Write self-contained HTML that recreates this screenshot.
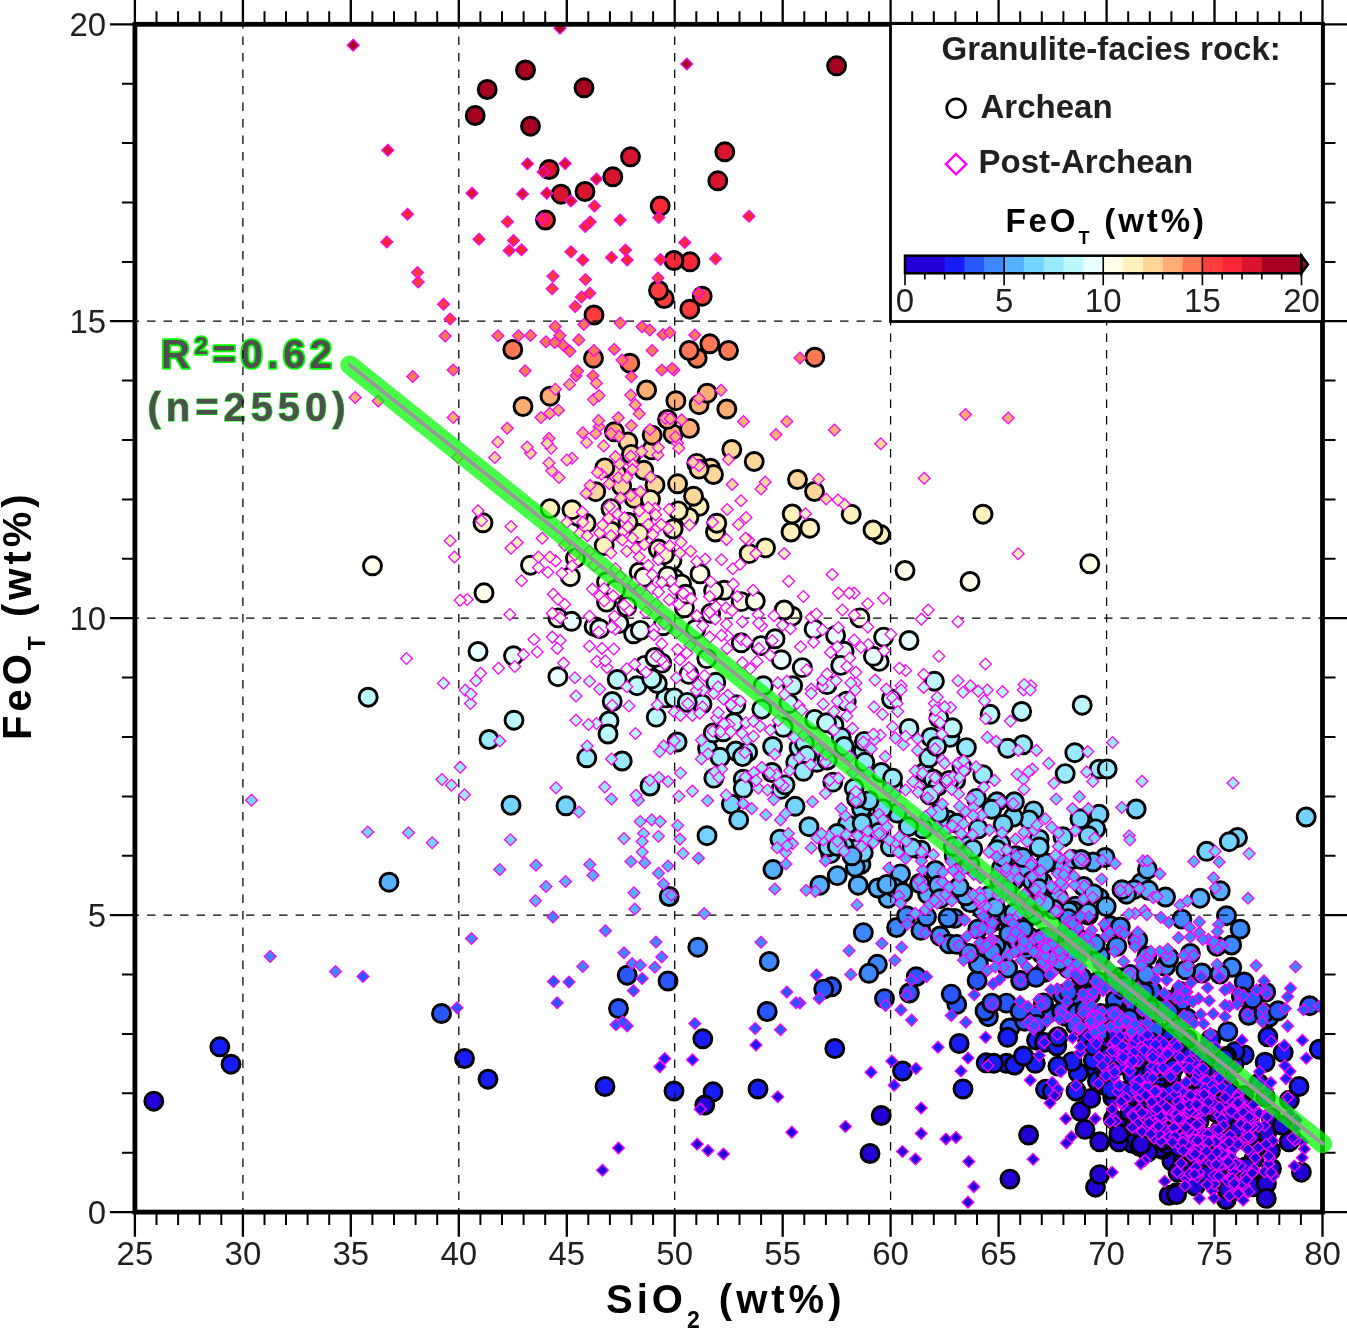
<!DOCTYPE html>
<html lang="en"><head><meta charset="utf-8"><title>FeOT vs SiO2</title>
<style>html,body{margin:0;padding:0;background:#fff}svg{display:block}text{font-family:"Liberation Sans",sans-serif}.tl{font-size:33px;fill:#231f20}.b{font-weight:bold}.c{stroke:#000;stroke-width:2.9}.d{stroke:#f0f;stroke-width:1.3}.k0{fill:#2400d8}.k1{fill:#181cf7}.k2{fill:#2857ff}.k3{fill:#3d87ff}.k4{fill:#56b0ff}.k5{fill:#75d3ff}.k6{fill:#99eaff}.k7{fill:#bcf9ff}.k8{fill:#eaffff}.k9{fill:#ffffea}.k10{fill:#fff1bc}.k11{fill:#ffd699}.k12{fill:#ffac75}.k13{fill:#ff7856}.k14{fill:#ff3d3d}.k15{fill:#f72735}.k16{fill:#d8152f}.k17{fill:#a50021}</style></head><body>
<svg width="1347" height="1328" viewBox="0 0 1347 1328">
<rect width="1347" height="1328" fill="#fff"/>
<defs><clipPath id="cp"><rect x="134.9" y="24.3" width="1187.6" height="1187.8"/></clipPath></defs>
<g clip-path="url(#cp)">
<circle class="c k2" cx="1155.5" cy="1028.7" r="9"/>
<circle class="c k1" cx="1229.3" cy="1087.2" r="9"/>
<circle class="c k5" cx="897.1" cy="813.1" r="9"/>
<circle class="c k3" cx="1000.1" cy="920.5" r="9"/>
<circle class="c k9" cx="606.5" cy="602.1" r="9"/>
<circle class="c k5" cx="1033.6" cy="810.9" r="9"/>
<circle class="c k3" cx="954.6" cy="918.4" r="9"/>
<circle class="c k4" cx="861.0" cy="864.3" r="9"/>
<circle class="c k0" cx="1226.1" cy="1151.9" r="9"/>
<circle class="c k0" cx="1250.5" cy="1115.3" r="9"/>
<circle class="c k3" cx="1201.9" cy="973.0" r="9"/>
<circle class="c k2" cx="1169.8" cy="1000.1" r="9"/>
<circle class="c k1" cx="1137.8" cy="1068.3" r="9"/>
<circle class="c k6" cx="781.0" cy="789.4" r="9"/>
<circle class="c k7" cx="1021.7" cy="711.5" r="9"/>
<circle class="c k1" cx="1187.4" cy="1039.4" r="9"/>
<circle class="c k2" cx="1116.5" cy="1015.3" r="9"/>
<circle class="c k11" cx="655.0" cy="484.9" r="9"/>
<circle class="c k2" cx="1089.4" cy="1033.9" r="9"/>
<circle class="c k3" cx="1231.8" cy="967.3" r="9"/>
<circle class="c k4" cx="947.8" cy="891.3" r="9"/>
<circle class="c k6" cx="622.2" cy="761.0" r="9"/>
<circle class="c k4" cx="1004.0" cy="880.4" r="9"/>
<circle class="c k2" cx="1160.3" cy="1008.5" r="9"/>
<circle class="c k0" cx="1271.5" cy="1168.5" r="9"/>
<circle class="c k7" cx="665.8" cy="697.9" r="9"/>
<circle class="c k9" cx="859.9" cy="617.9" r="9"/>
<circle class="c k13" cx="697.2" cy="358.2" r="9"/>
<circle class="c k6" cx="854.2" cy="788.3" r="9"/>
<circle class="c k1" cx="1174.8" cy="1053.9" r="9"/>
<circle class="c k3" cx="1052.3" cy="938.4" r="9"/>
<circle class="c k4" cx="773.0" cy="869.5" r="9"/>
<circle class="c k1" cx="1130.7" cy="1089.9" r="9"/>
<circle class="c k0" cx="1192.9" cy="1132.3" r="9"/>
<circle class="c k1" cx="1036.5" cy="1040.2" r="9"/>
<circle class="c k3" cx="1022.2" cy="934.5" r="9"/>
<circle class="c k0" cx="1130.8" cy="1112.8" r="9"/>
<circle class="c k6" cx="795.7" cy="762.3" r="9"/>
<circle class="c k5" cx="1029.1" cy="819.9" r="9"/>
<circle class="c k5" cx="511.0" cy="805.2" r="9"/>
<circle class="c k0" cx="1210.1" cy="1108.2" r="9"/>
<circle class="c k0" cx="1270.5" cy="1150.5" r="9"/>
<circle class="c k9" cx="724.3" cy="590.3" r="9"/>
<circle class="c k0" cx="1289.4" cy="1122.7" r="9"/>
<circle class="c k2" cx="1168.8" cy="1010.7" r="9"/>
<circle class="c k3" cx="769.2" cy="961.5" r="9"/>
<circle class="c k1" cx="1149.6" cy="1084.6" r="9"/>
<circle class="c k4" cx="1083.6" cy="886.5" r="9"/>
<circle class="c k5" cx="809.0" cy="826.7" r="9"/>
<circle class="c k4" cx="1044.0" cy="887.0" r="9"/>
<circle class="c k0" cx="1113.3" cy="1119.2" r="9"/>
<circle class="c k8" cx="802.3" cy="667.6" r="9"/>
<circle class="c k2" cx="1134.5" cy="1015.7" r="9"/>
<circle class="c k2" cx="956.8" cy="1004.3" r="9"/>
<circle class="c k5" cx="1237.5" cy="837.5" r="9"/>
<circle class="c k3" cx="1085.3" cy="947.6" r="9"/>
<circle class="c k2" cx="1066.2" cy="1016.6" r="9"/>
<circle class="c k4" cx="1022.1" cy="870.8" r="9"/>
<circle class="c k0" cx="1256.2" cy="1148.9" r="9"/>
<circle class="c k0" cx="1132.4" cy="1143.3" r="9"/>
<circle class="c k11" cx="616.6" cy="473.6" r="9"/>
<circle class="c k2" cx="1009.9" cy="1028.0" r="9"/>
<circle class="c k10" cx="765.5" cy="547.9" r="9"/>
<circle class="c k1" cx="1267.9" cy="1036.8" r="9"/>
<circle class="c k1" cx="1195.3" cy="1070.6" r="9"/>
<circle class="c k9" cx="626.8" cy="606.6" r="9"/>
<circle class="c k0" cx="1289.4" cy="1100.1" r="9"/>
<circle class="c k0" cx="1139.9" cy="1146.5" r="9"/>
<circle class="c k2" cx="1048.5" cy="1012.9" r="9"/>
<circle class="c k5" cx="1039.2" cy="839.1" r="9"/>
<circle class="c k4" cx="897.1" cy="880.7" r="9"/>
<circle class="c k5" cx="855.3" cy="849.0" r="9"/>
<circle class="c k2" cx="1137.0" cy="993.3" r="9"/>
<circle class="c k9" cx="1089.8" cy="563.8" r="9"/>
<circle class="c k6" cx="924.3" cy="772.5" r="9"/>
<circle class="c k2" cx="1150.9" cy="1032.4" r="9"/>
<circle class="c k6" cx="816.9" cy="762.3" r="9"/>
<circle class="c k3" cx="1137.8" cy="940.0" r="9"/>
<circle class="c k7" cx="833.9" cy="725.0" r="9"/>
<circle class="c k1" cx="963.0" cy="1089.0" r="9"/>
<circle class="c k10" cx="586.1" cy="523.3" r="9"/>
<circle class="c k0" cx="1134.8" cy="1104.7" r="9"/>
<circle class="c k5" cx="890.4" cy="846.8" r="9"/>
<circle class="c k0" cx="1291.8" cy="1138.6" r="9"/>
<circle class="c k0" cx="1170.3" cy="1116.1" r="9"/>
<circle class="c k1" cx="1101.1" cy="1056.9" r="9"/>
<circle class="c k5" cx="1013.3" cy="817.1" r="9"/>
<circle class="c k6" cx="713.8" cy="778.1" r="9"/>
<circle class="c k2" cx="1244.2" cy="982.0" r="9"/>
<circle class="c k0" cx="1226.3" cy="1199.6" r="9"/>
<circle class="c k1" cx="1141.9" cy="1071.5" r="9"/>
<circle class="c k7" cx="761.8" cy="709.2" r="9"/>
<circle class="c k9" cx="970.0" cy="581.5" r="9"/>
<circle class="c k7" cx="909.0" cy="728.4" r="9"/>
<circle class="c k1" cx="1110.7" cy="1038.4" r="9"/>
<circle class="c k0" cx="1219.0" cy="1107.2" r="9"/>
<circle class="c k12" cx="699.1" cy="404.7" r="9"/>
<circle class="c k16" cx="585.0" cy="191.5" r="9"/>
<circle class="c k4" cx="996.5" cy="911.2" r="9"/>
<circle class="c k6" cx="735.8" cy="751.0" r="9"/>
<circle class="c k2" cx="1043.4" cy="1002.9" r="9"/>
<circle class="c k3" cx="1054.9" cy="961.3" r="9"/>
<circle class="c k14" cx="664.2" cy="298.5" r="9"/>
<circle class="c k3" cx="998.3" cy="947.5" r="9"/>
<circle class="c k2" cx="1114.9" cy="1007.6" r="9"/>
<circle class="c k0" cx="1208.9" cy="1100.6" r="9"/>
<circle class="c k2" cx="1113.3" cy="1014.6" r="9"/>
<circle class="c k1" cx="1204.1" cy="1087.0" r="9"/>
<circle class="c k9" cx="557.9" cy="617.9" r="9"/>
<circle class="c k6" cx="863.3" cy="751.0" r="9"/>
<circle class="c k4" cx="1141.2" cy="882.9" r="9"/>
<circle class="c k0" cx="1247.0" cy="1113.5" r="9"/>
<circle class="c k2" cx="1134.9" cy="984.9" r="9"/>
<circle class="c k0" cx="1120.1" cy="1127.1" r="9"/>
<circle class="c k5" cx="948.0" cy="819.9" r="9"/>
<circle class="c k2" cx="1180.3" cy="998.8" r="9"/>
<circle class="c k3" cx="1072.2" cy="953.9" r="9"/>
<circle class="c k1" cx="1140.4" cy="1069.2" r="9"/>
<circle class="c k7" cx="657.3" cy="683.5" r="9"/>
<circle class="c k0" cx="1217.4" cy="1102.0" r="9"/>
<circle class="c k5" cx="1014.4" cy="801.8" r="9"/>
<circle class="c k2" cx="1171.0" cy="1010.2" r="9"/>
<circle class="c k9" cx="684.4" cy="607.8" r="9"/>
<circle class="c k11" cx="651.7" cy="449.9" r="9"/>
<circle class="c k9" cx="639.2" cy="572.2" r="9"/>
<circle class="c k2" cx="1134.0" cy="1005.3" r="9"/>
<circle class="c k4" cx="1042.6" cy="882.3" r="9"/>
<circle class="c k12" cx="523.0" cy="406.5" r="9"/>
<circle class="c k7" cx="846.3" cy="701.3" r="9"/>
<circle class="c k9" cx="710.7" cy="613.4" r="9"/>
<circle class="c k8" cx="513.5" cy="655.8" r="9"/>
<circle class="c k4" cx="900.5" cy="873.9" r="9"/>
<circle class="c k4" cx="1001.2" cy="884.3" r="9"/>
<circle class="c k1" cx="464.5" cy="1058.5" r="9"/>
<circle class="c k15" cx="690.0" cy="261.8" r="9"/>
<circle class="c k1" cx="1214.6" cy="1055.3" r="9"/>
<circle class="c k0" cx="1095.5" cy="1187.2" r="9"/>
<circle class="c k1" cx="1244.2" cy="1054.9" r="9"/>
<circle class="c k2" cx="1034.4" cy="1015.0" r="9"/>
<circle class="c k9" cx="606.5" cy="581.8" r="9"/>
<circle class="c k9" cx="674.3" cy="578.4" r="9"/>
<circle class="c k0" cx="1226.7" cy="1188.5" r="9"/>
<circle class="c k0" cx="1155.7" cy="1108.8" r="9"/>
<circle class="c k4" cx="1105.1" cy="857.5" r="9"/>
<circle class="c k3" cx="1043.6" cy="937.4" r="9"/>
<circle class="c k17" cx="525.5" cy="70.0" r="9"/>
<circle class="c k1" cx="1216.4" cy="1084.1" r="9"/>
<circle class="c k4" cx="1028.9" cy="899.6" r="9"/>
<circle class="c k13" cx="814.8" cy="357.2" r="9"/>
<circle class="c k15" cx="674.0" cy="260.5" r="9"/>
<circle class="c k1" cx="1044.4" cy="1042.4" r="9"/>
<circle class="c k3" cx="1075.8" cy="935.6" r="9"/>
<circle class="c k4" cx="1133.9" cy="889.7" r="9"/>
<circle class="c k3" cx="940.1" cy="936.0" r="9"/>
<circle class="c k0" cx="1253.8" cy="1159.1" r="9"/>
<circle class="c k0" cx="1009.9" cy="1179.1" r="9"/>
<circle class="c k0" cx="1253.1" cy="1179.0" r="9"/>
<circle class="c k2" cx="884.5" cy="998.6" r="9"/>
<circle class="c k3" cx="1044.9" cy="972.4" r="9"/>
<circle class="c k4" cx="1058.1" cy="864.6" r="9"/>
<circle class="c k17" cx="836.6" cy="65.8" r="9"/>
<circle class="c k3" cx="896.6" cy="927.5" r="9"/>
<circle class="c k1" cx="1181.0" cy="1089.6" r="9"/>
<circle class="c k4" cx="982.0" cy="909.3" r="9"/>
<circle class="c k4" cx="954.2" cy="855.9" r="9"/>
<circle class="c k4" cx="1024.2" cy="868.2" r="9"/>
<circle class="c k2" cx="1248.7" cy="1015.3" r="9"/>
<circle class="c k2" cx="1265.7" cy="992.2" r="9"/>
<circle class="c k5" cx="882.5" cy="808.6" r="9"/>
<circle class="c k4" cx="970.4" cy="902.6" r="9"/>
<circle class="c k8" cx="741.2" cy="642.8" r="9"/>
<circle class="c k6" cx="785.0" cy="784.9" r="9"/>
<circle class="c k5" cx="967.8" cy="845.5" r="9"/>
<circle class="c k2" cx="1115.9" cy="1013.4" r="9"/>
<circle class="c k3" cx="1216.9" cy="946.2" r="9"/>
<circle class="c k10" cx="809.8" cy="528.2" r="9"/>
<circle class="c k1" cx="1265.1" cy="1062.2" r="9"/>
<circle class="c k2" cx="1090.0" cy="993.5" r="9"/>
<circle class="c k2" cx="1036.6" cy="1024.4" r="9"/>
<circle class="c k2" cx="1062.2" cy="994.5" r="9"/>
<circle class="c k15" cx="545.5" cy="220.0" r="9"/>
<circle class="c k0" cx="1265.5" cy="1097.3" r="9"/>
<circle class="c k1" cx="713.0" cy="1091.8" r="9"/>
<circle class="c k1" cx="1045.5" cy="1089.3" r="9"/>
<circle class="c k8" cx="909.0" cy="640.5" r="9"/>
<circle class="c k1" cx="1140.3" cy="1039.4" r="9"/>
<circle class="c k4" cx="1099.4" cy="898.0" r="9"/>
<circle class="c k3" cx="1100.1" cy="956.2" r="9"/>
<circle class="c k6" cx="933.3" cy="779.2" r="9"/>
<circle class="c k0" cx="1220.2" cy="1129.7" r="9"/>
<circle class="c k1" cx="1096.0" cy="1068.9" r="9"/>
<circle class="c k1" cx="1201.8" cy="1076.9" r="9"/>
<circle class="c k16" cx="549.2" cy="169.5" r="9"/>
<circle class="c k9" cx="570.3" cy="576.7" r="9"/>
<circle class="c k2" cx="1113.6" cy="977.0" r="9"/>
<circle class="c k0" cx="1196.5" cy="1162.5" r="9"/>
<circle class="c k7" cx="792.6" cy="685.7" r="9"/>
<circle class="c k2" cx="831.6" cy="986.8" r="9"/>
<circle class="c k1" cx="1099.6" cy="1041.2" r="9"/>
<circle class="c k4" cx="999.8" cy="880.7" r="9"/>
<circle class="c k2" cx="618.5" cy="1008.5" r="9"/>
<circle class="c k2" cx="1078.5" cy="1018.3" r="9"/>
<circle class="c k0" cx="1171.9" cy="1161.2" r="9"/>
<circle class="c k6" cx="841.2" cy="737.4" r="9"/>
<circle class="c k7" cx="938.9" cy="718.2" r="9"/>
<circle class="c k0" cx="1289.0" cy="1141.9" r="9"/>
<circle class="c k1" cx="1299.0" cy="1086.5" r="9"/>
<circle class="c k2" cx="977.1" cy="980.5" r="9"/>
<circle class="c k7" cx="674.3" cy="697.9" r="9"/>
<circle class="c k2" cx="1172.5" cy="1030.3" r="9"/>
<circle class="c k2" cx="1136.7" cy="1023.8" r="9"/>
<circle class="c k5" cx="844.1" cy="846.2" r="9"/>
<circle class="c k3" cx="1231.6" cy="945.0" r="9"/>
<circle class="c k1" cx="1007.7" cy="1037.3" r="9"/>
<circle class="c k4" cx="1034.2" cy="915.0" r="9"/>
<circle class="c k2" cx="1100.3" cy="1013.4" r="9"/>
<circle class="c k4" cx="855.3" cy="867.1" r="9"/>
<circle class="c k8" cx="644.9" cy="665.4" r="9"/>
<circle class="c k1" cx="1056.8" cy="1045.8" r="9"/>
<circle class="c k1" cx="1210.4" cy="1058.3" r="9"/>
<circle class="c k1" cx="1006.5" cy="1063.3" r="9"/>
<circle class="c k3" cx="1010.4" cy="942.2" r="9"/>
<circle class="c k3" cx="1146.9" cy="956.3" r="9"/>
<circle class="c k10" cx="578.2" cy="516.5" r="9"/>
<circle class="c k0" cx="1271.1" cy="1117.5" r="9"/>
<circle class="c k7" cx="763.3" cy="685.7" r="9"/>
<circle class="c k0" cx="1227.4" cy="1143.3" r="9"/>
<circle class="c k5" cx="1099.1" cy="814.3" r="9"/>
<circle class="c k1" cx="1098.2" cy="1081.4" r="9"/>
<circle class="c k4" cx="1008.6" cy="862.1" r="9"/>
<circle class="c k3" cx="1023.5" cy="938.0" r="9"/>
<circle class="c k6" cx="1099.1" cy="769.1" r="9"/>
<circle class="c k2" cx="1113.0" cy="978.3" r="9"/>
<circle class="c k1" cx="1319.3" cy="1049.2" r="9"/>
<circle class="c k2" cx="823.7" cy="989.1" r="9"/>
<circle class="c k3" cx="978.3" cy="963.6" r="9"/>
<circle class="c k5" cx="731.3" cy="804.1" r="9"/>
<circle class="c k1" cx="834.8" cy="1048.5" r="9"/>
<circle class="c k3" cx="1068.5" cy="968.7" r="9"/>
<circle class="c k7" cx="702.0" cy="704.1" r="9"/>
<circle class="c k0" cx="1200.7" cy="1162.0" r="9"/>
<circle class="c k1" cx="1283.2" cy="1052.6" r="9"/>
<circle class="c k11" cx="604.8" cy="467.9" r="9"/>
<circle class="c k2" cx="1241.4" cy="996.7" r="9"/>
<circle class="c k6" cx="955.6" cy="780.4" r="9"/>
<circle class="c k10" cx="642.6" cy="517.6" r="9"/>
<circle class="c k4" cx="1050.5" cy="899.5" r="9"/>
<circle class="c k3" cx="1240.1" cy="929.2" r="9"/>
<circle class="c k0" cx="1183.2" cy="1159.8" r="9"/>
<circle class="c k0" cx="1186.7" cy="1148.1" r="9"/>
<circle class="c k14" cx="702.2" cy="296.2" r="9"/>
<circle class="c k2" cx="1115.4" cy="1000.1" r="9"/>
<circle class="c k8" cx="844.1" cy="651.3" r="9"/>
<circle class="c k8" cx="557.9" cy="676.7" r="9"/>
<circle class="c k2" cx="1097.9" cy="1020.8" r="9"/>
<circle class="c k1" cx="1093.3" cy="1060.2" r="9"/>
<circle class="c k4" cx="858.2" cy="885.2" r="9"/>
<circle class="c k4" cx="935.5" cy="870.5" r="9"/>
<circle class="c k4" cx="1015.5" cy="855.8" r="9"/>
<circle class="c k4" cx="1026.0" cy="909.7" r="9"/>
<circle class="c k4" cx="1085.6" cy="908.1" r="9"/>
<circle class="c k10" cx="791.0" cy="532.0" r="9"/>
<circle class="c k0" cx="1199.4" cy="1164.8" r="9"/>
<circle class="c k3" cx="1007.6" cy="968.1" r="9"/>
<circle class="c k4" cx="1045.5" cy="862.8" r="9"/>
<circle class="c k3" cx="1069.6" cy="968.7" r="9"/>
<circle class="c k4" cx="1093.0" cy="862.0" r="9"/>
<circle class="c k0" cx="1254.1" cy="1134.6" r="9"/>
<circle class="c k2" cx="668.0" cy="981.0" r="9"/>
<circle class="c k16" cx="561.0" cy="194.2" r="9"/>
<circle class="c k0" cx="1150.0" cy="1108.7" r="9"/>
<circle class="c k0" cx="1233.6" cy="1182.7" r="9"/>
<circle class="c k1" cx="1169.4" cy="1045.2" r="9"/>
<circle class="c k0" cx="704.8" cy="1105.0" r="9"/>
<circle class="c k6" cx="743.2" cy="779.2" r="9"/>
<circle class="c k5" cx="1095.7" cy="828.9" r="9"/>
<circle class="c k7" cx="783.3" cy="727.3" r="9"/>
<circle class="c k7" cx="612.2" cy="701.5" r="9"/>
<circle class="c k2" cx="1119.8" cy="977.6" r="9"/>
<circle class="c k1" cx="1168.2" cy="1075.8" r="9"/>
<circle class="c k2" cx="1136.5" cy="1033.5" r="9"/>
<circle class="c k2" cx="988.4" cy="1016.7" r="9"/>
<circle class="c k6" cx="799.1" cy="747.6" r="9"/>
<circle class="c k5" cx="861.6" cy="808.6" r="9"/>
<circle class="c k0" cx="1203.0" cy="1108.4" r="9"/>
<circle class="c k11" cx="627.9" cy="442.0" r="9"/>
<circle class="c k10" cx="880.5" cy="534.5" r="9"/>
<circle class="c k6" cx="650.0" cy="786.0" r="9"/>
<circle class="c k8" cx="883.6" cy="637.1" r="9"/>
<circle class="c k6" cx="772.6" cy="746.5" r="9"/>
<circle class="c k4" cx="888.1" cy="898.2" r="9"/>
<circle class="c k3" cx="989.8" cy="923.4" r="9"/>
<circle class="c k0" cx="1171.2" cy="1126.8" r="9"/>
<circle class="c k4" cx="969.9" cy="864.2" r="9"/>
<circle class="c k8" cx="835.6" cy="635.4" r="9"/>
<circle class="c k1" cx="1097.4" cy="1081.1" r="9"/>
<circle class="c k2" cx="1144.0" cy="1008.9" r="9"/>
<circle class="c k12" cx="646.6" cy="390.0" r="9"/>
<circle class="c k0" cx="1209.0" cy="1174.0" r="9"/>
<circle class="c k6" cx="586.8" cy="757.8" r="9"/>
<circle class="c k9" cx="672.0" cy="560.3" r="9"/>
<circle class="c k1" cx="1210.9" cy="1039.1" r="9"/>
<circle class="c k3" cx="1015.0" cy="926.6" r="9"/>
<circle class="c k3" cx="949.1" cy="943.9" r="9"/>
<circle class="c k4" cx="893.8" cy="887.4" r="9"/>
<circle class="c k0" cx="1214.0" cy="1101.7" r="9"/>
<circle class="c k6" cx="950.0" cy="737.4" r="9"/>
<circle class="c k5" cx="868.9" cy="800.7" r="9"/>
<circle class="c k1" cx="1155.7" cy="1091.7" r="9"/>
<circle class="c k1" cx="1121.0" cy="1047.1" r="9"/>
<circle class="c k7" cx="687.3" cy="702.4" r="9"/>
<circle class="c k11" cx="710.5" cy="468.2" r="9"/>
<circle class="c k7" cx="1082.2" cy="705.2" r="9"/>
<circle class="c k1" cx="1234.1" cy="1063.9" r="9"/>
<circle class="c k13" cx="689.2" cy="350.5" r="9"/>
<circle class="c k0" cx="1214.1" cy="1148.5" r="9"/>
<circle class="c k3" cx="1072.6" cy="926.9" r="9"/>
<circle class="c k4" cx="877.9" cy="888.0" r="9"/>
<circle class="c k8" cx="688.9" cy="674.4" r="9"/>
<circle class="c k14" cx="594.0" cy="315.0" r="9"/>
<circle class="c k5" cx="738.7" cy="819.9" r="9"/>
<circle class="c k7" cx="934.4" cy="681.2" r="9"/>
<circle class="c k7" cx="814.7" cy="719.4" r="9"/>
<circle class="c k1" cx="1106.0" cy="1047.9" r="9"/>
<circle class="c k5" cx="566.0" cy="805.8" r="9"/>
<circle class="c k1" cx="1104.0" cy="1085.0" r="9"/>
<circle class="c k6" cx="982.8" cy="774.7" r="9"/>
<circle class="c k4" cx="1200.0" cy="898.2" r="9"/>
<circle class="c k1" cx="488.0" cy="1079.2" r="9"/>
<circle class="c k4" cx="669.2" cy="896.5" r="9"/>
<circle class="c k10" cx="611.0" cy="531.2" r="9"/>
<circle class="c k13" cx="629.8" cy="363.2" r="9"/>
<circle class="c k3" cx="920.9" cy="930.4" r="9"/>
<circle class="c k10" cx="658.4" cy="549.0" r="9"/>
<circle class="c k4" cx="1126.5" cy="894.2" r="9"/>
<circle class="c k2" cx="1073.5" cy="1010.2" r="9"/>
<circle class="c k4" cx="965.8" cy="895.8" r="9"/>
<circle class="c k0" cx="1240.8" cy="1104.4" r="9"/>
<circle class="c k3" cx="1011.7" cy="947.4" r="9"/>
<circle class="c k3" cx="1022.0" cy="948.4" r="9"/>
<circle class="c k2" cx="1075.5" cy="1024.9" r="9"/>
<circle class="c k0" cx="1181.7" cy="1168.0" r="9"/>
<circle class="c k11" cx="696.8" cy="463.4" r="9"/>
<circle class="c k0" cx="1233.0" cy="1191.4" r="9"/>
<circle class="c k12" cx="614.4" cy="431.8" r="9"/>
<circle class="c k2" cx="1122.6" cy="989.8" r="9"/>
<circle class="c k1" cx="1149.8" cy="1080.9" r="9"/>
<circle class="c k1" cx="1106.3" cy="1076.1" r="9"/>
<circle class="c k12" cx="673.1" cy="434.1" r="9"/>
<circle class="c k1" cx="1181.8" cy="1045.9" r="9"/>
<circle class="c k6" cx="772.0" cy="772.5" r="9"/>
<circle class="c k5" cx="1079.9" cy="818.8" r="9"/>
<circle class="c k9" cx="713.6" cy="590.8" r="9"/>
<circle class="c k5" cx="847.4" cy="824.4" r="9"/>
<circle class="c k0" cx="1194.0" cy="1149.1" r="9"/>
<circle class="c k6" cx="937.8" cy="786.0" r="9"/>
<circle class="c k11" cx="595.7" cy="491.7" r="9"/>
<circle class="c k10" cx="639.2" cy="533.5" r="9"/>
<circle class="c k7" cx="891.5" cy="699.0" r="9"/>
<circle class="c k0" cx="1193.0" cy="1120.1" r="9"/>
<circle class="c k4" cx="1022.7" cy="857.5" r="9"/>
<circle class="c k8" cx="814.1" cy="629.2" r="9"/>
<circle class="c k16" cx="717.8" cy="180.8" r="9"/>
<circle class="c k4" cx="1001.3" cy="868.3" r="9"/>
<circle class="c k2" cx="1187.3" cy="1018.2" r="9"/>
<circle class="c k0" cx="1215.5" cy="1112.2" r="9"/>
<circle class="c k6" cx="961.9" cy="766.8" r="9"/>
<circle class="c k1" cx="219.8" cy="1046.8" r="9"/>
<circle class="c k5" cx="1063.0" cy="836.8" r="9"/>
<circle class="c k10" cx="572.0" cy="509.7" r="9"/>
<circle class="c k2" cx="1309.7" cy="1005.7" r="9"/>
<circle class="c k1" cx="1035.3" cy="1063.3" r="9"/>
<circle class="c k11" cx="677.6" cy="483.8" r="9"/>
<circle class="c k1" cx="1204.1" cy="1062.6" r="9"/>
<circle class="c k11" cx="713.5" cy="474.5" r="9"/>
<circle class="c k9" cx="905.0" cy="570.5" r="9"/>
<circle class="c k4" cx="996.8" cy="910.9" r="9"/>
<circle class="c k11" cx="754.2" cy="461.5" r="9"/>
<circle class="c k6" cx="928.8" cy="757.8" r="9"/>
<circle class="c k3" cx="1067.7" cy="939.9" r="9"/>
<circle class="c k5" cx="956.8" cy="823.3" r="9"/>
<circle class="c k1" cx="986.2" cy="1062.8" r="9"/>
<circle class="c k0" cx="1215.7" cy="1175.5" r="9"/>
<circle class="c k6" cx="1022.9" cy="744.8" r="9"/>
<circle class="c k1" cx="1101.0" cy="1040.6" r="9"/>
<circle class="c k9" cx="792.1" cy="616.2" r="9"/>
<circle class="c k4" cx="1024.1" cy="905.4" r="9"/>
<circle class="c k5" cx="875.7" cy="822.2" r="9"/>
<circle class="c k4" cx="1057.4" cy="906.3" r="9"/>
<circle class="c k8" cx="661.8" cy="663.1" r="9"/>
<circle class="c k0" cx="1118.9" cy="1141.8" r="9"/>
<circle class="c k1" cx="959.2" cy="1043.5" r="9"/>
<circle class="c k8" cx="695.7" cy="629.2" r="9"/>
<circle class="c k7" cx="735.8" cy="704.7" r="9"/>
<circle class="c k1" cx="1127.3" cy="1090.6" r="9"/>
<circle class="c k3" cx="1129.9" cy="974.4" r="9"/>
<circle class="c k2" cx="1082.7" cy="990.2" r="9"/>
<circle class="c k1" cx="1105.0" cy="1036.2" r="9"/>
<circle class="c k1" cx="1078.3" cy="1072.9" r="9"/>
<circle class="c k4" cx="1147.4" cy="869.4" r="9"/>
<circle class="c k5" cx="1000.7" cy="844.0" r="9"/>
<circle class="c k5" cx="879.1" cy="832.3" r="9"/>
<circle class="c k2" cx="1227.8" cy="1031.7" r="9"/>
<circle class="c k1" cx="1146.3" cy="1048.7" r="9"/>
<circle class="c k1" cx="1171.0" cy="1075.8" r="9"/>
<circle class="c k4" cx="988.6" cy="895.8" r="9"/>
<circle class="c k3" cx="1181.9" cy="919.1" r="9"/>
<circle class="c k9" cx="372.5" cy="565.8" r="9"/>
<circle class="c k6" cx="804.5" cy="743.1" r="9"/>
<circle class="c k0" cx="1144.2" cy="1127.8" r="9"/>
<circle class="c k1" cx="1215.3" cy="1075.1" r="9"/>
<circle class="c k10" cx="699.1" cy="506.3" r="9"/>
<circle class="c k2" cx="1080.0" cy="996.7" r="9"/>
<circle class="c k1" cx="231.0" cy="1064.2" r="9"/>
<circle class="c k2" cx="1149.3" cy="1007.8" r="9"/>
<circle class="c k0" cx="1262.1" cy="1184.1" r="9"/>
<circle class="c k5" cx="923.1" cy="828.9" r="9"/>
<circle class="c k5" cx="920.9" cy="850.2" r="9"/>
<circle class="c k1" cx="1108.5" cy="1039.3" r="9"/>
<circle class="c k8" cx="571.5" cy="621.3" r="9"/>
<circle class="c k1" cx="1174.8" cy="1052.5" r="9"/>
<circle class="c k8" cx="633.6" cy="633.8" r="9"/>
<circle class="c k5" cx="837.3" cy="833.5" r="9"/>
<circle class="c k6" cx="864.9" cy="762.3" r="9"/>
<circle class="c k3" cx="697.8" cy="947.2" r="9"/>
<circle class="c k10" cx="749.1" cy="553.6" r="9"/>
<circle class="c k8" cx="594.1" cy="626.4" r="9"/>
<circle class="c k3" cx="1002.7" cy="951.3" r="9"/>
<circle class="c k1" cx="1158.5" cy="1055.0" r="9"/>
<circle class="c k1" cx="902.5" cy="1071.0" r="9"/>
<circle class="c k3" cx="1146.3" cy="974.4" r="9"/>
<circle class="c k1" cx="1057.9" cy="1036.8" r="9"/>
<circle class="c k5" cx="996.9" cy="801.8" r="9"/>
<circle class="c k1" cx="1120.2" cy="1044.0" r="9"/>
<circle class="c k10" cx="604.2" cy="545.6" r="9"/>
<circle class="c k6" cx="931.0" cy="737.4" r="9"/>
<circle class="c k17" cx="530.5" cy="126.2" r="9"/>
<circle class="c k3" cx="1226.5" cy="915.7" r="9"/>
<circle class="c k0" cx="1266.8" cy="1132.8" r="9"/>
<circle class="c k0" cx="1253.2" cy="1186.9" r="9"/>
<circle class="c k10" cx="611.0" cy="508.6" r="9"/>
<circle class="c k10" cx="673.1" cy="528.9" r="9"/>
<circle class="c k7" cx="733.6" cy="722.8" r="9"/>
<circle class="c k1" cx="1122.2" cy="1064.1" r="9"/>
<circle class="c k3" cx="1110.2" cy="925.8" r="9"/>
<circle class="c k0" cx="1118.9" cy="1133.9" r="9"/>
<circle class="c k4" cx="927.6" cy="894.2" r="9"/>
<circle class="c k8" cx="640.4" cy="630.4" r="9"/>
<circle class="c k12" cx="652.2" cy="435.2" r="9"/>
<circle class="c k4" cx="1058.4" cy="897.8" r="9"/>
<circle class="c k7" cx="637.0" cy="685.7" r="9"/>
<circle class="c k3" cx="1059.7" cy="961.1" r="9"/>
<circle class="c k10" cx="792.2" cy="514.0" r="9"/>
<circle class="c k0" cx="1227.7" cy="1189.3" r="9"/>
<circle class="c k5" cx="795.1" cy="806.3" r="9"/>
<circle class="c k9" cx="741.2" cy="601.6" r="9"/>
<circle class="c k2" cx="1113.3" cy="1013.5" r="9"/>
<circle class="c k5" cx="863.3" cy="852.4" r="9"/>
<circle class="c k6" cx="936.7" cy="746.5" r="9"/>
<circle class="c k2" cx="1090.6" cy="994.7" r="9"/>
<circle class="c k1" cx="1229.1" cy="1090.5" r="9"/>
<circle class="c k0" cx="1216.2" cy="1162.4" r="9"/>
<circle class="c k1" cx="1072.1" cy="1061.6" r="9"/>
<circle class="c k1" cx="1202.0" cy="1071.7" r="9"/>
<circle class="c k0" cx="1028.6" cy="1135.0" r="9"/>
<circle class="c k0" cx="1229.1" cy="1116.3" r="9"/>
<circle class="c k1" cx="1168.6" cy="1038.6" r="9"/>
<circle class="c k1" cx="1235.2" cy="1051.5" r="9"/>
<circle class="c k3" cx="956.8" cy="944.4" r="9"/>
<circle class="c k11" cx="621.7" cy="486.0" r="9"/>
<circle class="c k4" cx="938.4" cy="885.2" r="9"/>
<circle class="c k9" cx="530.5" cy="565.2" r="9"/>
<circle class="c k4" cx="1090.0" cy="902.1" r="9"/>
<circle class="c k3" cx="992.4" cy="950.1" r="9"/>
<circle class="c k1" cx="1152.8" cy="1072.3" r="9"/>
<circle class="c k0" cx="1080.5" cy="1111.3" r="9"/>
<circle class="c k0" cx="1178.0" cy="1172.3" r="9"/>
<circle class="c k1" cx="1171.2" cy="1048.4" r="9"/>
<circle class="c k3" cx="1026.4" cy="949.8" r="9"/>
<circle class="c k0" cx="1219.2" cy="1106.8" r="9"/>
<circle class="c k0" cx="1171.7" cy="1108.2" r="9"/>
<circle class="c k0" cx="1224.9" cy="1109.3" r="9"/>
<circle class="c k5" cx="779.9" cy="839.1" r="9"/>
<circle class="c k11" cx="731.8" cy="449.5" r="9"/>
<circle class="c k7" cx="514.0" cy="720.2" r="9"/>
<circle class="c k6" cx="743.2" cy="788.3" r="9"/>
<circle class="c k2" cx="985.0" cy="1011.0" r="9"/>
<circle class="c k3" cx="1044.4" cy="971.5" r="9"/>
<circle class="c k4" cx="1075.4" cy="906.3" r="9"/>
<circle class="c k0" cx="1223.5" cy="1174.9" r="9"/>
<circle class="c k2" cx="1269.1" cy="1017.0" r="9"/>
<circle class="c k4" cx="1073.0" cy="910.7" r="9"/>
<circle class="c k1" cx="1220.8" cy="1080.2" r="9"/>
<circle class="c k8" cx="618.9" cy="623.6" r="9"/>
<circle class="c k6" cx="489.0" cy="739.5" r="9"/>
<circle class="c k11" cx="634.2" cy="498.4" r="9"/>
<circle class="c k0" cx="1208.1" cy="1137.6" r="9"/>
<circle class="c k7" cx="651.7" cy="678.9" r="9"/>
<circle class="c k5" cx="1206.7" cy="851.3" r="9"/>
<circle class="c k1" cx="1178.8" cy="1051.6" r="9"/>
<circle class="c k10" cx="873.0" cy="530.0" r="9"/>
<circle class="c k6" cx="806.8" cy="755.5" r="9"/>
<circle class="c k2" cx="1020.6" cy="980.5" r="9"/>
<circle class="c k7" cx="617.2" cy="679.5" r="9"/>
<circle class="c k6" cx="707.6" cy="748.7" r="9"/>
<circle class="c k3" cx="1095.2" cy="943.9" r="9"/>
<circle class="c k11" cx="699.1" cy="469.1" r="9"/>
<circle class="c k6" cx="881.3" cy="772.5" r="9"/>
<circle class="c k12" cx="689.5" cy="428.4" r="9"/>
<circle class="c k3" cx="995.7" cy="945.3" r="9"/>
<circle class="c k9" cx="700.0" cy="573.9" r="9"/>
<circle class="c k4" cx="1032.2" cy="881.0" r="9"/>
<circle class="c k4" cx="1063.0" cy="867.0" r="9"/>
<circle class="c k7" cx="609.0" cy="721.0" r="9"/>
<circle class="c k1" cx="1156.4" cy="1079.9" r="9"/>
<circle class="c k4" cx="940.1" cy="898.7" r="9"/>
<circle class="c k4" cx="1014.1" cy="880.3" r="9"/>
<circle class="c k0" cx="1266.4" cy="1183.7" r="9"/>
<circle class="c k3" cx="1219.9" cy="974.1" r="9"/>
<circle class="c k0" cx="1085.0" cy="1129.4" r="9"/>
<circle class="c k5" cx="972.8" cy="849.2" r="9"/>
<circle class="c k6" cx="832.8" cy="782.1" r="9"/>
<circle class="c k3" cx="984.7" cy="947.1" r="9"/>
<circle class="c k0" cx="1162.5" cy="1149.5" r="9"/>
<circle class="c k0" cx="1160.6" cy="1147.9" r="9"/>
<circle class="c k7" cx="952.3" cy="727.8" r="9"/>
<circle class="c k6" cx="720.0" cy="757.2" r="9"/>
<circle class="c k0" cx="1241.8" cy="1139.1" r="9"/>
<circle class="c k1" cx="1139.4" cy="1046.6" r="9"/>
<circle class="c k0" cx="1099.7" cy="1141.8" r="9"/>
<circle class="c k4" cx="919.7" cy="883.5" r="9"/>
<circle class="c k1" cx="1160.8" cy="1070.7" r="9"/>
<circle class="c k0" cx="1174.8" cy="1133.6" r="9"/>
<circle class="c k0" cx="1164.6" cy="1109.2" r="9"/>
<circle class="c k3" cx="1185.8" cy="969.9" r="9"/>
<circle class="c k0" cx="1169.0" cy="1195.4" r="9"/>
<circle class="c k4" cx="1040.7" cy="894.4" r="9"/>
<circle class="c k3" cx="948.0" cy="917.9" r="9"/>
<circle class="c k6" cx="864.4" cy="741.4" r="9"/>
<circle class="c k9" cx="484.0" cy="592.8" r="9"/>
<circle class="c k6" cx="747.7" cy="752.1" r="9"/>
<circle class="c k4" cx="902.8" cy="892.5" r="9"/>
<circle class="c k1" cx="1201.0" cy="1087.7" r="9"/>
<circle class="c k9" cx="643.8" cy="577.3" r="9"/>
<circle class="c k7" cx="788.9" cy="703.6" r="9"/>
<circle class="c k0" cx="1250.9" cy="1135.8" r="9"/>
<circle class="c k0" cx="1189.4" cy="1125.6" r="9"/>
<circle class="c k2" cx="1100.8" cy="1031.7" r="9"/>
<circle class="c k7" cx="368.2" cy="697.2" r="9"/>
<circle class="c k6" cx="966.4" cy="747.6" r="9"/>
<circle class="c k7" cx="656.2" cy="717.1" r="9"/>
<circle class="c k1" cx="1141.9" cy="1065.4" r="9"/>
<circle class="c k5" cx="1003.1" cy="824.4" r="9"/>
<circle class="c k1" cx="1132.8" cy="1075.3" r="9"/>
<circle class="c k5" cx="976.5" cy="798.4" r="9"/>
<circle class="c k8" cx="879.1" cy="661.4" r="9"/>
<circle class="c k1" cx="1172.9" cy="1091.4" r="9"/>
<circle class="c k5" cx="862.1" cy="823.3" r="9"/>
<circle class="c k1" cx="1121.9" cy="1053.4" r="9"/>
<circle class="c k4" cx="1106.2" cy="906.6" r="9"/>
<circle class="c k3" cx="1116.9" cy="946.2" r="9"/>
<circle class="c k4" cx="1007.4" cy="889.4" r="9"/>
<circle class="c k13" cx="709.8" cy="343.8" r="9"/>
<circle class="c k3" cx="1017.7" cy="942.3" r="9"/>
<circle class="c k0" cx="1167.9" cy="1144.6" r="9"/>
<circle class="c k11" cx="797.5" cy="479.5" r="9"/>
<circle class="c k0" cx="1249.8" cy="1124.3" r="9"/>
<circle class="c k1" cx="1191.3" cy="1055.4" r="9"/>
<circle class="c k10" cx="664.1" cy="554.7" r="9"/>
<circle class="c k10" cx="575.4" cy="558.1" r="9"/>
<circle class="c k9" cx="681.6" cy="584.1" r="9"/>
<circle class="c k0" cx="1133.9" cy="1125.9" r="9"/>
<circle class="c k3" cx="877.4" cy="964.3" r="9"/>
<circle class="c k0" cx="1140.2" cy="1115.4" r="9"/>
<circle class="c k1" cx="1226.8" cy="1056.3" r="9"/>
<circle class="c k4" cx="852.0" cy="855.8" r="9"/>
<circle class="c k14" cx="689.8" cy="309.2" r="9"/>
<circle class="c k4" cx="1093.3" cy="893.7" r="9"/>
<circle class="c k0" cx="1159.4" cy="1093.4" r="9"/>
<circle class="c k9" cx="685.5" cy="594.2" r="9"/>
<circle class="c k17" cx="475.2" cy="115.5" r="9"/>
<circle class="c k0" cx="1162.6" cy="1140.7" r="9"/>
<circle class="c k0" cx="1208.6" cy="1138.0" r="9"/>
<circle class="c k6" cx="742.6" cy="756.6" r="9"/>
<circle class="c k0" cx="1147.7" cy="1152.0" r="9"/>
<circle class="c k1" cx="1148.0" cy="1051.1" r="9"/>
<circle class="c k16" cx="630.5" cy="156.8" r="9"/>
<circle class="c k3" cx="1190.4" cy="953.5" r="9"/>
<circle class="c k1" cx="758.0" cy="1089.0" r="9"/>
<circle class="c k3" cx="926.5" cy="916.8" r="9"/>
<circle class="c k4" cx="1068.9" cy="911.3" r="9"/>
<circle class="c k2" cx="1035.9" cy="977.3" r="9"/>
<circle class="c k2" cx="1182.2" cy="1000.8" r="9"/>
<circle class="c k0" cx="1244.0" cy="1095.4" r="9"/>
<circle class="c k0" cx="1232.6" cy="1166.2" r="9"/>
<circle class="c k3" cx="1009.2" cy="919.8" r="9"/>
<circle class="c k2" cx="627.2" cy="975.2" r="9"/>
<circle class="c k2" cx="1061.8" cy="1011.6" r="9"/>
<circle class="c k6" cx="949.1" cy="780.4" r="9"/>
<circle class="c k7" cx="713.3" cy="732.9" r="9"/>
<circle class="c k3" cx="1068.1" cy="918.6" r="9"/>
<circle class="c k1" cx="1014.5" cy="1065.0" r="9"/>
<circle class="c k3" cx="1030.7" cy="937.8" r="9"/>
<circle class="c k0" cx="1204.7" cy="1108.9" r="9"/>
<circle class="c k5" cx="953.3" cy="846.4" r="9"/>
<circle class="c k1" cx="1228.2" cy="1091.3" r="9"/>
<circle class="c k1" cx="1115.4" cy="1040.5" r="9"/>
<circle class="c k0" cx="1209.7" cy="1100.5" r="9"/>
<circle class="c k10" cx="483.0" cy="522.8" r="9"/>
<circle class="c k2" cx="1111.2" cy="979.9" r="9"/>
<circle class="c k2" cx="767.2" cy="1011.5" r="9"/>
<circle class="c k2" cx="1097.8" cy="981.4" r="9"/>
<circle class="c k11" cx="693.5" cy="496.2" r="9"/>
<circle class="c k16" cx="724.8" cy="151.8" r="9"/>
<circle class="c k10" cx="627.9" cy="522.2" r="9"/>
<circle class="c k0" cx="1140.3" cy="1110.0" r="9"/>
<circle class="c k13" cx="512.8" cy="349.5" r="9"/>
<circle class="c k3" cx="1023.4" cy="929.6" r="9"/>
<circle class="c k4" cx="1122.0" cy="889.7" r="9"/>
<circle class="c k0" cx="1199.1" cy="1121.3" r="9"/>
<circle class="c k0" cx="1301.4" cy="1172.2" r="9"/>
<circle class="c k2" cx="1252.7" cy="999.0" r="9"/>
<circle class="c k12" cx="726.8" cy="409.0" r="9"/>
<circle class="c k0" cx="1236.2" cy="1136.0" r="9"/>
<circle class="c k1" cx="1144.5" cy="1062.2" r="9"/>
<circle class="c k11" cx="631.3" cy="454.4" r="9"/>
<circle class="c k0" cx="1214.6" cy="1103.0" r="9"/>
<circle class="c k10" cx="550.0" cy="508.6" r="9"/>
<circle class="c k3" cx="1165.5" cy="966.5" r="9"/>
<circle class="c k6" cx="1007.6" cy="748.2" r="9"/>
<circle class="c k0" cx="1182.5" cy="1133.1" r="9"/>
<circle class="c k8" cx="478.0" cy="651.5" r="9"/>
<circle class="c k3" cx="1054.5" cy="950.2" r="9"/>
<circle class="c k10" cx="983.0" cy="514.2" r="9"/>
<circle class="c k5" cx="1306.2" cy="817.0" r="9"/>
<circle class="c k1" cx="1052.3" cy="1091.6" r="9"/>
<circle class="c k4" cx="837.3" cy="875.6" r="9"/>
<circle class="c k2" cx="1169.5" cy="1012.1" r="9"/>
<circle class="c k0" cx="1282.2" cy="1125.4" r="9"/>
<circle class="c k2" cx="1068.4" cy="992.0" r="9"/>
<circle class="c k3" cx="1120.3" cy="927.0" r="9"/>
<circle class="c k0" cx="1188.4" cy="1125.6" r="9"/>
<circle class="c k5" cx="1136.2" cy="809.0" r="9"/>
<circle class="c k0" cx="1176.6" cy="1192.7" r="9"/>
<circle class="c k0" cx="1181.0" cy="1099.2" r="9"/>
<circle class="c k4" cx="1088.4" cy="915.0" r="9"/>
<circle class="c k4" cx="1148.6" cy="890.3" r="9"/>
<circle class="c k2" cx="1081.5" cy="977.9" r="9"/>
<circle class="c k2" cx="1081.7" cy="977.4" r="9"/>
<circle class="c k2" cx="1006.5" cy="1003.1" r="9"/>
<circle class="c k1" cx="674.0" cy="1091.0" r="9"/>
<circle class="c k4" cx="389.0" cy="882.2" r="9"/>
<circle class="c k3" cx="868.9" cy="973.3" r="9"/>
<circle class="c k7" cx="990.1" cy="714.3" r="9"/>
<circle class="c k3" cx="906.7" cy="915.7" r="9"/>
<circle class="c k2" cx="909.4" cy="993.0" r="9"/>
<circle class="c k0" cx="1130.2" cy="1112.7" r="9"/>
<circle class="c k3" cx="1008.9" cy="933.8" r="9"/>
<circle class="c k13" cx="593.5" cy="358.2" r="9"/>
<circle class="c k4" cx="1088.1" cy="912.5" r="9"/>
<circle class="c k2" cx="1076.9" cy="1013.0" r="9"/>
<circle class="c k3" cx="1025.2" cy="945.1" r="9"/>
<circle class="c k4" cx="1054.0" cy="909.5" r="9"/>
<circle class="c k7" cx="723.4" cy="731.8" r="9"/>
<circle class="c k10" cx="650.5" cy="499.6" r="9"/>
<circle class="c k2" cx="1024.6" cy="1021.2" r="9"/>
<circle class="c k1" cx="1111.1" cy="1062.9" r="9"/>
<circle class="c k0" cx="1170.0" cy="1138.2" r="9"/>
<circle class="c k1" cx="1173.8" cy="1068.2" r="9"/>
<circle class="c k4" cx="1165.5" cy="897.0" r="9"/>
<circle class="c k12" cx="667.5" cy="419.4" r="9"/>
<circle class="c k1" cx="1146.8" cy="1078.8" r="9"/>
<circle class="c k1" cx="1023.5" cy="1056.0" r="9"/>
<circle class="c k3" cx="1008.1" cy="916.8" r="9"/>
<circle class="c k0" cx="1207.4" cy="1174.8" r="9"/>
<circle class="c k1" cx="1194.4" cy="1067.0" r="9"/>
<circle class="c k0" cx="1241.5" cy="1103.7" r="9"/>
<circle class="c k1" cx="993.6" cy="1063.3" r="9"/>
<circle class="c k0" cx="1220.9" cy="1147.3" r="9"/>
<circle class="c k6" cx="892.6" cy="786.0" r="9"/>
<circle class="c k7" cx="826.5" cy="722.8" r="9"/>
<circle class="c k15" cx="660.2" cy="206.0" r="9"/>
<circle class="c k1" cx="1146.7" cy="1052.8" r="9"/>
<circle class="c k6" cx="1065.2" cy="773.6" r="9"/>
<circle class="c k9" cx="784.2" cy="610.0" r="9"/>
<circle class="c k8" cx="599.7" cy="628.7" r="9"/>
<circle class="c k11" cx="643.8" cy="470.2" r="9"/>
<circle class="c k0" cx="1206.4" cy="1101.4" r="9"/>
<circle class="c k5" cx="1039.2" cy="847.0" r="9"/>
<circle class="c k0" cx="1140.6" cy="1130.0" r="9"/>
<circle class="c k0" cx="1195.3" cy="1186.2" r="9"/>
<circle class="c k0" cx="1220.8" cy="1108.8" r="9"/>
<circle class="c k8" cx="706.8" cy="658.6" r="9"/>
<circle class="c k4" cx="1003.3" cy="857.7" r="9"/>
<circle class="c k5" cx="911.8" cy="847.9" r="9"/>
<circle class="c k6" cx="803.4" cy="771.3" r="9"/>
<circle class="c k5" cx="978.2" cy="828.9" r="9"/>
<circle class="c k0" cx="1170.5" cy="1107.5" r="9"/>
<circle class="c k17" cx="487.2" cy="89.5" r="9"/>
<circle class="c k5" cx="707.0" cy="835.7" r="9"/>
<circle class="c k8" cx="873.4" cy="656.3" r="9"/>
<circle class="c k8" cx="663.0" cy="625.8" r="9"/>
<circle class="c k1" cx="1119.1" cy="1065.4" r="9"/>
<circle class="c k17" cx="584.0" cy="87.8" r="9"/>
<circle class="c k4" cx="959.1" cy="886.8" r="9"/>
<circle class="c k2" cx="1264.0" cy="1013.1" r="9"/>
<circle class="c k0" cx="1245.5" cy="1167.0" r="9"/>
<circle class="c k2" cx="1085.1" cy="1009.4" r="9"/>
<circle class="c k1" cx="1127.4" cy="1036.1" r="9"/>
<circle class="c k1" cx="1087.4" cy="1039.4" r="9"/>
<circle class="c k0" cx="1112.8" cy="1097.4" r="9"/>
<circle class="c k3" cx="1041.7" cy="954.0" r="9"/>
<circle class="c k0" cx="1179.0" cy="1147.4" r="9"/>
<circle class="c k12" cx="675.9" cy="400.7" r="9"/>
<circle class="c k1" cx="1130.5" cy="1043.8" r="9"/>
<circle class="c k0" cx="1228.9" cy="1119.5" r="9"/>
<circle class="c k1" cx="1171.2" cy="1093.3" r="9"/>
<circle class="c k0" cx="1266.3" cy="1198.4" r="9"/>
<circle class="c k8" cx="781.3" cy="659.7" r="9"/>
<circle class="c k0" cx="1195.4" cy="1096.4" r="9"/>
<circle class="c k10" cx="688.9" cy="517.6" r="9"/>
<circle class="c k2" cx="991.8" cy="1003.1" r="9"/>
<circle class="c k9" cx="755.3" cy="601.0" r="9"/>
<circle class="c k4" cx="995.2" cy="907.2" r="9"/>
<circle class="c k1" cx="1138.2" cy="1043.6" r="9"/>
<circle class="c k4" cx="819.8" cy="885.2" r="9"/>
<circle class="c k1" cx="702.8" cy="1038.8" r="9"/>
<circle class="c k8" cx="761.0" cy="645.6" r="9"/>
<circle class="c k4" cx="1014.0" cy="913.0" r="9"/>
<circle class="c k4" cx="1038.0" cy="877.0" r="9"/>
<circle class="c k7" cx="715.8" cy="682.3" r="9"/>
<circle class="c k8" cx="775.1" cy="638.8" r="9"/>
<circle class="c k8" cx="655.0" cy="657.5" r="9"/>
<circle class="c k2" cx="1152.5" cy="991.3" r="9"/>
<circle class="c k0" cx="1228.4" cy="1139.0" r="9"/>
<circle class="c k6" cx="929.9" cy="795.0" r="9"/>
<circle class="c k5" cx="1229.3" cy="841.7" r="9"/>
<circle class="c k11" cx="814.5" cy="491.5" r="9"/>
<circle class="c k4" cx="1072.3" cy="859.5" r="9"/>
<circle class="c k13" cx="728.5" cy="350.5" r="9"/>
<circle class="c k2" cx="1278.1" cy="1010.8" r="9"/>
<circle class="c k7" cx="608.0" cy="734.0" r="9"/>
<circle class="c k4" cx="1220.3" cy="890.8" r="9"/>
<circle class="c k3" cx="969.2" cy="953.4" r="9"/>
<circle class="c k2" cx="1129.3" cy="1018.7" r="9"/>
<circle class="c k3" cx="1071.1" cy="936.8" r="9"/>
<circle class="c k1" cx="1093.8" cy="1046.4" r="9"/>
<circle class="c k16" cx="612.8" cy="176.8" r="9"/>
<circle class="c k1" cx="1057.9" cy="1066.1" r="9"/>
<circle class="c k1" cx="1106.8" cy="1085.3" r="9"/>
<circle class="c k5" cx="1088.4" cy="835.7" r="9"/>
<circle class="c k1" cx="1116.3" cy="1054.5" r="9"/>
<circle class="c k0" cx="1090.8" cy="1098.4" r="9"/>
<circle class="c k2" cx="1181.2" cy="991.7" r="9"/>
<circle class="c k10" cx="678.2" cy="510.9" r="9"/>
<circle class="c k5" cx="830.5" cy="853.6" r="9"/>
<circle class="c k6" cx="1107.2" cy="769.0" r="9"/>
<circle class="c k0" cx="870.0" cy="1153.5" r="9"/>
<circle class="c k1" cx="1258.7" cy="1083.3" r="9"/>
<circle class="c k6" cx="1074.8" cy="752.7" r="9"/>
<circle class="c k5" cx="828.2" cy="846.8" r="9"/>
<circle class="c k0" cx="1136.8" cy="1118.2" r="9"/>
<circle class="c k6" cx="892.6" cy="778.1" r="9"/>
<circle class="c k2" cx="1020.1" cy="1011.0" r="9"/>
<circle class="c k5" cx="837.3" cy="846.2" r="9"/>
<circle class="c k9" cx="667.5" cy="576.1" r="9"/>
<circle class="c k1" cx="1116.8" cy="1034.9" r="9"/>
<circle class="c k3" cx="863.3" cy="932.6" r="9"/>
<circle class="c k6" cx="827.1" cy="760.0" r="9"/>
<circle class="c k14" cx="658.5" cy="290.5" r="9"/>
<circle class="c k5" cx="908.4" cy="826.7" r="9"/>
<circle class="c k2" cx="916.3" cy="976.7" r="9"/>
<circle class="c k1" cx="605.0" cy="1086.5" r="9"/>
<circle class="c k1" cx="1110.6" cy="1089.4" r="9"/>
<circle class="c k2" cx="1151.9" cy="1033.8" r="9"/>
<circle class="c k0" cx="153.8" cy="1101.2" r="9"/>
<circle class="c k0" cx="1150.1" cy="1113.9" r="9"/>
<circle class="c k8" cx="840.7" cy="665.4" r="9"/>
<circle class="c k6" cx="677.1" cy="742.0" r="9"/>
<circle class="c k10" cx="715.5" cy="532.0" r="9"/>
<circle class="c k5" cx="991.8" cy="809.2" r="9"/>
<circle class="c k4" cx="1081.2" cy="859.5" r="9"/>
<circle class="c k1" cx="1124.1" cy="1049.2" r="9"/>
<circle class="c k2" cx="441.5" cy="1013.5" r="9"/>
<circle class="c k1" cx="1150.0" cy="1072.7" r="9"/>
<circle class="c k2" cx="1154.8" cy="1030.1" r="9"/>
<circle class="c k5" cx="856.5" cy="798.4" r="9"/>
<circle class="c k3" cx="977.8" cy="929.1" r="9"/>
<circle class="c k0" cx="1175.8" cy="1116.8" r="9"/>
<circle class="c k0" cx="1184.7" cy="1106.7" r="9"/>
<circle class="c k2" cx="951.2" cy="994.1" r="9"/>
<circle class="c k2" cx="1144.3" cy="992.5" r="9"/>
<circle class="c k6" cx="844.1" cy="746.5" r="9"/>
<circle class="c k1" cx="1145.5" cy="1076.1" r="9"/>
<circle class="c k0" cx="1099.7" cy="1174.6" r="9"/>
<circle class="c k2" cx="1125.2" cy="985.8" r="9"/>
<circle class="c k4" cx="1038.5" cy="888.4" r="9"/>
<circle class="c k1" cx="1224.6" cy="1058.3" r="9"/>
<circle class="c k10" cx="716.8" cy="523.2" r="9"/>
<circle class="c k12" cx="550.0" cy="396.2" r="9"/>
<circle class="c k1" cx="1151.0" cy="1042.4" r="9"/>
<circle class="c k3" cx="992.0" cy="951.7" r="9"/>
<circle class="c k0" cx="1176.5" cy="1194.5" r="9"/>
<circle class="c k0" cx="1238.8" cy="1127.6" r="9"/>
<circle class="c k4" cx="886.8" cy="884.5" r="9"/>
<circle class="c k1" cx="1076.0" cy="1091.0" r="9"/>
<circle class="c k0" cx="881.2" cy="1115.5" r="9"/>
<circle class="c k1" cx="1151.8" cy="1070.5" r="9"/>
<circle class="c k5" cx="938.9" cy="813.1" r="9"/>
<circle class="c k10" cx="851.2" cy="514.2" r="9"/>
<circle class="c k0" cx="1140.9" cy="1144.4" r="9"/>
<circle class="c k3" cx="1168.9" cy="957.5" r="9"/>
<circle class="c k5" cx="997.1" cy="849.7" r="9"/>
<circle class="c k4" cx="1044.8" cy="903.6" r="9"/>
<circle class="c k9" cx="615.5" cy="589.7" r="9"/>
<circle class="c k7" cx="827.1" cy="684.6" r="9"/>
<circle class="c k12" cx="707.2" cy="393.2" r="9"/>
</g>
<text class="b" x="161" y="368.4" font-size="40" fill="#4f4f4f" stroke="#0f0" stroke-width="3.4" stroke-linejoin="round" paint-order="stroke" letter-spacing="4.6">R<tspan font-size="24" dy="-14.3">2</tspan><tspan dy="14.3">=0.62</tspan></text>
<text class="b" x="147.5" y="421" font-size="40" fill="#4f4f4f" stroke="#0f0" stroke-width="1.2" stroke-linejoin="round" paint-order="stroke" letter-spacing="4.95">(n=2550)</text>
<path d="M242.9 24.3V1212.1M458.8 24.3V1212.1M674.7 24.3V1212.1M890.6 24.3V1212.1M1106.6 24.3V1212.1M134.9 915.1H1322.5M134.9 618.2H1322.5M134.9 321.2H1322.5" stroke="#000" stroke-width="1.25" stroke-dasharray="8.4 8.1" stroke-dashoffset="4.3" fill="none"/>
<g clip-path="url(#cp)">
<path class="d k0" d="M1173.9 1112.1l5.9 5.9l-5.9 5.9l-5.9-5.9z"/>
<path class="d k1" d="M961.0 1065.1l5.9 5.9l-5.9 5.9l-5.9-5.9z"/>
<path class="d k4" d="M898.8 890.0l5.9 5.9l-5.9 5.9l-5.9-5.9z"/>
<path class="d k13" d="M674.0 364.1l5.9 5.9l-5.9 5.9l-5.9-5.9z"/>
<path class="d k4" d="M1067.8 851.3l5.9 5.9l-5.9 5.9l-5.9-5.9z"/>
<path class="d k7" d="M855.9 677.0l5.9 5.9l-5.9 5.9l-5.9-5.9z"/>
<path class="d k0" d="M1294.3 1160.1l5.9 5.9l-5.9 5.9l-5.9-5.9z"/>
<path class="d k2" d="M1155.9 973.6l5.9 5.9l-5.9 5.9l-5.9-5.9z"/>
<path class="d k2" d="M1175.2 991.7l5.9 5.9l-5.9 5.9l-5.9-5.9z"/>
<path class="d k0" d="M1216.6 1130.8l5.9 5.9l-5.9 5.9l-5.9-5.9z"/>
<path class="d k2" d="M1030.4 1014.6l5.9 5.9l-5.9 5.9l-5.9-5.9z"/>
<path class="d k0" d="M1201.1 1093.2l5.9 5.9l-5.9 5.9l-5.9-5.9z"/>
<path class="d k5" d="M251.5 794.3l5.9 5.9l-5.9 5.9l-5.9-5.9z"/>
<path class="d k0" d="M1211.6 1095.5l5.9 5.9l-5.9 5.9l-5.9-5.9z"/>
<path class="d k7" d="M886.4 683.2l5.9 5.9l-5.9 5.9l-5.9-5.9z"/>
<path class="d k3" d="M983.4 941.5l5.9 5.9l-5.9 5.9l-5.9-5.9z"/>
<path class="d k8" d="M677.6 643.7l5.9 5.9l-5.9 5.9l-5.9-5.9z"/>
<path class="d k10" d="M623.4 525.3l5.9 5.9l-5.9 5.9l-5.9-5.9z"/>
<path class="d k4" d="M1139.5 882.7l5.9 5.9l-5.9 5.9l-5.9-5.9z"/>
<path class="d k10" d="M784.2 547.7l5.9 5.9l-5.9 5.9l-5.9-5.9z"/>
<path class="d k0" d="M1065.8 1112.8l5.9 5.9l-5.9 5.9l-5.9-5.9z"/>
<path class="d k5" d="M638.5 794.3l5.9 5.9l-5.9 5.9l-5.9-5.9z"/>
<path class="d k0" d="M1162.8 1088.0l5.9 5.9l-5.9 5.9l-5.9-5.9z"/>
<path class="d k4" d="M905.6 852.7l5.9 5.9l-5.9 5.9l-5.9-5.9z"/>
<path class="d k4" d="M1153.1 891.7l5.9 5.9l-5.9 5.9l-5.9-5.9z"/>
<path class="d k12" d="M681.6 414.0l5.9 5.9l-5.9 5.9l-5.9-5.9z"/>
<path class="d k0" d="M1243.3 1189.8l5.9 5.9l-5.9 5.9l-5.9-5.9z"/>
<path class="d k2" d="M951.2 1009.6l5.9 5.9l-5.9 5.9l-5.9-5.9z"/>
<path class="d k8" d="M822.6 623.9l5.9 5.9l-5.9 5.9l-5.9-5.9z"/>
<path class="d k0" d="M1175.0 1121.4l5.9 5.9l-5.9 5.9l-5.9-5.9z"/>
<path class="d k6" d="M758.4 782.4l5.9 5.9l-5.9 5.9l-5.9-5.9z"/>
<path class="d k9" d="M538.5 561.6l5.9 5.9l-5.9 5.9l-5.9-5.9z"/>
<path class="d k0" d="M968.0 1196.3l5.9 5.9l-5.9 5.9l-5.9-5.9z"/>
<path class="d k0" d="M1181.6 1112.6l5.9 5.9l-5.9 5.9l-5.9-5.9z"/>
<path class="d k1" d="M1306.3 1052.4l5.9 5.9l-5.9 5.9l-5.9-5.9z"/>
<path class="d k5" d="M677.7 819.6l5.9 5.9l-5.9 5.9l-5.9-5.9z"/>
<path class="d k5" d="M845.2 809.5l5.9 5.9l-5.9 5.9l-5.9-5.9z"/>
<path class="d k4" d="M986.2 900.2l5.9 5.9l-5.9 5.9l-5.9-5.9z"/>
<path class="d k4" d="M996.7 850.8l5.9 5.9l-5.9 5.9l-5.9-5.9z"/>
<path class="d k1" d="M1141.4 1078.8l5.9 5.9l-5.9 5.9l-5.9-5.9z"/>
<path class="d k15" d="M684.8 236.6l5.9 5.9l-5.9 5.9l-5.9-5.9z"/>
<path class="d k3" d="M1166.6 949.3l5.9 5.9l-5.9 5.9l-5.9-5.9z"/>
<path class="d k14" d="M553.0 270.3l5.9 5.9l-5.9 5.9l-5.9-5.9z"/>
<path class="d k2" d="M1162.0 1005.3l5.9 5.9l-5.9 5.9l-5.9-5.9z"/>
<path class="d k7" d="M850.8 701.0l5.9 5.9l-5.9 5.9l-5.9-5.9z"/>
<path class="d k3" d="M1018.6 929.0l5.9 5.9l-5.9 5.9l-5.9-5.9z"/>
<path class="d k1" d="M916.0 1062.6l5.9 5.9l-5.9 5.9l-5.9-5.9z"/>
<path class="d k8" d="M653.9 623.3l5.9 5.9l-5.9 5.9l-5.9-5.9z"/>
<path class="d k11" d="M677.6 437.2l5.9 5.9l-5.9 5.9l-5.9-5.9z"/>
<path class="d k6" d="M726.2 789.1l5.9 5.9l-5.9 5.9l-5.9-5.9z"/>
<path class="d k5" d="M642.2 846.1l5.9 5.9l-5.9 5.9l-5.9-5.9z"/>
<path class="d k9" d="M560.2 612.0l5.9 5.9l-5.9 5.9l-5.9-5.9z"/>
<path class="d k2" d="M1207.5 981.8l5.9 5.9l-5.9 5.9l-5.9-5.9z"/>
<path class="d k0" d="M1243.2 1194.3l5.9 5.9l-5.9 5.9l-5.9-5.9z"/>
<path class="d k10" d="M679.9 547.1l5.9 5.9l-5.9 5.9l-5.9-5.9z"/>
<path class="d k3" d="M970.9 949.8l5.9 5.9l-5.9 5.9l-5.9-5.9z"/>
<path class="d k7" d="M712.7 725.3l5.9 5.9l-5.9 5.9l-5.9-5.9z"/>
<path class="d k6" d="M692.4 785.2l5.9 5.9l-5.9 5.9l-5.9-5.9z"/>
<path class="d k3" d="M1009.9 949.2l5.9 5.9l-5.9 5.9l-5.9-5.9z"/>
<path class="d k6" d="M917.5 744.5l5.9 5.9l-5.9 5.9l-5.9-5.9z"/>
<path class="d k4" d="M631.0 855.6l5.9 5.9l-5.9 5.9l-5.9-5.9z"/>
<path class="d k1" d="M1212.7 1080.4l5.9 5.9l-5.9 5.9l-5.9-5.9z"/>
<path class="d k3" d="M1189.8 921.6l5.9 5.9l-5.9 5.9l-5.9-5.9z"/>
<path class="d k6" d="M464.5 788.9l5.9 5.9l-5.9 5.9l-5.9-5.9z"/>
<path class="d k2" d="M1303.5 1003.8l5.9 5.9l-5.9 5.9l-5.9-5.9z"/>
<path class="d k1" d="M1195.1 1074.1l5.9 5.9l-5.9 5.9l-5.9-5.9z"/>
<path class="d k2" d="M1028.0 1016.4l5.9 5.9l-5.9 5.9l-5.9-5.9z"/>
<path class="d k6" d="M905.6 784.1l5.9 5.9l-5.9 5.9l-5.9-5.9z"/>
<path class="d k5" d="M643.5 827.6l5.9 5.9l-5.9 5.9l-5.9-5.9z"/>
<path class="d k1" d="M1189.1 1055.2l5.9 5.9l-5.9 5.9l-5.9-5.9z"/>
<path class="d k2" d="M1247.6 1008.3l5.9 5.9l-5.9 5.9l-5.9-5.9z"/>
<path class="d k11" d="M572.0 452.4l5.9 5.9l-5.9 5.9l-5.9-5.9z"/>
<path class="d k0" d="M1245.3 1131.5l5.9 5.9l-5.9 5.9l-5.9-5.9z"/>
<path class="d k8" d="M563.6 657.2l5.9 5.9l-5.9 5.9l-5.9-5.9z"/>
<path class="d k3" d="M1140.1 954.4l5.9 5.9l-5.9 5.9l-5.9-5.9z"/>
<path class="d k4" d="M1144.6 904.7l5.9 5.9l-5.9 5.9l-5.9-5.9z"/>
<path class="d k6" d="M894.9 788.0l5.9 5.9l-5.9 5.9l-5.9-5.9z"/>
<path class="d k6" d="M670.3 742.8l5.9 5.9l-5.9 5.9l-5.9-5.9z"/>
<path class="d k2" d="M906.5 989.3l5.9 5.9l-5.9 5.9l-5.9-5.9z"/>
<path class="d k1" d="M1139.2 1075.7l5.9 5.9l-5.9 5.9l-5.9-5.9z"/>
<path class="d k0" d="M956.0 1131.6l5.9 5.9l-5.9 5.9l-5.9-5.9z"/>
<path class="d k8" d="M664.1 617.7l5.9 5.9l-5.9 5.9l-5.9-5.9z"/>
<path class="d k0" d="M1229.5 1190.0l5.9 5.9l-5.9 5.9l-5.9-5.9z"/>
<path class="d k7" d="M589.5 675.3l5.9 5.9l-5.9 5.9l-5.9-5.9z"/>
<path class="d k1" d="M1105.9 1054.2l5.9 5.9l-5.9 5.9l-5.9-5.9z"/>
<path class="d k7" d="M950.6 701.6l5.9 5.9l-5.9 5.9l-5.9-5.9z"/>
<path class="d k0" d="M1259.1 1107.2l5.9 5.9l-5.9 5.9l-5.9-5.9z"/>
<path class="d k10" d="M748.6 534.1l5.9 5.9l-5.9 5.9l-5.9-5.9z"/>
<path class="d k2" d="M1127.9 994.2l5.9 5.9l-5.9 5.9l-5.9-5.9z"/>
<path class="d k3" d="M654.8 961.3l5.9 5.9l-5.9 5.9l-5.9-5.9z"/>
<path class="d k5" d="M823.2 834.1l5.9 5.9l-5.9 5.9l-5.9-5.9z"/>
<path class="d k10" d="M659.6 542.6l5.9 5.9l-5.9 5.9l-5.9-5.9z"/>
<path class="d k3" d="M1135.0 934.1l5.9 5.9l-5.9 5.9l-5.9-5.9z"/>
<path class="d k10" d="M844.2 498.3l5.9 5.9l-5.9 5.9l-5.9-5.9z"/>
<path class="d k12" d="M1008.2 412.1l5.9 5.9l-5.9 5.9l-5.9-5.9z"/>
<path class="d k4" d="M922.6 864.0l5.9 5.9l-5.9 5.9l-5.9-5.9z"/>
<path class="d k4" d="M1065.5 863.8l5.9 5.9l-5.9 5.9l-5.9-5.9z"/>
<path class="d k0" d="M1238.1 1088.3l5.9 5.9l-5.9 5.9l-5.9-5.9z"/>
<path class="d k9" d="M726.0 601.9l5.9 5.9l-5.9 5.9l-5.9-5.9z"/>
<path class="d k6" d="M849.7 750.7l5.9 5.9l-5.9 5.9l-5.9-5.9z"/>
<path class="d k2" d="M1038.9 993.7l5.9 5.9l-5.9 5.9l-5.9-5.9z"/>
<path class="d k3" d="M1061.9 941.9l5.9 5.9l-5.9 5.9l-5.9-5.9z"/>
<path class="d k16" d="M527.5 157.9l5.9 5.9l-5.9 5.9l-5.9-5.9z"/>
<path class="d k2" d="M1075.7 1014.4l5.9 5.9l-5.9 5.9l-5.9-5.9z"/>
<path class="d k0" d="M1268.0 1106.7l5.9 5.9l-5.9 5.9l-5.9-5.9z"/>
<path class="d k12" d="M721.0 384.3l5.9 5.9l-5.9 5.9l-5.9-5.9z"/>
<path class="d k10" d="M582.2 506.1l5.9 5.9l-5.9 5.9l-5.9-5.9z"/>
<path class="d k1" d="M1185.4 1061.2l5.9 5.9l-5.9 5.9l-5.9-5.9z"/>
<path class="d k3" d="M1052.6 967.1l5.9 5.9l-5.9 5.9l-5.9-5.9z"/>
<path class="d k1" d="M1121.7 1047.3l5.9 5.9l-5.9 5.9l-5.9-5.9z"/>
<path class="d k3" d="M964.7 914.2l5.9 5.9l-5.9 5.9l-5.9-5.9z"/>
<path class="d k13" d="M453.2 364.1l5.9 5.9l-5.9 5.9l-5.9-5.9z"/>
<path class="d k0" d="M1302.8 1136.0l5.9 5.9l-5.9 5.9l-5.9-5.9z"/>
<path class="d k1" d="M1128.3 1029.2l5.9 5.9l-5.9 5.9l-5.9-5.9z"/>
<path class="d k2" d="M1187.0 986.0l5.9 5.9l-5.9 5.9l-5.9-5.9z"/>
<path class="d k1" d="M1057.4 1028.6l5.9 5.9l-5.9 5.9l-5.9-5.9z"/>
<path class="d k6" d="M888.1 782.4l5.9 5.9l-5.9 5.9l-5.9-5.9z"/>
<path class="d k5" d="M683.0 847.6l5.9 5.9l-5.9 5.9l-5.9-5.9z"/>
<path class="d k6" d="M761.8 761.5l5.9 5.9l-5.9 5.9l-5.9-5.9z"/>
<path class="d k5" d="M1013.3 797.6l5.9 5.9l-5.9 5.9l-5.9-5.9z"/>
<path class="d k0" d="M1238.4 1159.9l5.9 5.9l-5.9 5.9l-5.9-5.9z"/>
<path class="d k5" d="M896.0 836.4l5.9 5.9l-5.9 5.9l-5.9-5.9z"/>
<path class="d k2" d="M1128.1 1016.6l5.9 5.9l-5.9 5.9l-5.9-5.9z"/>
<path class="d k1" d="M1286.0 1072.7l5.9 5.9l-5.9 5.9l-5.9-5.9z"/>
<path class="d k0" d="M1201.2 1124.6l5.9 5.9l-5.9 5.9l-5.9-5.9z"/>
<path class="d k11" d="M530.5 447.3l5.9 5.9l-5.9 5.9l-5.9-5.9z"/>
<path class="d k4" d="M925.4 903.6l5.9 5.9l-5.9 5.9l-5.9-5.9z"/>
<path class="d k6" d="M663.6 740.0l5.9 5.9l-5.9 5.9l-5.9-5.9z"/>
<path class="d k9" d="M753.1 584.4l5.9 5.9l-5.9 5.9l-5.9-5.9z"/>
<path class="d k2" d="M911.3 974.2l5.9 5.9l-5.9 5.9l-5.9-5.9z"/>
<path class="d k5" d="M866.6 833.2l5.9 5.9l-5.9 5.9l-5.9-5.9z"/>
<path class="d k2" d="M1263.4 1002.7l5.9 5.9l-5.9 5.9l-5.9-5.9z"/>
<path class="d k0" d="M1211.0 1157.2l5.9 5.9l-5.9 5.9l-5.9-5.9z"/>
<path class="d k3" d="M987.3 964.5l5.9 5.9l-5.9 5.9l-5.9-5.9z"/>
<path class="d k0" d="M1156.9 1116.4l5.9 5.9l-5.9 5.9l-5.9-5.9z"/>
<path class="d k1" d="M1117.4 1043.5l5.9 5.9l-5.9 5.9l-5.9-5.9z"/>
<path class="d k10" d="M478.0 504.9l5.9 5.9l-5.9 5.9l-5.9-5.9z"/>
<path class="d k6" d="M783.3 779.5l5.9 5.9l-5.9 5.9l-5.9-5.9z"/>
<path class="d k7" d="M799.1 699.9l5.9 5.9l-5.9 5.9l-5.9-5.9z"/>
<path class="d k5" d="M1045.4 812.9l5.9 5.9l-5.9 5.9l-5.9-5.9z"/>
<path class="d k13" d="M652.2 344.6l5.9 5.9l-5.9 5.9l-5.9-5.9z"/>
<path class="d k1" d="M968.0 1052.1l5.9 5.9l-5.9 5.9l-5.9-5.9z"/>
<path class="d k8" d="M800.6 640.8l5.9 5.9l-5.9 5.9l-5.9-5.9z"/>
<path class="d k15" d="M658.8 211.6l5.9 5.9l-5.9 5.9l-5.9-5.9z"/>
<path class="d k1" d="M1129.4 1057.9l5.9 5.9l-5.9 5.9l-5.9-5.9z"/>
<path class="d k7" d="M713.8 687.5l5.9 5.9l-5.9 5.9l-5.9-5.9z"/>
<path class="d k6" d="M1048.8 757.5l5.9 5.9l-5.9 5.9l-5.9-5.9z"/>
<path class="d k11" d="M826.2 493.1l5.9 5.9l-5.9 5.9l-5.9-5.9z"/>
<path class="d k2" d="M1256.6 984.0l5.9 5.9l-5.9 5.9l-5.9-5.9z"/>
<path class="d k3" d="M989.3 924.3l5.9 5.9l-5.9 5.9l-5.9-5.9z"/>
<path class="d k8" d="M598.6 626.2l5.9 5.9l-5.9 5.9l-5.9-5.9z"/>
<path class="d k6" d="M587.2 740.1l5.9 5.9l-5.9 5.9l-5.9-5.9z"/>
<path class="d k1" d="M1211.8 1041.7l5.9 5.9l-5.9 5.9l-5.9-5.9z"/>
<path class="d k7" d="M657.3 698.8l5.9 5.9l-5.9 5.9l-5.9-5.9z"/>
<path class="d k1" d="M1134.3 1037.1l5.9 5.9l-5.9 5.9l-5.9-5.9z"/>
<path class="d k4" d="M668.0 860.1l5.9 5.9l-5.9 5.9l-5.9-5.9z"/>
<path class="d k0" d="M1235.6 1135.8l5.9 5.9l-5.9 5.9l-5.9-5.9z"/>
<path class="d k0" d="M921.2 1127.6l5.9 5.9l-5.9 5.9l-5.9-5.9z"/>
<path class="d k6" d="M556.0 781.9l5.9 5.9l-5.9 5.9l-5.9-5.9z"/>
<path class="d k6" d="M917.5 732.7l5.9 5.9l-5.9 5.9l-5.9-5.9z"/>
<path class="d k0" d="M1245.6 1170.0l5.9 5.9l-5.9 5.9l-5.9-5.9z"/>
<path class="d k2" d="M1229.5 1000.4l5.9 5.9l-5.9 5.9l-5.9-5.9z"/>
<path class="d k6" d="M460.2 761.3l5.9 5.9l-5.9 5.9l-5.9-5.9z"/>
<path class="d k5" d="M651.7 814.0l5.9 5.9l-5.9 5.9l-5.9-5.9z"/>
<path class="d k1" d="M1145.5 1083.4l5.9 5.9l-5.9 5.9l-5.9-5.9z"/>
<path class="d k9" d="M640.4 583.8l5.9 5.9l-5.9 5.9l-5.9-5.9z"/>
<path class="d k8" d="M702.8 619.9l5.9 5.9l-5.9 5.9l-5.9-5.9z"/>
<path class="d k0" d="M1212.5 1184.9l5.9 5.9l-5.9 5.9l-5.9-5.9z"/>
<path class="d k0" d="M1218.4 1135.5l5.9 5.9l-5.9 5.9l-5.9-5.9z"/>
<path class="d k7" d="M676.5 671.9l5.9 5.9l-5.9 5.9l-5.9-5.9z"/>
<path class="d k6" d="M1017.2 768.3l5.9 5.9l-5.9 5.9l-5.9-5.9z"/>
<path class="d k14" d="M585.5 273.6l5.9 5.9l-5.9 5.9l-5.9-5.9z"/>
<path class="d k8" d="M923.7 668.5l5.9 5.9l-5.9 5.9l-5.9-5.9z"/>
<path class="d k2" d="M1103.1 984.9l5.9 5.9l-5.9 5.9l-5.9-5.9z"/>
<path class="d k17" d="M560.0 22.3l5.9 5.9l-5.9 5.9l-5.9-5.9z"/>
<path class="d k9" d="M613.3 590.0l5.9 5.9l-5.9 5.9l-5.9-5.9z"/>
<path class="d k2" d="M1166.2 999.3l5.9 5.9l-5.9 5.9l-5.9-5.9z"/>
<path class="d k2" d="M1079.1 1023.3l5.9 5.9l-5.9 5.9l-5.9-5.9z"/>
<path class="d k11" d="M551.7 464.9l5.9 5.9l-5.9 5.9l-5.9-5.9z"/>
<path class="d k5" d="M658.5 830.4l5.9 5.9l-5.9 5.9l-5.9-5.9z"/>
<path class="d k5" d="M889.2 834.1l5.9 5.9l-5.9 5.9l-5.9-5.9z"/>
<path class="d k2" d="M1098.7 1015.9l5.9 5.9l-5.9 5.9l-5.9-5.9z"/>
<path class="d k3" d="M1012.2 932.7l5.9 5.9l-5.9 5.9l-5.9-5.9z"/>
<path class="d k1" d="M1099.3 1051.2l5.9 5.9l-5.9 5.9l-5.9-5.9z"/>
<path class="d k3" d="M1123.7 955.5l5.9 5.9l-5.9 5.9l-5.9-5.9z"/>
<path class="d k7" d="M803.4 729.3l5.9 5.9l-5.9 5.9l-5.9-5.9z"/>
<path class="d k13" d="M642.0 320.9l5.9 5.9l-5.9 5.9l-5.9-5.9z"/>
<path class="d k9" d="M788.7 575.3l5.9 5.9l-5.9 5.9l-5.9-5.9z"/>
<path class="d k9" d="M658.4 553.9l5.9 5.9l-5.9 5.9l-5.9-5.9z"/>
<path class="d k5" d="M879.1 808.4l5.9 5.9l-5.9 5.9l-5.9-5.9z"/>
<path class="d k7" d="M874.0 701.0l5.9 5.9l-5.9 5.9l-5.9-5.9z"/>
<path class="d k4" d="M786.0 858.1l5.9 5.9l-5.9 5.9l-5.9-5.9z"/>
<path class="d k15" d="M386.8 236.1l5.9 5.9l-5.9 5.9l-5.9-5.9z"/>
<path class="d k8" d="M806.8 664.0l5.9 5.9l-5.9 5.9l-5.9-5.9z"/>
<path class="d k5" d="M966.2 846.0l5.9 5.9l-5.9 5.9l-5.9-5.9z"/>
<path class="d k0" d="M1182.1 1139.2l5.9 5.9l-5.9 5.9l-5.9-5.9z"/>
<path class="d k5" d="M1249.1 847.7l5.9 5.9l-5.9 5.9l-5.9-5.9z"/>
<path class="d k8" d="M830.5 646.5l5.9 5.9l-5.9 5.9l-5.9-5.9z"/>
<path class="d k1" d="M1290.0 1065.4l5.9 5.9l-5.9 5.9l-5.9-5.9z"/>
<path class="d k3" d="M881.9 937.5l5.9 5.9l-5.9 5.9l-5.9-5.9z"/>
<path class="d k9" d="M564.7 598.5l5.9 5.9l-5.9 5.9l-5.9-5.9z"/>
<path class="d k0" d="M1234.5 1158.8l5.9 5.9l-5.9 5.9l-5.9-5.9z"/>
<path class="d k0" d="M1226.7 1141.8l5.9 5.9l-5.9 5.9l-5.9-5.9z"/>
<path class="d k4" d="M1060.4 852.3l5.9 5.9l-5.9 5.9l-5.9-5.9z"/>
<path class="d k1" d="M1080.0 1046.7l5.9 5.9l-5.9 5.9l-5.9-5.9z"/>
<path class="d k0" d="M1187.6 1088.9l5.9 5.9l-5.9 5.9l-5.9-5.9z"/>
<path class="d k6" d="M779.3 776.7l5.9 5.9l-5.9 5.9l-5.9-5.9z"/>
<path class="d k5" d="M867.8 825.3l5.9 5.9l-5.9 5.9l-5.9-5.9z"/>
<path class="d k1" d="M1122.1 1053.8l5.9 5.9l-5.9 5.9l-5.9-5.9z"/>
<path class="d k5" d="M743.2 797.6l5.9 5.9l-5.9 5.9l-5.9-5.9z"/>
<path class="d k15" d="M594.5 200.1l5.9 5.9l-5.9 5.9l-5.9-5.9z"/>
<path class="d k1" d="M1030.3 1074.4l5.9 5.9l-5.9 5.9l-5.9-5.9z"/>
<path class="d k9" d="M732.8 562.9l5.9 5.9l-5.9 5.9l-5.9-5.9z"/>
<path class="d k4" d="M980.2 871.2l5.9 5.9l-5.9 5.9l-5.9-5.9z"/>
<path class="d k16" d="M522.5 188.1l5.9 5.9l-5.9 5.9l-5.9-5.9z"/>
<path class="d k3" d="M1106.2 930.1l5.9 5.9l-5.9 5.9l-5.9-5.9z"/>
<path class="d k9" d="M656.2 597.9l5.9 5.9l-5.9 5.9l-5.9-5.9z"/>
<path class="d k3" d="M661.8 951.1l5.9 5.9l-5.9 5.9l-5.9-5.9z"/>
<path class="d k0" d="M1250.5 1131.8l5.9 5.9l-5.9 5.9l-5.9-5.9z"/>
<path class="d k0" d="M845.5 1120.6l5.9 5.9l-5.9 5.9l-5.9-5.9z"/>
<path class="d k6" d="M903.4 738.9l5.9 5.9l-5.9 5.9l-5.9-5.9z"/>
<path class="d k4" d="M671.5 889.3l5.9 5.9l-5.9 5.9l-5.9-5.9z"/>
<path class="d k3" d="M963.6 954.3l5.9 5.9l-5.9 5.9l-5.9-5.9z"/>
<path class="d k3" d="M1052.2 938.8l5.9 5.9l-5.9 5.9l-5.9-5.9z"/>
<path class="d k0" d="M1066.4 1137.1l5.9 5.9l-5.9 5.9l-5.9-5.9z"/>
<path class="d k6" d="M1018.3 744.5l5.9 5.9l-5.9 5.9l-5.9-5.9z"/>
<path class="d k3" d="M1217.1 958.6l5.9 5.9l-5.9 5.9l-5.9-5.9z"/>
<path class="d k0" d="M1223.8 1146.2l5.9 5.9l-5.9 5.9l-5.9-5.9z"/>
<path class="d k1" d="M1136.0 1076.1l5.9 5.9l-5.9 5.9l-5.9-5.9z"/>
<path class="d k9" d="M669.2 594.0l5.9 5.9l-5.9 5.9l-5.9-5.9z"/>
<path class="d k0" d="M1197.8 1150.0l5.9 5.9l-5.9 5.9l-5.9-5.9z"/>
<path class="d k3" d="M1129.9 968.0l5.9 5.9l-5.9 5.9l-5.9-5.9z"/>
<path class="d k8" d="M938.9 650.4l5.9 5.9l-5.9 5.9l-5.9-5.9z"/>
<path class="d k9" d="M648.3 559.5l5.9 5.9l-5.9 5.9l-5.9-5.9z"/>
<path class="d k2" d="M1194.0 1017.4l5.9 5.9l-5.9 5.9l-5.9-5.9z"/>
<path class="d k0" d="M1183.1 1133.9l5.9 5.9l-5.9 5.9l-5.9-5.9z"/>
<path class="d k4" d="M945.7 888.3l5.9 5.9l-5.9 5.9l-5.9-5.9z"/>
<path class="d k2" d="M1166.6 974.2l5.9 5.9l-5.9 5.9l-5.9-5.9z"/>
<path class="d k2" d="M1033.8 1023.2l5.9 5.9l-5.9 5.9l-5.9-5.9z"/>
<path class="d k3" d="M1020.2 929.5l5.9 5.9l-5.9 5.9l-5.9-5.9z"/>
<path class="d k6" d="M810.7 758.7l5.9 5.9l-5.9 5.9l-5.9-5.9z"/>
<path class="d k0" d="M1145.0 1154.7l5.9 5.9l-5.9 5.9l-5.9-5.9z"/>
<path class="d k4" d="M929.9 898.5l5.9 5.9l-5.9 5.9l-5.9-5.9z"/>
<path class="d k0" d="M1244.8 1103.0l5.9 5.9l-5.9 5.9l-5.9-5.9z"/>
<path class="d k0" d="M1209.4 1090.2l5.9 5.9l-5.9 5.9l-5.9-5.9z"/>
<path class="d k10" d="M805.5 507.9l5.9 5.9l-5.9 5.9l-5.9-5.9z"/>
<path class="d k0" d="M1247.7 1127.0l5.9 5.9l-5.9 5.9l-5.9-5.9z"/>
<path class="d k4" d="M921.4 855.0l5.9 5.9l-5.9 5.9l-5.9-5.9z"/>
<path class="d k10" d="M627.9 520.8l5.9 5.9l-5.9 5.9l-5.9-5.9z"/>
<path class="d k8" d="M406.5 652.6l5.9 5.9l-5.9 5.9l-5.9-5.9z"/>
<path class="d k2" d="M457.0 1001.9l5.9 5.9l-5.9 5.9l-5.9-5.9z"/>
<path class="d k8" d="M921.4 613.2l5.9 5.9l-5.9 5.9l-5.9-5.9z"/>
<path class="d k12" d="M582.8 427.0l5.9 5.9l-5.9 5.9l-5.9-5.9z"/>
<path class="d k2" d="M1142.2 1004.6l5.9 5.9l-5.9 5.9l-5.9-5.9z"/>
<path class="d k0" d="M1146.9 1109.3l5.9 5.9l-5.9 5.9l-5.9-5.9z"/>
<path class="d k2" d="M1102.2 1005.8l5.9 5.9l-5.9 5.9l-5.9-5.9z"/>
<path class="d k13" d="M800.0 352.1l5.9 5.9l-5.9 5.9l-5.9-5.9z"/>
<path class="d k4" d="M1157.0 890.6l5.9 5.9l-5.9 5.9l-5.9-5.9z"/>
<path class="d k1" d="M1169.3 1044.5l5.9 5.9l-5.9 5.9l-5.9-5.9z"/>
<path class="d k4" d="M1084.4 880.0l5.9 5.9l-5.9 5.9l-5.9-5.9z"/>
<path class="d k1" d="M1284.9 1059.7l5.9 5.9l-5.9 5.9l-5.9-5.9z"/>
<path class="d k7" d="M716.6 712.3l5.9 5.9l-5.9 5.9l-5.9-5.9z"/>
<path class="d k7" d="M787.0 675.3l5.9 5.9l-5.9 5.9l-5.9-5.9z"/>
<path class="d k1" d="M1113.2 1043.6l5.9 5.9l-5.9 5.9l-5.9-5.9z"/>
<path class="d k10" d="M669.7 539.7l5.9 5.9l-5.9 5.9l-5.9-5.9z"/>
<path class="d k6" d="M659.6 745.7l5.9 5.9l-5.9 5.9l-5.9-5.9z"/>
<path class="d k0" d="M1161.5 1105.5l5.9 5.9l-5.9 5.9l-5.9-5.9z"/>
<path class="d k9" d="M592.4 583.2l5.9 5.9l-5.9 5.9l-5.9-5.9z"/>
<path class="d k11" d="M630.8 450.2l5.9 5.9l-5.9 5.9l-5.9-5.9z"/>
<path class="d k1" d="M1213.0 1075.0l5.9 5.9l-5.9 5.9l-5.9-5.9z"/>
<path class="d k0" d="M1188.8 1107.1l5.9 5.9l-5.9 5.9l-5.9-5.9z"/>
<path class="d k0" d="M1269.8 1152.6l5.9 5.9l-5.9 5.9l-5.9-5.9z"/>
<path class="d k9" d="M854.2 609.2l5.9 5.9l-5.9 5.9l-5.9-5.9z"/>
<path class="d k4" d="M1002.7 891.5l5.9 5.9l-5.9 5.9l-5.9-5.9z"/>
<path class="d k0" d="M1170.8 1104.2l5.9 5.9l-5.9 5.9l-5.9-5.9z"/>
<path class="d k7" d="M729.1 718.6l5.9 5.9l-5.9 5.9l-5.9-5.9z"/>
<path class="d k11" d="M761.0 483.1l5.9 5.9l-5.9 5.9l-5.9-5.9z"/>
<path class="d k7" d="M811.3 683.2l5.9 5.9l-5.9 5.9l-5.9-5.9z"/>
<path class="d k2" d="M1213.2 1007.8l5.9 5.9l-5.9 5.9l-5.9-5.9z"/>
<path class="d k2" d="M1287.7 1020.2l5.9 5.9l-5.9 5.9l-5.9-5.9z"/>
<path class="d k0" d="M1186.8 1127.6l5.9 5.9l-5.9 5.9l-5.9-5.9z"/>
<path class="d k2" d="M1126.3 1017.6l5.9 5.9l-5.9 5.9l-5.9-5.9z"/>
<path class="d k0" d="M1187.0 1134.9l5.9 5.9l-5.9 5.9l-5.9-5.9z"/>
<path class="d k10" d="M566.9 516.3l5.9 5.9l-5.9 5.9l-5.9-5.9z"/>
<path class="d k3" d="M1034.3 933.2l5.9 5.9l-5.9 5.9l-5.9-5.9z"/>
<path class="d k3" d="M997.5 953.2l5.9 5.9l-5.9 5.9l-5.9-5.9z"/>
<path class="d k2" d="M1120.4 1016.7l5.9 5.9l-5.9 5.9l-5.9-5.9z"/>
<path class="d k1" d="M659.8 1060.9l5.9 5.9l-5.9 5.9l-5.9-5.9z"/>
<path class="d k7" d="M823.2 698.2l5.9 5.9l-5.9 5.9l-5.9-5.9z"/>
<path class="d k4" d="M1019.7 897.1l5.9 5.9l-5.9 5.9l-5.9-5.9z"/>
<path class="d k0" d="M1185.3 1101.0l5.9 5.9l-5.9 5.9l-5.9-5.9z"/>
<path class="d k1" d="M1284.3 1039.4l5.9 5.9l-5.9 5.9l-5.9-5.9z"/>
<path class="d k7" d="M576.0 690.1l5.9 5.9l-5.9 5.9l-5.9-5.9z"/>
<path class="d k13" d="M498.0 329.9l5.9 5.9l-5.9 5.9l-5.9-5.9z"/>
<path class="d k1" d="M1242.0 1034.3l5.9 5.9l-5.9 5.9l-5.9-5.9z"/>
<path class="d k10" d="M712.4 516.3l5.9 5.9l-5.9 5.9l-5.9-5.9z"/>
<path class="d k6" d="M799.1 751.9l5.9 5.9l-5.9 5.9l-5.9-5.9z"/>
<path class="d k6" d="M838.4 772.2l5.9 5.9l-5.9 5.9l-5.9-5.9z"/>
<path class="d k0" d="M1163.7 1111.9l5.9 5.9l-5.9 5.9l-5.9-5.9z"/>
<path class="d k12" d="M599.1 420.8l5.9 5.9l-5.9 5.9l-5.9-5.9z"/>
<path class="d k11" d="M549.0 457.1l5.9 5.9l-5.9 5.9l-5.9-5.9z"/>
<path class="d k4" d="M857.0 899.0l5.9 5.9l-5.9 5.9l-5.9-5.9z"/>
<path class="d k0" d="M1237.3 1091.2l5.9 5.9l-5.9 5.9l-5.9-5.9z"/>
<path class="d k0" d="M1210.3 1102.6l5.9 5.9l-5.9 5.9l-5.9-5.9z"/>
<path class="d k0" d="M1112.2 1103.2l5.9 5.9l-5.9 5.9l-5.9-5.9z"/>
<path class="d k5" d="M949.1 823.0l5.9 5.9l-5.9 5.9l-5.9-5.9z"/>
<path class="d k1" d="M1080.5 1041.0l5.9 5.9l-5.9 5.9l-5.9-5.9z"/>
<path class="d k2" d="M900.9 1004.0l5.9 5.9l-5.9 5.9l-5.9-5.9z"/>
<path class="d k1" d="M1144.7 1042.4l5.9 5.9l-5.9 5.9l-5.9-5.9z"/>
<path class="d k4" d="M1063.2 891.7l5.9 5.9l-5.9 5.9l-5.9-5.9z"/>
<path class="d k2" d="M974.3 988.8l5.9 5.9l-5.9 5.9l-5.9-5.9z"/>
<path class="d k5" d="M967.3 846.6l5.9 5.9l-5.9 5.9l-5.9-5.9z"/>
<path class="d k1" d="M1180.2 1051.6l5.9 5.9l-5.9 5.9l-5.9-5.9z"/>
<path class="d k0" d="M1139.1 1091.2l5.9 5.9l-5.9 5.9l-5.9-5.9z"/>
<path class="d k7" d="M1031.0 679.9l5.9 5.9l-5.9 5.9l-5.9-5.9z"/>
<path class="d k0" d="M1198.8 1107.0l5.9 5.9l-5.9 5.9l-5.9-5.9z"/>
<path class="d k0" d="M1122.3 1098.7l5.9 5.9l-5.9 5.9l-5.9-5.9z"/>
<path class="d k0" d="M1238.7 1159.6l5.9 5.9l-5.9 5.9l-5.9-5.9z"/>
<path class="d k14" d="M418.2 276.1l5.9 5.9l-5.9 5.9l-5.9-5.9z"/>
<path class="d k0" d="M1217.2 1128.9l5.9 5.9l-5.9 5.9l-5.9-5.9z"/>
<path class="d k3" d="M1222.0 939.1l5.9 5.9l-5.9 5.9l-5.9-5.9z"/>
<path class="d k5" d="M792.6 837.7l5.9 5.9l-5.9 5.9l-5.9-5.9z"/>
<path class="d k1" d="M1302.4 1034.3l5.9 5.9l-5.9 5.9l-5.9-5.9z"/>
<path class="d k4" d="M963.8 863.5l5.9 5.9l-5.9 5.9l-5.9-5.9z"/>
<path class="d k0" d="M1243.5 1103.0l5.9 5.9l-5.9 5.9l-5.9-5.9z"/>
<path class="d k2" d="M1114.7 1020.5l5.9 5.9l-5.9 5.9l-5.9-5.9z"/>
<path class="d k0" d="M1177.1 1166.0l5.9 5.9l-5.9 5.9l-5.9-5.9z"/>
<path class="d k2" d="M819.2 992.6l5.9 5.9l-5.9 5.9l-5.9-5.9z"/>
<path class="d k7" d="M740.4 695.4l5.9 5.9l-5.9 5.9l-5.9-5.9z"/>
<path class="d k9" d="M552.3 607.5l5.9 5.9l-5.9 5.9l-5.9-5.9z"/>
<path class="d k3" d="M1109.6 926.7l5.9 5.9l-5.9 5.9l-5.9-5.9z"/>
<path class="d k12" d="M965.5 408.6l5.9 5.9l-5.9 5.9l-5.9-5.9z"/>
<path class="d k7" d="M674.3 706.1l5.9 5.9l-5.9 5.9l-5.9-5.9z"/>
<path class="d k0" d="M1193.2 1125.6l5.9 5.9l-5.9 5.9l-5.9-5.9z"/>
<path class="d k12" d="M650.0 423.6l5.9 5.9l-5.9 5.9l-5.9-5.9z"/>
<path class="d k0" d="M1295.1 1134.5l5.9 5.9l-5.9 5.9l-5.9-5.9z"/>
<path class="d k2" d="M993.0 978.0l5.9 5.9l-5.9 5.9l-5.9-5.9z"/>
<path class="d k11" d="M601.4 468.3l5.9 5.9l-5.9 5.9l-5.9-5.9z"/>
<path class="d k0" d="M1199.1 1120.7l5.9 5.9l-5.9 5.9l-5.9-5.9z"/>
<path class="d k9" d="M467.2 593.6l5.9 5.9l-5.9 5.9l-5.9-5.9z"/>
<path class="d k0" d="M1140.5 1090.7l5.9 5.9l-5.9 5.9l-5.9-5.9z"/>
<path class="d k7" d="M880.2 729.3l5.9 5.9l-5.9 5.9l-5.9-5.9z"/>
<path class="d k7" d="M626.8 680.9l5.9 5.9l-5.9 5.9l-5.9-5.9z"/>
<path class="d k2" d="M1090.7 1017.7l5.9 5.9l-5.9 5.9l-5.9-5.9z"/>
<path class="d k0" d="M1182.1 1098.3l5.9 5.9l-5.9 5.9l-5.9-5.9z"/>
<path class="d k0" d="M1164.0 1122.1l5.9 5.9l-5.9 5.9l-5.9-5.9z"/>
<path class="d k11" d="M630.8 489.7l5.9 5.9l-5.9 5.9l-5.9-5.9z"/>
<path class="d k2" d="M1238.6 987.4l5.9 5.9l-5.9 5.9l-5.9-5.9z"/>
<path class="d k2" d="M1067.2 1010.5l5.9 5.9l-5.9 5.9l-5.9-5.9z"/>
<path class="d k2" d="M1185.3 985.3l5.9 5.9l-5.9 5.9l-5.9-5.9z"/>
<path class="d k9" d="M614.4 610.3l5.9 5.9l-5.9 5.9l-5.9-5.9z"/>
<path class="d k0" d="M1230.7 1170.9l5.9 5.9l-5.9 5.9l-5.9-5.9z"/>
<path class="d k2" d="M1176.4 1019.3l5.9 5.9l-5.9 5.9l-5.9-5.9z"/>
<path class="d k16" d="M571.0 195.1l5.9 5.9l-5.9 5.9l-5.9-5.9z"/>
<path class="d k0" d="M1188.3 1092.9l5.9 5.9l-5.9 5.9l-5.9-5.9z"/>
<path class="d k10" d="M599.7 527.0l5.9 5.9l-5.9 5.9l-5.9-5.9z"/>
<path class="d k5" d="M811.3 842.0l5.9 5.9l-5.9 5.9l-5.9-5.9z"/>
<path class="d k2" d="M1237.4 998.2l5.9 5.9l-5.9 5.9l-5.9-5.9z"/>
<path class="d k1" d="M1159.9 1034.5l5.9 5.9l-5.9 5.9l-5.9-5.9z"/>
<path class="d k11" d="M619.5 458.1l5.9 5.9l-5.9 5.9l-5.9-5.9z"/>
<path class="d k7" d="M1023.4 684.1l5.9 5.9l-5.9 5.9l-5.9-5.9z"/>
<path class="d k0" d="M1196.9 1089.2l5.9 5.9l-5.9 5.9l-5.9-5.9z"/>
<path class="d k8" d="M750.3 662.9l5.9 5.9l-5.9 5.9l-5.9-5.9z"/>
<path class="d k0" d="M1170.3 1109.7l5.9 5.9l-5.9 5.9l-5.9-5.9z"/>
<path class="d k1" d="M1044.4 1036.5l5.9 5.9l-5.9 5.9l-5.9-5.9z"/>
<path class="d k5" d="M973.2 801.6l5.9 5.9l-5.9 5.9l-5.9-5.9z"/>
<path class="d k5" d="M1027.0 835.7l5.9 5.9l-5.9 5.9l-5.9-5.9z"/>
<path class="d k0" d="M1178.9 1138.8l5.9 5.9l-5.9 5.9l-5.9-5.9z"/>
<path class="d k1" d="M1144.3 1044.3l5.9 5.9l-5.9 5.9l-5.9-5.9z"/>
<path class="d k0" d="M1287.7 1091.3l5.9 5.9l-5.9 5.9l-5.9-5.9z"/>
<path class="d k0" d="M1296.6 1114.1l5.9 5.9l-5.9 5.9l-5.9-5.9z"/>
<path class="d k1" d="M1181.8 1085.6l5.9 5.9l-5.9 5.9l-5.9-5.9z"/>
<path class="d k11" d="M678.8 442.3l5.9 5.9l-5.9 5.9l-5.9-5.9z"/>
<path class="d k2" d="M694.8 1017.6l5.9 5.9l-5.9 5.9l-5.9-5.9z"/>
<path class="d k0" d="M1225.3 1149.5l5.9 5.9l-5.9 5.9l-5.9-5.9z"/>
<path class="d k5" d="M981.6 809.5l5.9 5.9l-5.9 5.9l-5.9-5.9z"/>
<path class="d k12" d="M541.0 411.6l5.9 5.9l-5.9 5.9l-5.9-5.9z"/>
<path class="d k3" d="M1137.8 926.2l5.9 5.9l-5.9 5.9l-5.9-5.9z"/>
<path class="d k2" d="M1034.1 1019.6l5.9 5.9l-5.9 5.9l-5.9-5.9z"/>
<path class="d k7" d="M836.1 674.7l5.9 5.9l-5.9 5.9l-5.9-5.9z"/>
<path class="d k6" d="M745.4 771.1l5.9 5.9l-5.9 5.9l-5.9-5.9z"/>
<path class="d k6" d="M701.4 753.0l5.9 5.9l-5.9 5.9l-5.9-5.9z"/>
<path class="d k11" d="M732.2 478.6l5.9 5.9l-5.9 5.9l-5.9-5.9z"/>
<path class="d k8" d="M523.5 648.6l5.9 5.9l-5.9 5.9l-5.9-5.9z"/>
<path class="d k0" d="M1236.0 1140.2l5.9 5.9l-5.9 5.9l-5.9-5.9z"/>
<path class="d k0" d="M915.5 1153.1l5.9 5.9l-5.9 5.9l-5.9-5.9z"/>
<path class="d k0" d="M1289.9 1107.8l5.9 5.9l-5.9 5.9l-5.9-5.9z"/>
<path class="d k0" d="M1244.7 1180.1l5.9 5.9l-5.9 5.9l-5.9-5.9z"/>
<path class="d k7" d="M746.0 716.9l5.9 5.9l-5.9 5.9l-5.9-5.9z"/>
<path class="d k5" d="M1056.2 793.1l5.9 5.9l-5.9 5.9l-5.9-5.9z"/>
<path class="d k12" d="M453.2 411.6l5.9 5.9l-5.9 5.9l-5.9-5.9z"/>
<path class="d k10" d="M617.8 508.4l5.9 5.9l-5.9 5.9l-5.9-5.9z"/>
<path class="d k5" d="M857.6 829.8l5.9 5.9l-5.9 5.9l-5.9-5.9z"/>
<path class="d k8" d="M537.2 646.1l5.9 5.9l-5.9 5.9l-5.9-5.9z"/>
<path class="d k5" d="M1079.3 790.8l5.9 5.9l-5.9 5.9l-5.9-5.9z"/>
<path class="d k1" d="M1052.3 1076.6l5.9 5.9l-5.9 5.9l-5.9-5.9z"/>
<path class="d k15" d="M407.5 208.3l5.9 5.9l-5.9 5.9l-5.9-5.9z"/>
<path class="d k11" d="M699.1 459.8l5.9 5.9l-5.9 5.9l-5.9-5.9z"/>
<path class="d k11" d="M586.1 487.5l5.9 5.9l-5.9 5.9l-5.9-5.9z"/>
<path class="d k11" d="M657.9 449.0l5.9 5.9l-5.9 5.9l-5.9-5.9z"/>
<path class="d k0" d="M1195.0 1106.8l5.9 5.9l-5.9 5.9l-5.9-5.9z"/>
<path class="d k2" d="M1121.0 1010.4l5.9 5.9l-5.9 5.9l-5.9-5.9z"/>
<path class="d k2" d="M1041.2 999.5l5.9 5.9l-5.9 5.9l-5.9-5.9z"/>
<path class="d k1" d="M1205.8 1074.9l5.9 5.9l-5.9 5.9l-5.9-5.9z"/>
<path class="d k6" d="M1053.9 777.3l5.9 5.9l-5.9 5.9l-5.9-5.9z"/>
<path class="d k1" d="M1206.7 1074.7l5.9 5.9l-5.9 5.9l-5.9-5.9z"/>
<path class="d k1" d="M1271.3 1035.4l5.9 5.9l-5.9 5.9l-5.9-5.9z"/>
<path class="d k10" d="M1018.2 547.9l5.9 5.9l-5.9 5.9l-5.9-5.9z"/>
<path class="d k0" d="M1214.2 1124.0l5.9 5.9l-5.9 5.9l-5.9-5.9z"/>
<path class="d k13" d="M445.2 330.1l5.9 5.9l-5.9 5.9l-5.9-5.9z"/>
<path class="d k12" d="M675.4 431.0l5.9 5.9l-5.9 5.9l-5.9-5.9z"/>
<path class="d k0" d="M1247.8 1143.5l5.9 5.9l-5.9 5.9l-5.9-5.9z"/>
<path class="d k0" d="M1272.8 1134.9l5.9 5.9l-5.9 5.9l-5.9-5.9z"/>
<path class="d k3" d="M967.0 930.6l5.9 5.9l-5.9 5.9l-5.9-5.9z"/>
<path class="d k3" d="M1075.1 967.5l5.9 5.9l-5.9 5.9l-5.9-5.9z"/>
<path class="d k2" d="M1095.0 1009.5l5.9 5.9l-5.9 5.9l-5.9-5.9z"/>
<path class="d k1" d="M1136.0 1084.5l5.9 5.9l-5.9 5.9l-5.9-5.9z"/>
<path class="d k3" d="M1161.0 911.5l5.9 5.9l-5.9 5.9l-5.9-5.9z"/>
<path class="d k3" d="M1089.0 939.7l5.9 5.9l-5.9 5.9l-5.9-5.9z"/>
<path class="d k6" d="M1086.7 766.0l5.9 5.9l-5.9 5.9l-5.9-5.9z"/>
<path class="d k0" d="M1139.1 1103.6l5.9 5.9l-5.9 5.9l-5.9-5.9z"/>
<path class="d k1" d="M1113.7 1065.6l5.9 5.9l-5.9 5.9l-5.9-5.9z"/>
<path class="d k4" d="M663.5 878.1l5.9 5.9l-5.9 5.9l-5.9-5.9z"/>
<path class="d k12" d="M598.6 414.6l5.9 5.9l-5.9 5.9l-5.9-5.9z"/>
<path class="d k8" d="M884.2 644.8l5.9 5.9l-5.9 5.9l-5.9-5.9z"/>
<path class="d k2" d="M1020.6 974.1l5.9 5.9l-5.9 5.9l-5.9-5.9z"/>
<path class="d k7" d="M742.1 727.6l5.9 5.9l-5.9 5.9l-5.9-5.9z"/>
<path class="d k0" d="M1186.3 1172.6l5.9 5.9l-5.9 5.9l-5.9-5.9z"/>
<path class="d k5" d="M1015.5 833.2l5.9 5.9l-5.9 5.9l-5.9-5.9z"/>
<path class="d k13" d="M614.3 343.4l5.9 5.9l-5.9 5.9l-5.9-5.9z"/>
<path class="d k9" d="M709.6 590.6l5.9 5.9l-5.9 5.9l-5.9-5.9z"/>
<path class="d k0" d="M1238.3 1187.7l5.9 5.9l-5.9 5.9l-5.9-5.9z"/>
<path class="d k4" d="M1003.7 888.4l5.9 5.9l-5.9 5.9l-5.9-5.9z"/>
<path class="d k1" d="M1202.3 1039.7l5.9 5.9l-5.9 5.9l-5.9-5.9z"/>
<path class="d k0" d="M1233.8 1179.9l5.9 5.9l-5.9 5.9l-5.9-5.9z"/>
<path class="d k0" d="M1137.6 1117.3l5.9 5.9l-5.9 5.9l-5.9-5.9z"/>
<path class="d k8" d="M589.5 640.3l5.9 5.9l-5.9 5.9l-5.9-5.9z"/>
<path class="d k7" d="M905.6 730.4l5.9 5.9l-5.9 5.9l-5.9-5.9z"/>
<path class="d k11" d="M924.2 472.3l5.9 5.9l-5.9 5.9l-5.9-5.9z"/>
<path class="d k8" d="M757.0 655.5l5.9 5.9l-5.9 5.9l-5.9-5.9z"/>
<path class="d k4" d="M1213.5 871.9l5.9 5.9l-5.9 5.9l-5.9-5.9z"/>
<path class="d k6" d="M952.8 771.1l5.9 5.9l-5.9 5.9l-5.9-5.9z"/>
<path class="d k6" d="M744.9 746.8l5.9 5.9l-5.9 5.9l-5.9-5.9z"/>
<path class="d k3" d="M605.5 924.9l5.9 5.9l-5.9 5.9l-5.9-5.9z"/>
<path class="d k0" d="M1176.2 1109.5l5.9 5.9l-5.9 5.9l-5.9-5.9z"/>
<path class="d k0" d="M1247.9 1121.9l5.9 5.9l-5.9 5.9l-5.9-5.9z"/>
<path class="d k7" d="M730.8 698.8l5.9 5.9l-5.9 5.9l-5.9-5.9z"/>
<path class="d k1" d="M1157.9 1045.7l5.9 5.9l-5.9 5.9l-5.9-5.9z"/>
<path class="d k4" d="M997.9 889.4l5.9 5.9l-5.9 5.9l-5.9-5.9z"/>
<path class="d k7" d="M724.0 718.0l5.9 5.9l-5.9 5.9l-5.9-5.9z"/>
<path class="d k1" d="M1199.7 1062.8l5.9 5.9l-5.9 5.9l-5.9-5.9z"/>
<path class="d k3" d="M1082.8 932.1l5.9 5.9l-5.9 5.9l-5.9-5.9z"/>
<path class="d k6" d="M976.0 760.9l5.9 5.9l-5.9 5.9l-5.9-5.9z"/>
<path class="d k1" d="M938.0 1041.3l5.9 5.9l-5.9 5.9l-5.9-5.9z"/>
<path class="d k0" d="M1222.3 1147.3l5.9 5.9l-5.9 5.9l-5.9-5.9z"/>
<path class="d k1" d="M1148.5 1035.5l5.9 5.9l-5.9 5.9l-5.9-5.9z"/>
<path class="d k0" d="M1267.4 1109.0l5.9 5.9l-5.9 5.9l-5.9-5.9z"/>
<path class="d k4" d="M1011.7 871.6l5.9 5.9l-5.9 5.9l-5.9-5.9z"/>
<path class="d k10" d="M639.2 551.0l5.9 5.9l-5.9 5.9l-5.9-5.9z"/>
<path class="d k8" d="M661.8 638.0l5.9 5.9l-5.9 5.9l-5.9-5.9z"/>
<path class="d k3" d="M1078.9 965.2l5.9 5.9l-5.9 5.9l-5.9-5.9z"/>
<path class="d k5" d="M1001.4 795.9l5.9 5.9l-5.9 5.9l-5.9-5.9z"/>
<path class="d k0" d="M1071.5 1130.8l5.9 5.9l-5.9 5.9l-5.9-5.9z"/>
<path class="d k8" d="M709.6 631.2l5.9 5.9l-5.9 5.9l-5.9-5.9z"/>
<path class="d k0" d="M1273.4 1170.2l5.9 5.9l-5.9 5.9l-5.9-5.9z"/>
<path class="d k0" d="M1162.9 1098.3l5.9 5.9l-5.9 5.9l-5.9-5.9z"/>
<path class="d k10" d="M838.0 494.1l5.9 5.9l-5.9 5.9l-5.9-5.9z"/>
<path class="d k2" d="M1287.7 990.8l5.9 5.9l-5.9 5.9l-5.9-5.9z"/>
<path class="d k2" d="M1129.0 1016.9l5.9 5.9l-5.9 5.9l-5.9-5.9z"/>
<path class="d k1" d="M891.8 1055.1l5.9 5.9l-5.9 5.9l-5.9-5.9z"/>
<path class="d k0" d="M1115.5 1115.0l5.9 5.9l-5.9 5.9l-5.9-5.9z"/>
<path class="d k1" d="M1102.4 1059.6l5.9 5.9l-5.9 5.9l-5.9-5.9z"/>
<path class="d k3" d="M1009.5 913.5l5.9 5.9l-5.9 5.9l-5.9-5.9z"/>
<path class="d k2" d="M1079.6 1022.9l5.9 5.9l-5.9 5.9l-5.9-5.9z"/>
<path class="d k0" d="M1219.2 1109.0l5.9 5.9l-5.9 5.9l-5.9-5.9z"/>
<path class="d k3" d="M1073.0 937.8l5.9 5.9l-5.9 5.9l-5.9-5.9z"/>
<path class="d k9" d="M555.6 555.0l5.9 5.9l-5.9 5.9l-5.9-5.9z"/>
<path class="d k12" d="M569.5 378.6l5.9 5.9l-5.9 5.9l-5.9-5.9z"/>
<path class="d k6" d="M868.9 766.6l5.9 5.9l-5.9 5.9l-5.9-5.9z"/>
<path class="d k2" d="M1084.3 991.5l5.9 5.9l-5.9 5.9l-5.9-5.9z"/>
<path class="d k0" d="M1251.2 1112.6l5.9 5.9l-5.9 5.9l-5.9-5.9z"/>
<path class="d k4" d="M1057.9 905.5l5.9 5.9l-5.9 5.9l-5.9-5.9z"/>
<path class="d k4" d="M565.5 875.6l5.9 5.9l-5.9 5.9l-5.9-5.9z"/>
<path class="d k10" d="M690.6 545.4l5.9 5.9l-5.9 5.9l-5.9-5.9z"/>
<path class="d k7" d="M680.5 709.5l5.9 5.9l-5.9 5.9l-5.9-5.9z"/>
<path class="d k4" d="M774.8 883.1l5.9 5.9l-5.9 5.9l-5.9-5.9z"/>
<path class="d k3" d="M1078.1 921.7l5.9 5.9l-5.9 5.9l-5.9-5.9z"/>
<path class="d k1" d="M1176.7 1061.8l5.9 5.9l-5.9 5.9l-5.9-5.9z"/>
<path class="d k9" d="M604.2 582.7l5.9 5.9l-5.9 5.9l-5.9-5.9z"/>
<path class="d k5" d="M883.0 814.0l5.9 5.9l-5.9 5.9l-5.9-5.9z"/>
<path class="d k8" d="M849.7 652.1l5.9 5.9l-5.9 5.9l-5.9-5.9z"/>
<path class="d k8" d="M758.7 642.5l5.9 5.9l-5.9 5.9l-5.9-5.9z"/>
<path class="d k3" d="M1089.4 928.8l5.9 5.9l-5.9 5.9l-5.9-5.9z"/>
<path class="d k5" d="M965.2 805.5l5.9 5.9l-5.9 5.9l-5.9-5.9z"/>
<path class="d k5" d="M707.6 794.8l5.9 5.9l-5.9 5.9l-5.9-5.9z"/>
<path class="d k7" d="M777.9 677.0l5.9 5.9l-5.9 5.9l-5.9-5.9z"/>
<path class="d k8" d="M692.3 668.5l5.9 5.9l-5.9 5.9l-5.9-5.9z"/>
<path class="d k13" d="M569.8 345.3l5.9 5.9l-5.9 5.9l-5.9-5.9z"/>
<path class="d k13" d="M576.0 369.9l5.9 5.9l-5.9 5.9l-5.9-5.9z"/>
<path class="d k1" d="M1198.1 1068.7l5.9 5.9l-5.9 5.9l-5.9-5.9z"/>
<path class="d k5" d="M898.3 846.5l5.9 5.9l-5.9 5.9l-5.9-5.9z"/>
<path class="d k1" d="M1267.6 1083.6l5.9 5.9l-5.9 5.9l-5.9-5.9z"/>
<path class="d k1" d="M1156.5 1062.7l5.9 5.9l-5.9 5.9l-5.9-5.9z"/>
<path class="d k3" d="M1208.4 933.5l5.9 5.9l-5.9 5.9l-5.9-5.9z"/>
<path class="d k1" d="M1133.7 1046.2l5.9 5.9l-5.9 5.9l-5.9-5.9z"/>
<path class="d k4" d="M1063.7 879.5l5.9 5.9l-5.9 5.9l-5.9-5.9z"/>
<path class="d k6" d="M701.4 734.4l5.9 5.9l-5.9 5.9l-5.9-5.9z"/>
<path class="d k0" d="M1193.6 1105.9l5.9 5.9l-5.9 5.9l-5.9-5.9z"/>
<path class="d k2" d="M627.2 1020.1l5.9 5.9l-5.9 5.9l-5.9-5.9z"/>
<path class="d k1" d="M1113.3 1062.3l5.9 5.9l-5.9 5.9l-5.9-5.9z"/>
<path class="d k1" d="M1112.7 1038.3l5.9 5.9l-5.9 5.9l-5.9-5.9z"/>
<path class="d k11" d="M590.1 479.5l5.9 5.9l-5.9 5.9l-5.9-5.9z"/>
<path class="d k4" d="M942.3 875.9l5.9 5.9l-5.9 5.9l-5.9-5.9z"/>
<path class="d k0" d="M1200.5 1151.9l5.9 5.9l-5.9 5.9l-5.9-5.9z"/>
<path class="d k2" d="M1066.8 995.9l5.9 5.9l-5.9 5.9l-5.9-5.9z"/>
<path class="d k16" d="M543.2 166.1l5.9 5.9l-5.9 5.9l-5.9-5.9z"/>
<path class="d k5" d="M1058.4 840.6l5.9 5.9l-5.9 5.9l-5.9-5.9z"/>
<path class="d k0" d="M708.0 1144.6l5.9 5.9l-5.9 5.9l-5.9-5.9z"/>
<path class="d k3" d="M553.0 911.1l5.9 5.9l-5.9 5.9l-5.9-5.9z"/>
<path class="d k12" d="M665.2 412.3l5.9 5.9l-5.9 5.9l-5.9-5.9z"/>
<path class="d k8" d="M727.7 630.1l5.9 5.9l-5.9 5.9l-5.9-5.9z"/>
<path class="d k1" d="M1151.1 1051.9l5.9 5.9l-5.9 5.9l-5.9-5.9z"/>
<path class="d k3" d="M624.0 946.9l5.9 5.9l-5.9 5.9l-5.9-5.9z"/>
<path class="d k1" d="M1195.4 1046.0l5.9 5.9l-5.9 5.9l-5.9-5.9z"/>
<path class="d k5" d="M579.0 806.1l5.9 5.9l-5.9 5.9l-5.9-5.9z"/>
<path class="d k4" d="M1128.2 883.8l5.9 5.9l-5.9 5.9l-5.9-5.9z"/>
<path class="d k8" d="M514.8 660.6l5.9 5.9l-5.9 5.9l-5.9-5.9z"/>
<path class="d k1" d="M1221.8 1063.3l5.9 5.9l-5.9 5.9l-5.9-5.9z"/>
<path class="d k2" d="M557.2 996.9l5.9 5.9l-5.9 5.9l-5.9-5.9z"/>
<path class="d k1" d="M1135.4 1076.8l5.9 5.9l-5.9 5.9l-5.9-5.9z"/>
<path class="d k7" d="M687.8 697.7l5.9 5.9l-5.9 5.9l-5.9-5.9z"/>
<path class="d k8" d="M626.8 662.9l5.9 5.9l-5.9 5.9l-5.9-5.9z"/>
<path class="d k4" d="M979.7 886.7l5.9 5.9l-5.9 5.9l-5.9-5.9z"/>
<path class="d k9" d="M709.6 606.4l5.9 5.9l-5.9 5.9l-5.9-5.9z"/>
<path class="d k1" d="M1152.3 1060.3l5.9 5.9l-5.9 5.9l-5.9-5.9z"/>
<path class="d k4" d="M1057.5 867.9l5.9 5.9l-5.9 5.9l-5.9-5.9z"/>
<path class="d k6" d="M874.6 733.8l5.9 5.9l-5.9 5.9l-5.9-5.9z"/>
<path class="d k12" d="M618.9 430.4l5.9 5.9l-5.9 5.9l-5.9-5.9z"/>
<path class="d k4" d="M1219.2 856.1l5.9 5.9l-5.9 5.9l-5.9-5.9z"/>
<path class="d k11" d="M641.5 445.7l5.9 5.9l-5.9 5.9l-5.9-5.9z"/>
<path class="d k2" d="M1061.4 1006.8l5.9 5.9l-5.9 5.9l-5.9-5.9z"/>
<path class="d k3" d="M979.8 936.9l5.9 5.9l-5.9 5.9l-5.9-5.9z"/>
<path class="d k9" d="M803.4 590.6l5.9 5.9l-5.9 5.9l-5.9-5.9z"/>
<path class="d k2" d="M1319.3 1000.4l5.9 5.9l-5.9 5.9l-5.9-5.9z"/>
<path class="d k2" d="M1266.8 988.0l5.9 5.9l-5.9 5.9l-5.9-5.9z"/>
<path class="d k6" d="M451.5 779.3l5.9 5.9l-5.9 5.9l-5.9-5.9z"/>
<path class="d k2" d="M786.8 986.1l5.9 5.9l-5.9 5.9l-5.9-5.9z"/>
<path class="d k3" d="M1051.1 956.4l5.9 5.9l-5.9 5.9l-5.9-5.9z"/>
<path class="d k1" d="M1218.7 1069.6l5.9 5.9l-5.9 5.9l-5.9-5.9z"/>
<path class="d k2" d="M1225.0 999.3l5.9 5.9l-5.9 5.9l-5.9-5.9z"/>
<path class="d k1" d="M1215.6 1041.4l5.9 5.9l-5.9 5.9l-5.9-5.9z"/>
<path class="d k7" d="M811.3 687.5l5.9 5.9l-5.9 5.9l-5.9-5.9z"/>
<path class="d k4" d="M1248.0 892.3l5.9 5.9l-5.9 5.9l-5.9-5.9z"/>
<path class="d k0" d="M1168.0 1103.2l5.9 5.9l-5.9 5.9l-5.9-5.9z"/>
<path class="d k2" d="M1229.5 981.8l5.9 5.9l-5.9 5.9l-5.9-5.9z"/>
<path class="d k4" d="M979.7 897.5l5.9 5.9l-5.9 5.9l-5.9-5.9z"/>
<path class="d k3" d="M632.2 957.6l5.9 5.9l-5.9 5.9l-5.9-5.9z"/>
<path class="d k6" d="M708.2 747.9l5.9 5.9l-5.9 5.9l-5.9-5.9z"/>
<path class="d k3" d="M1045.0 959.4l5.9 5.9l-5.9 5.9l-5.9-5.9z"/>
<path class="d k1" d="M1112.6 1038.8l5.9 5.9l-5.9 5.9l-5.9-5.9z"/>
<path class="d k0" d="M1264.6 1119.6l5.9 5.9l-5.9 5.9l-5.9-5.9z"/>
<path class="d k3" d="M1064.6 941.3l5.9 5.9l-5.9 5.9l-5.9-5.9z"/>
<path class="d k5" d="M432.2 836.9l5.9 5.9l-5.9 5.9l-5.9-5.9z"/>
<path class="d k4" d="M815.2 885.5l5.9 5.9l-5.9 5.9l-5.9-5.9z"/>
<path class="d k5" d="M785.6 846.7l5.9 5.9l-5.9 5.9l-5.9-5.9z"/>
<path class="d k0" d="M1199.9 1102.1l5.9 5.9l-5.9 5.9l-5.9-5.9z"/>
<path class="d k3" d="M1088.8 910.6l5.9 5.9l-5.9 5.9l-5.9-5.9z"/>
<path class="d k15" d="M611.5 251.6l5.9 5.9l-5.9 5.9l-5.9-5.9z"/>
<path class="d k5" d="M1075.4 824.7l5.9 5.9l-5.9 5.9l-5.9-5.9z"/>
<path class="d k3" d="M1081.3 953.9l5.9 5.9l-5.9 5.9l-5.9-5.9z"/>
<path class="d k0" d="M1198.8 1090.9l5.9 5.9l-5.9 5.9l-5.9-5.9z"/>
<path class="d k4" d="M806.2 884.4l5.9 5.9l-5.9 5.9l-5.9-5.9z"/>
<path class="d k3" d="M1119.8 925.6l5.9 5.9l-5.9 5.9l-5.9-5.9z"/>
<path class="d k7" d="M703.1 684.1l5.9 5.9l-5.9 5.9l-5.9-5.9z"/>
<path class="d k1" d="M1138.8 1074.6l5.9 5.9l-5.9 5.9l-5.9-5.9z"/>
<path class="d k4" d="M978.9 894.0l5.9 5.9l-5.9 5.9l-5.9-5.9z"/>
<path class="d k10" d="M450.2 534.9l5.9 5.9l-5.9 5.9l-5.9-5.9z"/>
<path class="d k0" d="M1296.1 1121.7l5.9 5.9l-5.9 5.9l-5.9-5.9z"/>
<path class="d k2" d="M1183.4 1019.2l5.9 5.9l-5.9 5.9l-5.9-5.9z"/>
<path class="d k0" d="M1248.4 1106.7l5.9 5.9l-5.9 5.9l-5.9-5.9z"/>
<path class="d k5" d="M837.3 835.2l5.9 5.9l-5.9 5.9l-5.9-5.9z"/>
<path class="d k2" d="M1184.2 1009.6l5.9 5.9l-5.9 5.9l-5.9-5.9z"/>
<path class="d k2" d="M1091.4 989.7l5.9 5.9l-5.9 5.9l-5.9-5.9z"/>
<path class="d k7" d="M718.1 680.9l5.9 5.9l-5.9 5.9l-5.9-5.9z"/>
<path class="d k5" d="M973.2 809.5l5.9 5.9l-5.9 5.9l-5.9-5.9z"/>
<path class="d k10" d="M746.0 511.6l5.9 5.9l-5.9 5.9l-5.9-5.9z"/>
<path class="d k15" d="M585.2 220.6l5.9 5.9l-5.9 5.9l-5.9-5.9z"/>
<path class="d k3" d="M1063.0 922.1l5.9 5.9l-5.9 5.9l-5.9-5.9z"/>
<path class="d k0" d="M1050.0 1097.0l5.9 5.9l-5.9 5.9l-5.9-5.9z"/>
<path class="d k7" d="M855.3 684.1l5.9 5.9l-5.9 5.9l-5.9-5.9z"/>
<path class="d k4" d="M1040.3 891.6l5.9 5.9l-5.9 5.9l-5.9-5.9z"/>
<path class="d k0" d="M1225.2 1157.9l5.9 5.9l-5.9 5.9l-5.9-5.9z"/>
<path class="d k8" d="M868.3 638.6l5.9 5.9l-5.9 5.9l-5.9-5.9z"/>
<path class="d k10" d="M611.0 547.1l5.9 5.9l-5.9 5.9l-5.9-5.9z"/>
<path class="d k5" d="M961.6 848.8l5.9 5.9l-5.9 5.9l-5.9-5.9z"/>
<path class="d k3" d="M1183.6 949.3l5.9 5.9l-5.9 5.9l-5.9-5.9z"/>
<path class="d k4" d="M535.5 894.9l5.9 5.9l-5.9 5.9l-5.9-5.9z"/>
<path class="d k9" d="M547.9 566.4l5.9 5.9l-5.9 5.9l-5.9-5.9z"/>
<path class="d k0" d="M1182.5 1132.6l5.9 5.9l-5.9 5.9l-5.9-5.9z"/>
<path class="d k4" d="M957.2 864.1l5.9 5.9l-5.9 5.9l-5.9-5.9z"/>
<path class="d k10" d="M589.5 545.4l5.9 5.9l-5.9 5.9l-5.9-5.9z"/>
<path class="d k4" d="M1054.6 882.2l5.9 5.9l-5.9 5.9l-5.9-5.9z"/>
<path class="d k0" d="M1187.4 1139.3l5.9 5.9l-5.9 5.9l-5.9-5.9z"/>
<path class="d k0" d="M1188.9 1124.1l5.9 5.9l-5.9 5.9l-5.9-5.9z"/>
<path class="d k1" d="M1259.5 1065.9l5.9 5.9l-5.9 5.9l-5.9-5.9z"/>
<path class="d k5" d="M1069.8 849.1l5.9 5.9l-5.9 5.9l-5.9-5.9z"/>
<path class="d k1" d="M1157.2 1063.0l5.9 5.9l-5.9 5.9l-5.9-5.9z"/>
<path class="d k13" d="M578.8 334.0l5.9 5.9l-5.9 5.9l-5.9-5.9z"/>
<path class="d k0" d="M723.5 1148.1l5.9 5.9l-5.9 5.9l-5.9-5.9z"/>
<path class="d k1" d="M1189.6 1062.4l5.9 5.9l-5.9 5.9l-5.9-5.9z"/>
<path class="d k1" d="M1137.0 1032.3l5.9 5.9l-5.9 5.9l-5.9-5.9z"/>
<path class="d k14" d="M552.2 282.9l5.9 5.9l-5.9 5.9l-5.9-5.9z"/>
<path class="d k3" d="M1091.5 924.3l5.9 5.9l-5.9 5.9l-5.9-5.9z"/>
<path class="d k3" d="M1178.5 931.8l5.9 5.9l-5.9 5.9l-5.9-5.9z"/>
<path class="d k4" d="M1115.2 857.8l5.9 5.9l-5.9 5.9l-5.9-5.9z"/>
<path class="d k6" d="M1142.0 775.3l5.9 5.9l-5.9 5.9l-5.9-5.9z"/>
<path class="d k4" d="M698.5 852.3l5.9 5.9l-5.9 5.9l-5.9-5.9z"/>
<path class="d k15" d="M507.5 215.9l5.9 5.9l-5.9 5.9l-5.9-5.9z"/>
<path class="d k1" d="M1098.4 1077.6l5.9 5.9l-5.9 5.9l-5.9-5.9z"/>
<path class="d k3" d="M640.2 959.3l5.9 5.9l-5.9 5.9l-5.9-5.9z"/>
<path class="d k8" d="M721.5 629.5l5.9 5.9l-5.9 5.9l-5.9-5.9z"/>
<path class="d k0" d="M1207.8 1128.2l5.9 5.9l-5.9 5.9l-5.9-5.9z"/>
<path class="d k0" d="M1181.1 1157.4l5.9 5.9l-5.9 5.9l-5.9-5.9z"/>
<path class="d k0" d="M1199.8 1117.2l5.9 5.9l-5.9 5.9l-5.9-5.9z"/>
<path class="d k5" d="M408.5 826.9l5.9 5.9l-5.9 5.9l-5.9-5.9z"/>
<path class="d k7" d="M720.6 725.9l5.9 5.9l-5.9 5.9l-5.9-5.9z"/>
<path class="d k0" d="M921.2 1102.1l5.9 5.9l-5.9 5.9l-5.9-5.9z"/>
<path class="d k6" d="M753.9 766.6l5.9 5.9l-5.9 5.9l-5.9-5.9z"/>
<path class="d k9" d="M705.1 553.3l5.9 5.9l-5.9 5.9l-5.9-5.9z"/>
<path class="d k4" d="M589.8 858.6l5.9 5.9l-5.9 5.9l-5.9-5.9z"/>
<path class="d k0" d="M973.8 1180.9l5.9 5.9l-5.9 5.9l-5.9-5.9z"/>
<path class="d k3" d="M1199.4 926.7l5.9 5.9l-5.9 5.9l-5.9-5.9z"/>
<path class="d k10" d="M574.9 548.8l5.9 5.9l-5.9 5.9l-5.9-5.9z"/>
<path class="d k2" d="M1057.2 982.8l5.9 5.9l-5.9 5.9l-5.9-5.9z"/>
<path class="d k10" d="M626.8 545.4l5.9 5.9l-5.9 5.9l-5.9-5.9z"/>
<path class="d k6" d="M747.1 733.8l5.9 5.9l-5.9 5.9l-5.9-5.9z"/>
<path class="d k1" d="M1097.4 1034.4l5.9 5.9l-5.9 5.9l-5.9-5.9z"/>
<path class="d k7" d="M846.9 710.1l5.9 5.9l-5.9 5.9l-5.9-5.9z"/>
<path class="d k13" d="M546.0 335.9l5.9 5.9l-5.9 5.9l-5.9-5.9z"/>
<path class="d k0" d="M1304.4 1143.0l5.9 5.9l-5.9 5.9l-5.9-5.9z"/>
<path class="d k4" d="M1083.8 854.8l5.9 5.9l-5.9 5.9l-5.9-5.9z"/>
<path class="d k3" d="M1021.2 954.3l5.9 5.9l-5.9 5.9l-5.9-5.9z"/>
<path class="d k13" d="M694.8 329.1l5.9 5.9l-5.9 5.9l-5.9-5.9z"/>
<path class="d k3" d="M1217.5 942.5l5.9 5.9l-5.9 5.9l-5.9-5.9z"/>
<path class="d k0" d="M1234.2 1142.5l5.9 5.9l-5.9 5.9l-5.9-5.9z"/>
<path class="d k6" d="M1233.0 777.1l5.9 5.9l-5.9 5.9l-5.9-5.9z"/>
<path class="d k6" d="M959.6 771.6l5.9 5.9l-5.9 5.9l-5.9-5.9z"/>
<path class="d k6" d="M942.3 754.1l5.9 5.9l-5.9 5.9l-5.9-5.9z"/>
<path class="d k0" d="M1236.7 1108.6l5.9 5.9l-5.9 5.9l-5.9-5.9z"/>
<path class="d k2" d="M1080.4 973.0l5.9 5.9l-5.9 5.9l-5.9-5.9z"/>
<path class="d k4" d="M952.9 864.2l5.9 5.9l-5.9 5.9l-5.9-5.9z"/>
<path class="d k9" d="M629.1 604.1l5.9 5.9l-5.9 5.9l-5.9-5.9z"/>
<path class="d k3" d="M1050.5 929.0l5.9 5.9l-5.9 5.9l-5.9-5.9z"/>
<path class="d k3" d="M1098.8 959.5l5.9 5.9l-5.9 5.9l-5.9-5.9z"/>
<path class="d k6" d="M957.9 757.5l5.9 5.9l-5.9 5.9l-5.9-5.9z"/>
<path class="d k1" d="M1138.0 1055.1l5.9 5.9l-5.9 5.9l-5.9-5.9z"/>
<path class="d k3" d="M1003.1 961.1l5.9 5.9l-5.9 5.9l-5.9-5.9z"/>
<path class="d k1" d="M1270.8 1076.7l5.9 5.9l-5.9 5.9l-5.9-5.9z"/>
<path class="d k13" d="M663.0 328.6l5.9 5.9l-5.9 5.9l-5.9-5.9z"/>
<path class="d k11" d="M765.2 476.1l5.9 5.9l-5.9 5.9l-5.9-5.9z"/>
<path class="d k7" d="M970.5 679.9l5.9 5.9l-5.9 5.9l-5.9-5.9z"/>
<path class="d k9" d="M633.6 577.6l5.9 5.9l-5.9 5.9l-5.9-5.9z"/>
<path class="d k7" d="M1030.2 684.1l5.9 5.9l-5.9 5.9l-5.9-5.9z"/>
<path class="d k4" d="M1056.0 905.2l5.9 5.9l-5.9 5.9l-5.9-5.9z"/>
<path class="d k0" d="M1240.2 1095.8l5.9 5.9l-5.9 5.9l-5.9-5.9z"/>
<path class="d k3" d="M982.7 921.9l5.9 5.9l-5.9 5.9l-5.9-5.9z"/>
<path class="d k12" d="M786.8 415.6l5.9 5.9l-5.9 5.9l-5.9-5.9z"/>
<path class="d k5" d="M942.3 798.2l5.9 5.9l-5.9 5.9l-5.9-5.9z"/>
<path class="d k10" d="M564.7 539.2l5.9 5.9l-5.9 5.9l-5.9-5.9z"/>
<path class="d k13" d="M530.5 329.6l5.9 5.9l-5.9 5.9l-5.9-5.9z"/>
<path class="d k0" d="M1232.3 1096.2l5.9 5.9l-5.9 5.9l-5.9-5.9z"/>
<path class="d k7" d="M801.7 704.4l5.9 5.9l-5.9 5.9l-5.9-5.9z"/>
<path class="d k3" d="M1069.1 915.7l5.9 5.9l-5.9 5.9l-5.9-5.9z"/>
<path class="d k5" d="M1121.8 801.6l5.9 5.9l-5.9 5.9l-5.9-5.9z"/>
<path class="d k0" d="M1196.9 1118.7l5.9 5.9l-5.9 5.9l-5.9-5.9z"/>
<path class="d k2" d="M800.0 997.1l5.9 5.9l-5.9 5.9l-5.9-5.9z"/>
<path class="d k8" d="M480.5 667.3l5.9 5.9l-5.9 5.9l-5.9-5.9z"/>
<path class="d k0" d="M1169.6 1126.4l5.9 5.9l-5.9 5.9l-5.9-5.9z"/>
<path class="d k1" d="M1093.4 1032.8l5.9 5.9l-5.9 5.9l-5.9-5.9z"/>
<path class="d k0" d="M1229.7 1104.1l5.9 5.9l-5.9 5.9l-5.9-5.9z"/>
<path class="d k10" d="M511.0 542.3l5.9 5.9l-5.9 5.9l-5.9-5.9z"/>
<path class="d k9" d="M521.5 574.9l5.9 5.9l-5.9 5.9l-5.9-5.9z"/>
<path class="d k2" d="M1116.5 1006.5l5.9 5.9l-5.9 5.9l-5.9-5.9z"/>
<path class="d k5" d="M828.8 829.8l5.9 5.9l-5.9 5.9l-5.9-5.9z"/>
<path class="d k12" d="M618.3 411.8l5.9 5.9l-5.9 5.9l-5.9-5.9z"/>
<path class="d k2" d="M1095.9 1015.3l5.9 5.9l-5.9 5.9l-5.9-5.9z"/>
<path class="d k0" d="M1195.4 1142.8l5.9 5.9l-5.9 5.9l-5.9-5.9z"/>
<path class="d k1" d="M1113.8 1071.2l5.9 5.9l-5.9 5.9l-5.9-5.9z"/>
<path class="d k9" d="M696.8 609.8l5.9 5.9l-5.9 5.9l-5.9-5.9z"/>
<path class="d k3" d="M1295.6 960.9l5.9 5.9l-5.9 5.9l-5.9-5.9z"/>
<path class="d k0" d="M1190.3 1089.3l5.9 5.9l-5.9 5.9l-5.9-5.9z"/>
<path class="d k3" d="M1149.7 949.3l5.9 5.9l-5.9 5.9l-5.9-5.9z"/>
<path class="d k0" d="M1234.0 1158.6l5.9 5.9l-5.9 5.9l-5.9-5.9z"/>
<path class="d k7" d="M882.5 708.4l5.9 5.9l-5.9 5.9l-5.9-5.9z"/>
<path class="d k5" d="M841.2 802.7l5.9 5.9l-5.9 5.9l-5.9-5.9z"/>
<path class="d k3" d="M1168.9 916.6l5.9 5.9l-5.9 5.9l-5.9-5.9z"/>
<path class="d k0" d="M1266.0 1138.4l5.9 5.9l-5.9 5.9l-5.9-5.9z"/>
<path class="d k2" d="M1140.1 986.4l5.9 5.9l-5.9 5.9l-5.9-5.9z"/>
<path class="d k4" d="M888.7 862.3l5.9 5.9l-5.9 5.9l-5.9-5.9z"/>
<path class="d k0" d="M1154.0 1132.4l5.9 5.9l-5.9 5.9l-5.9-5.9z"/>
<path class="d k9" d="M589.5 610.3l5.9 5.9l-5.9 5.9l-5.9-5.9z"/>
<path class="d k0" d="M1253.7 1163.1l5.9 5.9l-5.9 5.9l-5.9-5.9z"/>
<path class="d k0" d="M1240.3 1159.9l5.9 5.9l-5.9 5.9l-5.9-5.9z"/>
<path class="d k4" d="M704.2 907.6l5.9 5.9l-5.9 5.9l-5.9-5.9z"/>
<path class="d k0" d="M1232.3 1154.8l5.9 5.9l-5.9 5.9l-5.9-5.9z"/>
<path class="d k3" d="M1067.7 967.6l5.9 5.9l-5.9 5.9l-5.9-5.9z"/>
<path class="d k8" d="M790.4 622.8l5.9 5.9l-5.9 5.9l-5.9-5.9z"/>
<path class="d k10" d="M656.2 523.0l5.9 5.9l-5.9 5.9l-5.9-5.9z"/>
<path class="d k0" d="M1170.2 1131.4l5.9 5.9l-5.9 5.9l-5.9-5.9z"/>
<path class="d k10" d="M689.5 519.1l5.9 5.9l-5.9 5.9l-5.9-5.9z"/>
<path class="d k5" d="M879.1 827.6l5.9 5.9l-5.9 5.9l-5.9-5.9z"/>
<path class="d k1" d="M1115.8 1045.4l5.9 5.9l-5.9 5.9l-5.9-5.9z"/>
<path class="d k0" d="M1182.7 1136.3l5.9 5.9l-5.9 5.9l-5.9-5.9z"/>
<path class="d k10" d="M635.8 542.6l5.9 5.9l-5.9 5.9l-5.9-5.9z"/>
<path class="d k3" d="M582.8 960.6l5.9 5.9l-5.9 5.9l-5.9-5.9z"/>
<path class="d k11" d="M633.0 458.7l5.9 5.9l-5.9 5.9l-5.9-5.9z"/>
<path class="d k9" d="M561.9 567.4l5.9 5.9l-5.9 5.9l-5.9-5.9z"/>
<path class="d k0" d="M1153.2 1125.6l5.9 5.9l-5.9 5.9l-5.9-5.9z"/>
<path class="d k9" d="M774.0 609.8l5.9 5.9l-5.9 5.9l-5.9-5.9z"/>
<path class="d k6" d="M1032.5 763.2l5.9 5.9l-5.9 5.9l-5.9-5.9z"/>
<path class="d k3" d="M1013.3 917.7l5.9 5.9l-5.9 5.9l-5.9-5.9z"/>
<path class="d k0" d="M1204.9 1135.1l5.9 5.9l-5.9 5.9l-5.9-5.9z"/>
<path class="d k9" d="M928.2 604.1l5.9 5.9l-5.9 5.9l-5.9-5.9z"/>
<path class="d k17" d="M353.2 39.3l5.9 5.9l-5.9 5.9l-5.9-5.9z"/>
<path class="d k4" d="M1051.1 880.3l5.9 5.9l-5.9 5.9l-5.9-5.9z"/>
<path class="d k0" d="M1213.8 1097.9l5.9 5.9l-5.9 5.9l-5.9-5.9z"/>
<path class="d k1" d="M1174.9 1036.7l5.9 5.9l-5.9 5.9l-5.9-5.9z"/>
<path class="d k1" d="M1119.4 1037.5l5.9 5.9l-5.9 5.9l-5.9-5.9z"/>
<path class="d k8" d="M761.6 619.9l5.9 5.9l-5.9 5.9l-5.9-5.9z"/>
<path class="d k9" d="M737.3 590.6l5.9 5.9l-5.9 5.9l-5.9-5.9z"/>
<path class="d k10" d="M611.0 529.8l5.9 5.9l-5.9 5.9l-5.9-5.9z"/>
<path class="d k10" d="M668.0 522.5l5.9 5.9l-5.9 5.9l-5.9-5.9z"/>
<path class="d k5" d="M887.0 820.8l5.9 5.9l-5.9 5.9l-5.9-5.9z"/>
<path class="d k0" d="M1189.7 1168.2l5.9 5.9l-5.9 5.9l-5.9-5.9z"/>
<path class="d k1" d="M1112.3 1045.1l5.9 5.9l-5.9 5.9l-5.9-5.9z"/>
<path class="d k0" d="M1132.4 1121.5l5.9 5.9l-5.9 5.9l-5.9-5.9z"/>
<path class="d k3" d="M1124.3 927.9l5.9 5.9l-5.9 5.9l-5.9-5.9z"/>
<path class="d k12" d="M507.2 422.3l5.9 5.9l-5.9 5.9l-5.9-5.9z"/>
<path class="d k4" d="M1120.3 884.4l5.9 5.9l-5.9 5.9l-5.9-5.9z"/>
<path class="d k1" d="M1117.8 1085.6l5.9 5.9l-5.9 5.9l-5.9-5.9z"/>
<path class="d k7" d="M753.4 730.4l5.9 5.9l-5.9 5.9l-5.9-5.9z"/>
<path class="d k4" d="M1064.1 873.1l5.9 5.9l-5.9 5.9l-5.9-5.9z"/>
<path class="d k9" d="M696.8 555.6l5.9 5.9l-5.9 5.9l-5.9-5.9z"/>
<path class="d k2" d="M965.8 1016.4l5.9 5.9l-5.9 5.9l-5.9-5.9z"/>
<path class="d k4" d="M1000.3 874.9l5.9 5.9l-5.9 5.9l-5.9-5.9z"/>
<path class="d k0" d="M1215.5 1135.7l5.9 5.9l-5.9 5.9l-5.9-5.9z"/>
<path class="d k0" d="M1214.5 1178.0l5.9 5.9l-5.9 5.9l-5.9-5.9z"/>
<path class="d k7" d="M934.4 712.3l5.9 5.9l-5.9 5.9l-5.9-5.9z"/>
<path class="d k2" d="M1209.2 994.8l5.9 5.9l-5.9 5.9l-5.9-5.9z"/>
<path class="d k5" d="M963.6 818.0l5.9 5.9l-5.9 5.9l-5.9-5.9z"/>
<path class="d k8" d="M664.7 658.4l5.9 5.9l-5.9 5.9l-5.9-5.9z"/>
<path class="d k1" d="M1219.7 1059.3l5.9 5.9l-5.9 5.9l-5.9-5.9z"/>
<path class="d k0" d="M1255.2 1152.0l5.9 5.9l-5.9 5.9l-5.9-5.9z"/>
<path class="d k6" d="M825.4 756.4l5.9 5.9l-5.9 5.9l-5.9-5.9z"/>
<path class="d k2" d="M1117.1 1022.4l5.9 5.9l-5.9 5.9l-5.9-5.9z"/>
<path class="d k7" d="M599.7 683.2l5.9 5.9l-5.9 5.9l-5.9-5.9z"/>
<path class="d k4" d="M973.2 888.8l5.9 5.9l-5.9 5.9l-5.9-5.9z"/>
<path class="d k5" d="M844.1 845.4l5.9 5.9l-5.9 5.9l-5.9-5.9z"/>
<path class="d k2" d="M633.5 984.9l5.9 5.9l-5.9 5.9l-5.9-5.9z"/>
<path class="d k7" d="M892.6 692.0l5.9 5.9l-5.9 5.9l-5.9-5.9z"/>
<path class="d k1" d="M1123.0 1050.2l5.9 5.9l-5.9 5.9l-5.9-5.9z"/>
<path class="d k0" d="M1214.3 1169.5l5.9 5.9l-5.9 5.9l-5.9-5.9z"/>
<path class="d k0" d="M1169.3 1131.0l5.9 5.9l-5.9 5.9l-5.9-5.9z"/>
<path class="d k6" d="M853.1 766.6l5.9 5.9l-5.9 5.9l-5.9-5.9z"/>
<path class="d k0" d="M1193.6 1133.7l5.9 5.9l-5.9 5.9l-5.9-5.9z"/>
<path class="d k3" d="M1104.0 918.3l5.9 5.9l-5.9 5.9l-5.9-5.9z"/>
<path class="d k3" d="M1218.6 918.8l5.9 5.9l-5.9 5.9l-5.9-5.9z"/>
<path class="d k12" d="M611.0 427.6l5.9 5.9l-5.9 5.9l-5.9-5.9z"/>
<path class="d k4" d="M1018.6 872.7l5.9 5.9l-5.9 5.9l-5.9-5.9z"/>
<path class="d k6" d="M636.0 789.3l5.9 5.9l-5.9 5.9l-5.9-5.9z"/>
<path class="d k6" d="M863.3 736.1l5.9 5.9l-5.9 5.9l-5.9-5.9z"/>
<path class="d k6" d="M895.4 732.1l5.9 5.9l-5.9 5.9l-5.9-5.9z"/>
<path class="d k15" d="M749.0 210.3l5.9 5.9l-5.9 5.9l-5.9-5.9z"/>
<path class="d k5" d="M1094.6 832.1l5.9 5.9l-5.9 5.9l-5.9-5.9z"/>
<path class="d k0" d="M700.2 1103.3l5.9 5.9l-5.9 5.9l-5.9-5.9z"/>
<path class="d k2" d="M1201.3 971.0l5.9 5.9l-5.9 5.9l-5.9-5.9z"/>
<path class="d k4" d="M1039.0 895.3l5.9 5.9l-5.9 5.9l-5.9-5.9z"/>
<path class="d k8" d="M838.4 621.6l5.9 5.9l-5.9 5.9l-5.9-5.9z"/>
<path class="d k4" d="M937.2 897.4l5.9 5.9l-5.9 5.9l-5.9-5.9z"/>
<path class="d k0" d="M1221.4 1158.7l5.9 5.9l-5.9 5.9l-5.9-5.9z"/>
<path class="d k13" d="M555.2 320.6l5.9 5.9l-5.9 5.9l-5.9-5.9z"/>
<path class="d k1" d="M1128.4 1064.2l5.9 5.9l-5.9 5.9l-5.9-5.9z"/>
<path class="d k6" d="M935.0 742.8l5.9 5.9l-5.9 5.9l-5.9-5.9z"/>
<path class="d k1" d="M1147.2 1080.8l5.9 5.9l-5.9 5.9l-5.9-5.9z"/>
<path class="d k5" d="M367.8 826.1l5.9 5.9l-5.9 5.9l-5.9-5.9z"/>
<path class="d k3" d="M1114.7 945.9l5.9 5.9l-5.9 5.9l-5.9-5.9z"/>
<path class="d k7" d="M822.6 680.4l5.9 5.9l-5.9 5.9l-5.9-5.9z"/>
<path class="d k9" d="M715.8 600.7l5.9 5.9l-5.9 5.9l-5.9-5.9z"/>
<path class="d k16" d="M596.5 173.1l5.9 5.9l-5.9 5.9l-5.9-5.9z"/>
<path class="d k11" d="M457.8 451.6l5.9 5.9l-5.9 5.9l-5.9-5.9z"/>
<path class="d k14" d="M698.5 287.3l5.9 5.9l-5.9 5.9l-5.9-5.9z"/>
<path class="d k3" d="M1044.8 959.6l5.9 5.9l-5.9 5.9l-5.9-5.9z"/>
<path class="d k0" d="M1198.0 1168.6l5.9 5.9l-5.9 5.9l-5.9-5.9z"/>
<path class="d k0" d="M1197.2 1170.8l5.9 5.9l-5.9 5.9l-5.9-5.9z"/>
<path class="d k3" d="M1135.0 940.8l5.9 5.9l-5.9 5.9l-5.9-5.9z"/>
<path class="d k10" d="M669.2 503.3l5.9 5.9l-5.9 5.9l-5.9-5.9z"/>
<path class="d k1" d="M1123.9 1041.0l5.9 5.9l-5.9 5.9l-5.9-5.9z"/>
<path class="d k12" d="M593.5 393.7l5.9 5.9l-5.9 5.9l-5.9-5.9z"/>
<path class="d k3" d="M991.9 933.1l5.9 5.9l-5.9 5.9l-5.9-5.9z"/>
<path class="d k4" d="M1101.7 873.1l5.9 5.9l-5.9 5.9l-5.9-5.9z"/>
<path class="d k1" d="M1156.8 1085.2l5.9 5.9l-5.9 5.9l-5.9-5.9z"/>
<path class="d k0" d="M777.8 1090.9l5.9 5.9l-5.9 5.9l-5.9-5.9z"/>
<path class="d k2" d="M616.0 1018.9l5.9 5.9l-5.9 5.9l-5.9-5.9z"/>
<path class="d k6" d="M938.4 782.4l5.9 5.9l-5.9 5.9l-5.9-5.9z"/>
<path class="d k4" d="M981.0 892.1l5.9 5.9l-5.9 5.9l-5.9-5.9z"/>
<path class="d k3" d="M991.0 935.8l5.9 5.9l-5.9 5.9l-5.9-5.9z"/>
<path class="d k15" d="M627.2 254.1l5.9 5.9l-5.9 5.9l-5.9-5.9z"/>
<path class="d k3" d="M1199.4 916.0l5.9 5.9l-5.9 5.9l-5.9-5.9z"/>
<path class="d k5" d="M959.6 800.4l5.9 5.9l-5.9 5.9l-5.9-5.9z"/>
<path class="d k5" d="M751.7 802.7l5.9 5.9l-5.9 5.9l-5.9-5.9z"/>
<path class="d k4" d="M1083.6 893.0l5.9 5.9l-5.9 5.9l-5.9-5.9z"/>
<path class="d k6" d="M1087.8 745.7l5.9 5.9l-5.9 5.9l-5.9-5.9z"/>
<path class="d k0" d="M1142.1 1125.8l5.9 5.9l-5.9 5.9l-5.9-5.9z"/>
<path class="d k5" d="M773.7 793.7l5.9 5.9l-5.9 5.9l-5.9-5.9z"/>
<path class="d k2" d="M1139.9 1024.4l5.9 5.9l-5.9 5.9l-5.9-5.9z"/>
<path class="d k0" d="M1200.7 1143.7l5.9 5.9l-5.9 5.9l-5.9-5.9z"/>
<path class="d k5" d="M1072.6 802.7l5.9 5.9l-5.9 5.9l-5.9-5.9z"/>
<path class="d k1" d="M1106.1 1069.8l5.9 5.9l-5.9 5.9l-5.9-5.9z"/>
<path class="d k7" d="M635.5 727.6l5.9 5.9l-5.9 5.9l-5.9-5.9z"/>
<path class="d k13" d="M563.0 339.1l5.9 5.9l-5.9 5.9l-5.9-5.9z"/>
<path class="d k8" d="M861.0 641.4l5.9 5.9l-5.9 5.9l-5.9-5.9z"/>
<path class="d k13" d="M631.4 370.8l5.9 5.9l-5.9 5.9l-5.9-5.9z"/>
<path class="d k1" d="M1089.2 1029.3l5.9 5.9l-5.9 5.9l-5.9-5.9z"/>
<path class="d k7" d="M612.2 699.3l5.9 5.9l-5.9 5.9l-5.9-5.9z"/>
<path class="d k7" d="M730.8 725.9l5.9 5.9l-5.9 5.9l-5.9-5.9z"/>
<path class="d k1" d="M1200.7 1048.6l5.9 5.9l-5.9 5.9l-5.9-5.9z"/>
<path class="d k8" d="M715.2 613.2l5.9 5.9l-5.9 5.9l-5.9-5.9z"/>
<path class="d k0" d="M1140.8 1157.7l5.9 5.9l-5.9 5.9l-5.9-5.9z"/>
<path class="d k9" d="M721.5 553.9l5.9 5.9l-5.9 5.9l-5.9-5.9z"/>
<path class="d k1" d="M1221.5 1080.6l5.9 5.9l-5.9 5.9l-5.9-5.9z"/>
<path class="d k1" d="M1117.7 1041.7l5.9 5.9l-5.9 5.9l-5.9-5.9z"/>
<path class="d k1" d="M1152.5 1046.7l5.9 5.9l-5.9 5.9l-5.9-5.9z"/>
<path class="d k3" d="M1081.2 960.4l5.9 5.9l-5.9 5.9l-5.9-5.9z"/>
<path class="d k0" d="M1152.6 1099.7l5.9 5.9l-5.9 5.9l-5.9-5.9z"/>
<path class="d k7" d="M696.3 684.7l5.9 5.9l-5.9 5.9l-5.9-5.9z"/>
<path class="d k15" d="M479.0 233.3l5.9 5.9l-5.9 5.9l-5.9-5.9z"/>
<path class="d k1" d="M1129.6 1064.7l5.9 5.9l-5.9 5.9l-5.9-5.9z"/>
<path class="d k14" d="M575.2 300.6l5.9 5.9l-5.9 5.9l-5.9-5.9z"/>
<path class="d k1" d="M1147.7 1071.2l5.9 5.9l-5.9 5.9l-5.9-5.9z"/>
<path class="d k13" d="M525.2 364.9l5.9 5.9l-5.9 5.9l-5.9-5.9z"/>
<path class="d k1" d="M1121.0 1041.8l5.9 5.9l-5.9 5.9l-5.9-5.9z"/>
<path class="d k11" d="M632.5 463.7l5.9 5.9l-5.9 5.9l-5.9-5.9z"/>
<path class="d k14" d="M450.2 313.1l5.9 5.9l-5.9 5.9l-5.9-5.9z"/>
<path class="d k0" d="M1208.6 1136.3l5.9 5.9l-5.9 5.9l-5.9-5.9z"/>
<path class="d k2" d="M553.5 975.6l5.9 5.9l-5.9 5.9l-5.9-5.9z"/>
<path class="d k2" d="M1047.1 1015.2l5.9 5.9l-5.9 5.9l-5.9-5.9z"/>
<path class="d k0" d="M1112.2 1166.4l5.9 5.9l-5.9 5.9l-5.9-5.9z"/>
<path class="d k5" d="M510.5 833.9l5.9 5.9l-5.9 5.9l-5.9-5.9z"/>
<path class="d k15" d="M660.5 253.6l5.9 5.9l-5.9 5.9l-5.9-5.9z"/>
<path class="d k1" d="M1114.6 1066.4l5.9 5.9l-5.9 5.9l-5.9-5.9z"/>
<path class="d k7" d="M897.1 697.7l5.9 5.9l-5.9 5.9l-5.9-5.9z"/>
<path class="d k13" d="M594.0 344.6l5.9 5.9l-5.9 5.9l-5.9-5.9z"/>
<path class="d k8" d="M690.1 639.7l5.9 5.9l-5.9 5.9l-5.9-5.9z"/>
<path class="d k7" d="M833.9 705.6l5.9 5.9l-5.9 5.9l-5.9-5.9z"/>
<path class="d k6" d="M611.5 753.1l5.9 5.9l-5.9 5.9l-5.9-5.9z"/>
<path class="d k14" d="M658.0 272.1l5.9 5.9l-5.9 5.9l-5.9-5.9z"/>
<path class="d k9" d="M599.7 590.0l5.9 5.9l-5.9 5.9l-5.9-5.9z"/>
<path class="d k0" d="M1207.4 1088.9l5.9 5.9l-5.9 5.9l-5.9-5.9z"/>
<path class="d k0" d="M1095.2 1112.8l5.9 5.9l-5.9 5.9l-5.9-5.9z"/>
<path class="d k7" d="M984.5 694.8l5.9 5.9l-5.9 5.9l-5.9-5.9z"/>
<path class="d k0" d="M1249.4 1119.6l5.9 5.9l-5.9 5.9l-5.9-5.9z"/>
<path class="d k9" d="M553.4 588.3l5.9 5.9l-5.9 5.9l-5.9-5.9z"/>
<path class="d k2" d="M1131.0 1027.0l5.9 5.9l-5.9 5.9l-5.9-5.9z"/>
<path class="d k5" d="M611.5 793.1l5.9 5.9l-5.9 5.9l-5.9-5.9z"/>
<path class="d k1" d="M1116.9 1037.8l5.9 5.9l-5.9 5.9l-5.9-5.9z"/>
<path class="d k9" d="M811.3 611.5l5.9 5.9l-5.9 5.9l-5.9-5.9z"/>
<path class="d k4" d="M919.2 874.8l5.9 5.9l-5.9 5.9l-5.9-5.9z"/>
<path class="d k8" d="M726.5 618.3l5.9 5.9l-5.9 5.9l-5.9-5.9z"/>
<path class="d k6" d="M789.5 764.9l5.9 5.9l-5.9 5.9l-5.9-5.9z"/>
<path class="d k0" d="M1198.5 1166.3l5.9 5.9l-5.9 5.9l-5.9-5.9z"/>
<path class="d k4" d="M499.8 863.6l5.9 5.9l-5.9 5.9l-5.9-5.9z"/>
<path class="d k0" d="M1266.9 1111.0l5.9 5.9l-5.9 5.9l-5.9-5.9z"/>
<path class="d k0" d="M1221.7 1113.5l5.9 5.9l-5.9 5.9l-5.9-5.9z"/>
<path class="d k9" d="M854.2 587.2l5.9 5.9l-5.9 5.9l-5.9-5.9z"/>
<path class="d k4" d="M915.2 907.5l5.9 5.9l-5.9 5.9l-5.9-5.9z"/>
<path class="d k14" d="M581.5 291.1l5.9 5.9l-5.9 5.9l-5.9-5.9z"/>
<path class="d k2" d="M1200.7 1008.3l5.9 5.9l-5.9 5.9l-5.9-5.9z"/>
<path class="d k16" d="M565.2 157.6l5.9 5.9l-5.9 5.9l-5.9-5.9z"/>
<path class="d k2" d="M1225.0 1010.6l5.9 5.9l-5.9 5.9l-5.9-5.9z"/>
<path class="d k11" d="M586.7 436.6l5.9 5.9l-5.9 5.9l-5.9-5.9z"/>
<path class="d k4" d="M1030.2 896.5l5.9 5.9l-5.9 5.9l-5.9-5.9z"/>
<path class="d k2" d="M1082.9 988.1l5.9 5.9l-5.9 5.9l-5.9-5.9z"/>
<path class="d k6" d="M1112.5 736.6l5.9 5.9l-5.9 5.9l-5.9-5.9z"/>
<path class="d k3" d="M983.2 910.2l5.9 5.9l-5.9 5.9l-5.9-5.9z"/>
<path class="d k8" d="M596.9 655.5l5.9 5.9l-5.9 5.9l-5.9-5.9z"/>
<path class="d k8" d="M498.5 662.3l5.9 5.9l-5.9 5.9l-5.9-5.9z"/>
<path class="d k9" d="M816.4 608.1l5.9 5.9l-5.9 5.9l-5.9-5.9z"/>
<path class="d k3" d="M1202.8 933.5l5.9 5.9l-5.9 5.9l-5.9-5.9z"/>
<path class="d k16" d="M387.8 144.3l5.9 5.9l-5.9 5.9l-5.9-5.9z"/>
<path class="d k2" d="M1264.0 975.0l5.9 5.9l-5.9 5.9l-5.9-5.9z"/>
<path class="d k2" d="M1219.4 971.0l5.9 5.9l-5.9 5.9l-5.9-5.9z"/>
<path class="d k4" d="M951.7 895.0l5.9 5.9l-5.9 5.9l-5.9-5.9z"/>
<path class="d k6" d="M829.4 774.5l5.9 5.9l-5.9 5.9l-5.9-5.9z"/>
<path class="d k6" d="M442.0 773.6l5.9 5.9l-5.9 5.9l-5.9-5.9z"/>
<path class="d k6" d="M659.0 771.6l5.9 5.9l-5.9 5.9l-5.9-5.9z"/>
<path class="d k3" d="M901.7 941.4l5.9 5.9l-5.9 5.9l-5.9-5.9z"/>
<path class="d k8" d="M602.0 642.5l5.9 5.9l-5.9 5.9l-5.9-5.9z"/>
<path class="d k4" d="M1159.9 868.0l5.9 5.9l-5.9 5.9l-5.9-5.9z"/>
<path class="d k8" d="M741.2 633.5l5.9 5.9l-5.9 5.9l-5.9-5.9z"/>
<path class="d k4" d="M1032.3 870.7l5.9 5.9l-5.9 5.9l-5.9-5.9z"/>
<path class="d k0" d="M1264.3 1165.9l5.9 5.9l-5.9 5.9l-5.9-5.9z"/>
<path class="d k6" d="M983.9 781.2l5.9 5.9l-5.9 5.9l-5.9-5.9z"/>
<path class="d k5" d="M812.4 795.9l5.9 5.9l-5.9 5.9l-5.9-5.9z"/>
<path class="d k3" d="M1088.1 929.5l5.9 5.9l-5.9 5.9l-5.9-5.9z"/>
<path class="d k10" d="M652.8 528.7l5.9 5.9l-5.9 5.9l-5.9-5.9z"/>
<path class="d k5" d="M931.0 806.1l5.9 5.9l-5.9 5.9l-5.9-5.9z"/>
<path class="d k5" d="M989.5 824.2l5.9 5.9l-5.9 5.9l-5.9-5.9z"/>
<path class="d k2" d="M816.4 969.1l5.9 5.9l-5.9 5.9l-5.9-5.9z"/>
<path class="d k0" d="M1207.1 1178.6l5.9 5.9l-5.9 5.9l-5.9-5.9z"/>
<path class="d k0" d="M1161.0 1113.2l5.9 5.9l-5.9 5.9l-5.9-5.9z"/>
<path class="d k10" d="M639.2 505.0l5.9 5.9l-5.9 5.9l-5.9-5.9z"/>
<path class="d k3" d="M1052.4 951.4l5.9 5.9l-5.9 5.9l-5.9-5.9z"/>
<path class="d k4" d="M1031.8 856.3l5.9 5.9l-5.9 5.9l-5.9-5.9z"/>
<path class="d k0" d="M1161.0 1135.3l5.9 5.9l-5.9 5.9l-5.9-5.9z"/>
<path class="d k8" d="M560.2 634.6l5.9 5.9l-5.9 5.9l-5.9-5.9z"/>
<path class="d k8" d="M837.3 640.8l5.9 5.9l-5.9 5.9l-5.9-5.9z"/>
<path class="d k2" d="M1105.1 982.3l5.9 5.9l-5.9 5.9l-5.9-5.9z"/>
<path class="d k1" d="M1057.9 1083.4l5.9 5.9l-5.9 5.9l-5.9-5.9z"/>
<path class="d k9" d="M683.3 587.2l5.9 5.9l-5.9 5.9l-5.9-5.9z"/>
<path class="d k1" d="M1176.9 1040.3l5.9 5.9l-5.9 5.9l-5.9-5.9z"/>
<path class="d k3" d="M1042.0 949.7l5.9 5.9l-5.9 5.9l-5.9-5.9z"/>
<path class="d k12" d="M630.8 389.2l5.9 5.9l-5.9 5.9l-5.9-5.9z"/>
<path class="d k0" d="M1126.0 1092.5l5.9 5.9l-5.9 5.9l-5.9-5.9z"/>
<path class="d k4" d="M1060.7 876.4l5.9 5.9l-5.9 5.9l-5.9-5.9z"/>
<path class="d k10" d="M661.3 518.5l5.9 5.9l-5.9 5.9l-5.9-5.9z"/>
<path class="d k10" d="M549.9 551.1l5.9 5.9l-5.9 5.9l-5.9-5.9z"/>
<path class="d k1" d="M1140.3 1084.3l5.9 5.9l-5.9 5.9l-5.9-5.9z"/>
<path class="d k7" d="M901.1 679.8l5.9 5.9l-5.9 5.9l-5.9-5.9z"/>
<path class="d k8" d="M905.6 664.6l5.9 5.9l-5.9 5.9l-5.9-5.9z"/>
<path class="d k11" d="M551.1 442.3l5.9 5.9l-5.9 5.9l-5.9-5.9z"/>
<path class="d k6" d="M1036.4 744.5l5.9 5.9l-5.9 5.9l-5.9-5.9z"/>
<path class="d k2" d="M780.5 1023.9l5.9 5.9l-5.9 5.9l-5.9-5.9z"/>
<path class="d k3" d="M974.9 926.1l5.9 5.9l-5.9 5.9l-5.9-5.9z"/>
<path class="d k9" d="M557.9 593.4l5.9 5.9l-5.9 5.9l-5.9-5.9z"/>
<path class="d k7" d="M987.3 684.1l5.9 5.9l-5.9 5.9l-5.9-5.9z"/>
<path class="d k0" d="M1233.5 1165.5l5.9 5.9l-5.9 5.9l-5.9-5.9z"/>
<path class="d k12" d="M834.5 424.1l5.9 5.9l-5.9 5.9l-5.9-5.9z"/>
<path class="d k13" d="M593.0 369.9l5.9 5.9l-5.9 5.9l-5.9-5.9z"/>
<path class="d k5" d="M846.3 828.7l5.9 5.9l-5.9 5.9l-5.9-5.9z"/>
<path class="d k10" d="M542.2 532.3l5.9 5.9l-5.9 5.9l-5.9-5.9z"/>
<path class="d k9" d="M651.7 582.7l5.9 5.9l-5.9 5.9l-5.9-5.9z"/>
<path class="d k1" d="M1123.7 1046.1l5.9 5.9l-5.9 5.9l-5.9-5.9z"/>
<path class="d k6" d="M680.5 767.1l5.9 5.9l-5.9 5.9l-5.9-5.9z"/>
<path class="d k1" d="M1168.0 1046.8l5.9 5.9l-5.9 5.9l-5.9-5.9z"/>
<path class="d k8" d="M890.9 628.4l5.9 5.9l-5.9 5.9l-5.9-5.9z"/>
<path class="d k0" d="M1258.2 1120.6l5.9 5.9l-5.9 5.9l-5.9-5.9z"/>
<path class="d k7" d="M760.1 720.2l5.9 5.9l-5.9 5.9l-5.9-5.9z"/>
<path class="d k5" d="M1002.0 827.0l5.9 5.9l-5.9 5.9l-5.9-5.9z"/>
<path class="d k7" d="M873.4 728.2l5.9 5.9l-5.9 5.9l-5.9-5.9z"/>
<path class="d k6" d="M776.5 768.8l5.9 5.9l-5.9 5.9l-5.9-5.9z"/>
<path class="d k12" d="M670.3 412.9l5.9 5.9l-5.9 5.9l-5.9-5.9z"/>
<path class="d k10" d="M745.5 532.3l5.9 5.9l-5.9 5.9l-5.9-5.9z"/>
<path class="d k0" d="M1231.2 1105.2l5.9 5.9l-5.9 5.9l-5.9-5.9z"/>
<path class="d k5" d="M1034.2 824.2l5.9 5.9l-5.9 5.9l-5.9-5.9z"/>
<path class="d k0" d="M1230.1 1129.2l5.9 5.9l-5.9 5.9l-5.9-5.9z"/>
<path class="d k5" d="M624.0 832.6l5.9 5.9l-5.9 5.9l-5.9-5.9z"/>
<path class="d k9" d="M594.1 559.5l5.9 5.9l-5.9 5.9l-5.9-5.9z"/>
<path class="d k10" d="M755.9 547.7l5.9 5.9l-5.9 5.9l-5.9-5.9z"/>
<path class="d k5" d="M972.6 828.7l5.9 5.9l-5.9 5.9l-5.9-5.9z"/>
<path class="d k16" d="M546.8 187.3l5.9 5.9l-5.9 5.9l-5.9-5.9z"/>
<path class="d k10" d="M726.5 533.5l5.9 5.9l-5.9 5.9l-5.9-5.9z"/>
<path class="d k9" d="M604.2 595.1l5.9 5.9l-5.9 5.9l-5.9-5.9z"/>
<path class="d k1" d="M985.6 1031.4l5.9 5.9l-5.9 5.9l-5.9-5.9z"/>
<path class="d k2" d="M569.0 976.1l5.9 5.9l-5.9 5.9l-5.9-5.9z"/>
<path class="d k7" d="M822.6 674.2l5.9 5.9l-5.9 5.9l-5.9-5.9z"/>
<path class="d k2" d="M363.0 970.6l5.9 5.9l-5.9 5.9l-5.9-5.9z"/>
<path class="d k2" d="M885.6 999.5l5.9 5.9l-5.9 5.9l-5.9-5.9z"/>
<path class="d k7" d="M849.7 691.4l5.9 5.9l-5.9 5.9l-5.9-5.9z"/>
<path class="d k0" d="M1033.1 1153.4l5.9 5.9l-5.9 5.9l-5.9-5.9z"/>
<path class="d k10" d="M644.3 538.6l5.9 5.9l-5.9 5.9l-5.9-5.9z"/>
<path class="d k2" d="M1190.9 977.0l5.9 5.9l-5.9 5.9l-5.9-5.9z"/>
<path class="d k0" d="M1231.5 1152.0l5.9 5.9l-5.9 5.9l-5.9-5.9z"/>
<path class="d k2" d="M1118.5 1016.9l5.9 5.9l-5.9 5.9l-5.9-5.9z"/>
<path class="d k7" d="M1010.4 715.2l5.9 5.9l-5.9 5.9l-5.9-5.9z"/>
<path class="d k2" d="M1203.6 1017.9l5.9 5.9l-5.9 5.9l-5.9-5.9z"/>
<path class="d k0" d="M1227.9 1175.4l5.9 5.9l-5.9 5.9l-5.9-5.9z"/>
<path class="d k4" d="M942.9 866.3l5.9 5.9l-5.9 5.9l-5.9-5.9z"/>
<path class="d k4" d="M900.5 897.4l5.9 5.9l-5.9 5.9l-5.9-5.9z"/>
<path class="d k7" d="M692.4 709.5l5.9 5.9l-5.9 5.9l-5.9-5.9z"/>
<path class="d k12" d="M635.3 398.8l5.9 5.9l-5.9 5.9l-5.9-5.9z"/>
<path class="d k4" d="M1142.9 855.0l5.9 5.9l-5.9 5.9l-5.9-5.9z"/>
<path class="d k1" d="M1219.6 1068.5l5.9 5.9l-5.9 5.9l-5.9-5.9z"/>
<path class="d k0" d="M1160.3 1110.0l5.9 5.9l-5.9 5.9l-5.9-5.9z"/>
<path class="d k6" d="M964.1 764.9l5.9 5.9l-5.9 5.9l-5.9-5.9z"/>
<path class="d k0" d="M1205.0 1094.6l5.9 5.9l-5.9 5.9l-5.9-5.9z"/>
<path class="d k0" d="M1208.2 1096.1l5.9 5.9l-5.9 5.9l-5.9-5.9z"/>
<path class="d k2" d="M1179.7 992.7l5.9 5.9l-5.9 5.9l-5.9-5.9z"/>
<path class="d k6" d="M826.0 748.5l5.9 5.9l-5.9 5.9l-5.9-5.9z"/>
<path class="d k10" d="M517.2 536.6l5.9 5.9l-5.9 5.9l-5.9-5.9z"/>
<path class="d k5" d="M921.4 846.0l5.9 5.9l-5.9 5.9l-5.9-5.9z"/>
<path class="d k3" d="M471.5 932.6l5.9 5.9l-5.9 5.9l-5.9-5.9z"/>
<path class="d k0" d="M1199.4 1192.6l5.9 5.9l-5.9 5.9l-5.9-5.9z"/>
<path class="d k11" d="M618.3 471.6l5.9 5.9l-5.9 5.9l-5.9-5.9z"/>
<path class="d k6" d="M794.0 731.5l5.9 5.9l-5.9 5.9l-5.9-5.9z"/>
<path class="d k11" d="M880.8 437.9l5.9 5.9l-5.9 5.9l-5.9-5.9z"/>
<path class="d k8" d="M770.0 649.3l5.9 5.9l-5.9 5.9l-5.9-5.9z"/>
<path class="d k8" d="M827.1 668.0l5.9 5.9l-5.9 5.9l-5.9-5.9z"/>
<path class="d k2" d="M1049.9 969.1l5.9 5.9l-5.9 5.9l-5.9-5.9z"/>
<path class="d k3" d="M1214.1 935.8l5.9 5.9l-5.9 5.9l-5.9-5.9z"/>
<path class="d k1" d="M1205.2 1082.9l5.9 5.9l-5.9 5.9l-5.9-5.9z"/>
<path class="d k11" d="M728.5 453.6l5.9 5.9l-5.9 5.9l-5.9-5.9z"/>
<path class="d k0" d="M1189.9 1104.9l5.9 5.9l-5.9 5.9l-5.9-5.9z"/>
<path class="d k2" d="M1114.3 1008.5l5.9 5.9l-5.9 5.9l-5.9-5.9z"/>
<path class="d k1" d="M1120.0 1030.6l5.9 5.9l-5.9 5.9l-5.9-5.9z"/>
<path class="d k6" d="M1023.4 773.3l5.9 5.9l-5.9 5.9l-5.9-5.9z"/>
<path class="d k2" d="M1101.7 1013.5l5.9 5.9l-5.9 5.9l-5.9-5.9z"/>
<path class="d k15" d="M542.0 212.9l5.9 5.9l-5.9 5.9l-5.9-5.9z"/>
<path class="d k2" d="M1285.4 1002.7l5.9 5.9l-5.9 5.9l-5.9-5.9z"/>
<path class="d k8" d="M661.3 653.8l5.9 5.9l-5.9 5.9l-5.9-5.9z"/>
<path class="d k4" d="M1074.5 879.0l5.9 5.9l-5.9 5.9l-5.9-5.9z"/>
<path class="d k6" d="M918.6 780.1l5.9 5.9l-5.9 5.9l-5.9-5.9z"/>
<path class="d k2" d="M1225.0 984.0l5.9 5.9l-5.9 5.9l-5.9-5.9z"/>
<path class="d k13" d="M518.5 329.9l5.9 5.9l-5.9 5.9l-5.9-5.9z"/>
<path class="d k6" d="M668.1 775.6l5.9 5.9l-5.9 5.9l-5.9-5.9z"/>
<path class="d k10" d="M632.5 532.1l5.9 5.9l-5.9 5.9l-5.9-5.9z"/>
<path class="d k13" d="M559.8 329.6l5.9 5.9l-5.9 5.9l-5.9-5.9z"/>
<path class="d k2" d="M1050.9 983.9l5.9 5.9l-5.9 5.9l-5.9-5.9z"/>
<path class="d k7" d="M934.4 697.7l5.9 5.9l-5.9 5.9l-5.9-5.9z"/>
<path class="d k12" d="M549.0 432.5l5.9 5.9l-5.9 5.9l-5.9-5.9z"/>
<path class="d k10" d="M579.4 527.6l5.9 5.9l-5.9 5.9l-5.9-5.9z"/>
<path class="d k11" d="M650.5 471.1l5.9 5.9l-5.9 5.9l-5.9-5.9z"/>
<path class="d k8" d="M679.9 653.8l5.9 5.9l-5.9 5.9l-5.9-5.9z"/>
<path class="d k5" d="M855.9 795.4l5.9 5.9l-5.9 5.9l-5.9-5.9z"/>
<path class="d k0" d="M1148.9 1116.7l5.9 5.9l-5.9 5.9l-5.9-5.9z"/>
<path class="d k5" d="M1006.8 844.0l5.9 5.9l-5.9 5.9l-5.9-5.9z"/>
<path class="d k5" d="M1088.4 802.7l5.9 5.9l-5.9 5.9l-5.9-5.9z"/>
<path class="d k3" d="M1021.4 942.1l5.9 5.9l-5.9 5.9l-5.9-5.9z"/>
<path class="d k5" d="M816.9 832.1l5.9 5.9l-5.9 5.9l-5.9-5.9z"/>
<path class="d k3" d="M959.1 939.6l5.9 5.9l-5.9 5.9l-5.9-5.9z"/>
<path class="d k7" d="M978.2 685.2l5.9 5.9l-5.9 5.9l-5.9-5.9z"/>
<path class="d k4" d="M536.0 859.3l5.9 5.9l-5.9 5.9l-5.9-5.9z"/>
<path class="d k10" d="M538.5 551.1l5.9 5.9l-5.9 5.9l-5.9-5.9z"/>
<path class="d k3" d="M1047.4 927.1l5.9 5.9l-5.9 5.9l-5.9-5.9z"/>
<path class="d k4" d="M1013.4 891.9l5.9 5.9l-5.9 5.9l-5.9-5.9z"/>
<path class="d k0" d="M1146.9 1089.9l5.9 5.9l-5.9 5.9l-5.9-5.9z"/>
<path class="d k7" d="M576.0 714.3l5.9 5.9l-5.9 5.9l-5.9-5.9z"/>
<path class="d k0" d="M1292.6 1132.0l5.9 5.9l-5.9 5.9l-5.9-5.9z"/>
<path class="d k0" d="M968.8 1155.6l5.9 5.9l-5.9 5.9l-5.9-5.9z"/>
<path class="d k10" d="M454.5 551.1l5.9 5.9l-5.9 5.9l-5.9-5.9z"/>
<path class="d k0" d="M1200.7 1149.9l5.9 5.9l-5.9 5.9l-5.9-5.9z"/>
<path class="d k0" d="M1218.9 1170.1l5.9 5.9l-5.9 5.9l-5.9-5.9z"/>
<path class="d k4" d="M546.0 880.6l5.9 5.9l-5.9 5.9l-5.9-5.9z"/>
<path class="d k2" d="M1132.0 1025.2l5.9 5.9l-5.9 5.9l-5.9-5.9z"/>
<path class="d k4" d="M980.5 871.7l5.9 5.9l-5.9 5.9l-5.9-5.9z"/>
<path class="d k15" d="M509.2 244.6l5.9 5.9l-5.9 5.9l-5.9-5.9z"/>
<path class="d k13" d="M412.8 370.6l5.9 5.9l-5.9 5.9l-5.9-5.9z"/>
<path class="d k5" d="M821.5 827.6l5.9 5.9l-5.9 5.9l-5.9-5.9z"/>
<path class="d k12" d="M549.7 407.5l5.9 5.9l-5.9 5.9l-5.9-5.9z"/>
<path class="d k2" d="M1028.0 1000.6l5.9 5.9l-5.9 5.9l-5.9-5.9z"/>
<path class="d k1" d="M1130.2 1052.1l5.9 5.9l-5.9 5.9l-5.9-5.9z"/>
<path class="d k3" d="M988.1 936.9l5.9 5.9l-5.9 5.9l-5.9-5.9z"/>
<path class="d k13" d="M583.8 318.6l5.9 5.9l-5.9 5.9l-5.9-5.9z"/>
<path class="d k3" d="M761.0 936.3l5.9 5.9l-5.9 5.9l-5.9-5.9z"/>
<path class="d k9" d="M624.0 599.0l5.9 5.9l-5.9 5.9l-5.9-5.9z"/>
<path class="d k5" d="M1037.0 819.1l5.9 5.9l-5.9 5.9l-5.9-5.9z"/>
<path class="d k4" d="M997.6 884.3l5.9 5.9l-5.9 5.9l-5.9-5.9z"/>
<path class="d k4" d="M999.9 875.0l5.9 5.9l-5.9 5.9l-5.9-5.9z"/>
<path class="d k13" d="M669.8 326.6l5.9 5.9l-5.9 5.9l-5.9-5.9z"/>
<path class="d k15" d="M571.0 245.9l5.9 5.9l-5.9 5.9l-5.9-5.9z"/>
<path class="d k7" d="M574.9 671.9l5.9 5.9l-5.9 5.9l-5.9-5.9z"/>
<path class="d k3" d="M1026.8 961.1l5.9 5.9l-5.9 5.9l-5.9-5.9z"/>
<path class="d k3" d="M1086.4 932.1l5.9 5.9l-5.9 5.9l-5.9-5.9z"/>
<path class="d k3" d="M1042.7 940.1l5.9 5.9l-5.9 5.9l-5.9-5.9z"/>
<path class="d k0" d="M1189.4 1099.0l5.9 5.9l-5.9 5.9l-5.9-5.9z"/>
<path class="d k11" d="M497.8 436.1l5.9 5.9l-5.9 5.9l-5.9-5.9z"/>
<path class="d k3" d="M1046.7 928.7l5.9 5.9l-5.9 5.9l-5.9-5.9z"/>
<path class="d k6" d="M721.7 763.2l5.9 5.9l-5.9 5.9l-5.9-5.9z"/>
<path class="d k0" d="M1223.5 1119.6l5.9 5.9l-5.9 5.9l-5.9-5.9z"/>
<path class="d k0" d="M1173.9 1121.7l5.9 5.9l-5.9 5.9l-5.9-5.9z"/>
<path class="d k7" d="M937.2 691.4l5.9 5.9l-5.9 5.9l-5.9-5.9z"/>
<path class="d k6" d="M885.3 750.7l5.9 5.9l-5.9 5.9l-5.9-5.9z"/>
<path class="d k7" d="M770.3 724.2l5.9 5.9l-5.9 5.9l-5.9-5.9z"/>
<path class="d k2" d="M992.4 998.9l5.9 5.9l-5.9 5.9l-5.9-5.9z"/>
<path class="d k12" d="M558.5 404.4l5.9 5.9l-5.9 5.9l-5.9-5.9z"/>
<path class="d k1" d="M1122.0 1039.7l5.9 5.9l-5.9 5.9l-5.9-5.9z"/>
<path class="d k0" d="M1164.7 1175.4l5.9 5.9l-5.9 5.9l-5.9-5.9z"/>
<path class="d k15" d="M625.5 244.1l5.9 5.9l-5.9 5.9l-5.9-5.9z"/>
<path class="d k7" d="M727.9 689.2l5.9 5.9l-5.9 5.9l-5.9-5.9z"/>
<path class="d k7" d="M935.5 704.4l5.9 5.9l-5.9 5.9l-5.9-5.9z"/>
<path class="d k8" d="M855.9 666.3l5.9 5.9l-5.9 5.9l-5.9-5.9z"/>
<path class="d k7" d="M1002.5 685.8l5.9 5.9l-5.9 5.9l-5.9-5.9z"/>
<path class="d k8" d="M656.2 650.4l5.9 5.9l-5.9 5.9l-5.9-5.9z"/>
<path class="d k9" d="M620.0 570.2l5.9 5.9l-5.9 5.9l-5.9-5.9z"/>
<path class="d k0" d="M1166.6 1101.2l5.9 5.9l-5.9 5.9l-5.9-5.9z"/>
<path class="d k5" d="M1051.7 821.3l5.9 5.9l-5.9 5.9l-5.9-5.9z"/>
<path class="d k9" d="M658.4 586.1l5.9 5.9l-5.9 5.9l-5.9-5.9z"/>
<path class="d k3" d="M1256.1 959.7l5.9 5.9l-5.9 5.9l-5.9-5.9z"/>
<path class="d k0" d="M1225.2 1138.8l5.9 5.9l-5.9 5.9l-5.9-5.9z"/>
<path class="d k0" d="M1242.1 1177.6l5.9 5.9l-5.9 5.9l-5.9-5.9z"/>
<path class="d k1" d="M1212.2 1079.1l5.9 5.9l-5.9 5.9l-5.9-5.9z"/>
<path class="d k0" d="M1177.0 1108.1l5.9 5.9l-5.9 5.9l-5.9-5.9z"/>
<path class="d k3" d="M1098.8 958.2l5.9 5.9l-5.9 5.9l-5.9-5.9z"/>
<path class="d k8" d="M958.0 615.9l5.9 5.9l-5.9 5.9l-5.9-5.9z"/>
<path class="d k10" d="M481.5 514.9l5.9 5.9l-5.9 5.9l-5.9-5.9z"/>
<path class="d k7" d="M837.3 695.4l5.9 5.9l-5.9 5.9l-5.9-5.9z"/>
<path class="d k0" d="M1175.0 1130.5l5.9 5.9l-5.9 5.9l-5.9-5.9z"/>
<path class="d k6" d="M935.0 771.6l5.9 5.9l-5.9 5.9l-5.9-5.9z"/>
<path class="d k4" d="M1092.7 891.4l5.9 5.9l-5.9 5.9l-5.9-5.9z"/>
<path class="d k6" d="M649.8 774.3l5.9 5.9l-5.9 5.9l-5.9-5.9z"/>
<path class="d k3" d="M1193.8 949.3l5.9 5.9l-5.9 5.9l-5.9-5.9z"/>
<path class="d k4" d="M1135.0 907.5l5.9 5.9l-5.9 5.9l-5.9-5.9z"/>
<path class="d k9" d="M832.2 568.6l5.9 5.9l-5.9 5.9l-5.9-5.9z"/>
<path class="d k4" d="M923.1 881.5l5.9 5.9l-5.9 5.9l-5.9-5.9z"/>
<path class="d k0" d="M1054.6 1089.6l5.9 5.9l-5.9 5.9l-5.9-5.9z"/>
<path class="d k0" d="M1175.5 1088.4l5.9 5.9l-5.9 5.9l-5.9-5.9z"/>
<path class="d k3" d="M1044.3 942.4l5.9 5.9l-5.9 5.9l-5.9-5.9z"/>
<path class="d k4" d="M593.0 869.3l5.9 5.9l-5.9 5.9l-5.9-5.9z"/>
<path class="d k8" d="M552.3 631.2l5.9 5.9l-5.9 5.9l-5.9-5.9z"/>
<path class="d k6" d="M871.2 742.8l5.9 5.9l-5.9 5.9l-5.9-5.9z"/>
<path class="d k4" d="M1180.2 899.0l5.9 5.9l-5.9 5.9l-5.9-5.9z"/>
<path class="d k3" d="M1061.0 950.4l5.9 5.9l-5.9 5.9l-5.9-5.9z"/>
<path class="d k0" d="M1232.4 1172.8l5.9 5.9l-5.9 5.9l-5.9-5.9z"/>
<path class="d k11" d="M527.2 441.1l5.9 5.9l-5.9 5.9l-5.9-5.9z"/>
<path class="d k0" d="M1196.2 1144.1l5.9 5.9l-5.9 5.9l-5.9-5.9z"/>
<path class="d k4" d="M1029.7 906.0l5.9 5.9l-5.9 5.9l-5.9-5.9z"/>
<path class="d k2" d="M642.2 972.6l5.9 5.9l-5.9 5.9l-5.9-5.9z"/>
<path class="d k2" d="M622.8 1015.9l5.9 5.9l-5.9 5.9l-5.9-5.9z"/>
<path class="d k1" d="M1076.0 1079.4l5.9 5.9l-5.9 5.9l-5.9-5.9z"/>
<path class="d k3" d="M1080.6 910.3l5.9 5.9l-5.9 5.9l-5.9-5.9z"/>
<path class="d k7" d="M944.6 701.0l5.9 5.9l-5.9 5.9l-5.9-5.9z"/>
<path class="d k6" d="M958.5 788.0l5.9 5.9l-5.9 5.9l-5.9-5.9z"/>
<path class="d k1" d="M987.9 1059.7l5.9 5.9l-5.9 5.9l-5.9-5.9z"/>
<path class="d k3" d="M992.7 916.8l5.9 5.9l-5.9 5.9l-5.9-5.9z"/>
<path class="d k4" d="M1187.5 895.1l5.9 5.9l-5.9 5.9l-5.9-5.9z"/>
<path class="d k11" d="M620.6 492.0l5.9 5.9l-5.9 5.9l-5.9-5.9z"/>
<path class="d k0" d="M1178.6 1112.8l5.9 5.9l-5.9 5.9l-5.9-5.9z"/>
<path class="d k11" d="M640.4 485.8l5.9 5.9l-5.9 5.9l-5.9-5.9z"/>
<path class="d k8" d="M607.0 661.7l5.9 5.9l-5.9 5.9l-5.9-5.9z"/>
<path class="d k8" d="M727.1 642.5l5.9 5.9l-5.9 5.9l-5.9-5.9z"/>
<path class="d k3" d="M335.5 965.6l5.9 5.9l-5.9 5.9l-5.9-5.9z"/>
<path class="d k12" d="M595.7 427.6l5.9 5.9l-5.9 5.9l-5.9-5.9z"/>
<path class="d k0" d="M1250.1 1104.7l5.9 5.9l-5.9 5.9l-5.9-5.9z"/>
<path class="d k1" d="M1039.3 1049.5l5.9 5.9l-5.9 5.9l-5.9-5.9z"/>
<path class="d k0" d="M1158.8 1128.0l5.9 5.9l-5.9 5.9l-5.9-5.9z"/>
<path class="d k5" d="M780.5 814.0l5.9 5.9l-5.9 5.9l-5.9-5.9z"/>
<path class="d k8" d="M557.3 642.5l5.9 5.9l-5.9 5.9l-5.9-5.9z"/>
<path class="d k0" d="M1252.7 1120.9l5.9 5.9l-5.9 5.9l-5.9-5.9z"/>
<path class="d k0" d="M1252.2 1167.2l5.9 5.9l-5.9 5.9l-5.9-5.9z"/>
<path class="d k1" d="M1131.6 1057.5l5.9 5.9l-5.9 5.9l-5.9-5.9z"/>
<path class="d k2" d="M1243.7 989.7l5.9 5.9l-5.9 5.9l-5.9-5.9z"/>
<path class="d k2" d="M1095.1 1026.5l5.9 5.9l-5.9 5.9l-5.9-5.9z"/>
<path class="d k2" d="M1129.4 988.5l5.9 5.9l-5.9 5.9l-5.9-5.9z"/>
<path class="d k4" d="M1016.4 850.2l5.9 5.9l-5.9 5.9l-5.9-5.9z"/>
<path class="d k7" d="M875.1 674.2l5.9 5.9l-5.9 5.9l-5.9-5.9z"/>
<path class="d k13" d="M620.2 317.1l5.9 5.9l-5.9 5.9l-5.9-5.9z"/>
<path class="d k0" d="M1185.0 1179.8l5.9 5.9l-5.9 5.9l-5.9-5.9z"/>
<path class="d k10" d="M608.7 512.3l5.9 5.9l-5.9 5.9l-5.9-5.9z"/>
<path class="d k0" d="M1211.5 1150.7l5.9 5.9l-5.9 5.9l-5.9-5.9z"/>
<path class="d k7" d="M784.4 688.6l5.9 5.9l-5.9 5.9l-5.9-5.9z"/>
<path class="d k13" d="M577.6 365.1l5.9 5.9l-5.9 5.9l-5.9-5.9z"/>
<path class="d k5" d="M660.2 815.7l5.9 5.9l-5.9 5.9l-5.9-5.9z"/>
<path class="d k7" d="M443.5 677.3l5.9 5.9l-5.9 5.9l-5.9-5.9z"/>
<path class="d k1" d="M1219.3 1072.4l5.9 5.9l-5.9 5.9l-5.9-5.9z"/>
<path class="d k1" d="M1133.1 1054.9l5.9 5.9l-5.9 5.9l-5.9-5.9z"/>
<path class="d k5" d="M1129.2 829.9l5.9 5.9l-5.9 5.9l-5.9-5.9z"/>
<path class="d k7" d="M963.0 686.4l5.9 5.9l-5.9 5.9l-5.9-5.9z"/>
<path class="d k9" d="M883.6 592.3l5.9 5.9l-5.9 5.9l-5.9-5.9z"/>
<path class="d k1" d="M1161.7 1053.8l5.9 5.9l-5.9 5.9l-5.9-5.9z"/>
<path class="d k9" d="M615.5 562.9l5.9 5.9l-5.9 5.9l-5.9-5.9z"/>
<path class="d k6" d="M1028.5 766.0l5.9 5.9l-5.9 5.9l-5.9-5.9z"/>
<path class="d k15" d="M620.2 214.1l5.9 5.9l-5.9 5.9l-5.9-5.9z"/>
<path class="d k12" d="M776.0 428.6l5.9 5.9l-5.9 5.9l-5.9-5.9z"/>
<path class="d k9" d="M732.2 604.7l5.9 5.9l-5.9 5.9l-5.9-5.9z"/>
<path class="d k7" d="M833.9 724.2l5.9 5.9l-5.9 5.9l-5.9-5.9z"/>
<path class="d k1" d="M1170.6 1070.9l5.9 5.9l-5.9 5.9l-5.9-5.9z"/>
<path class="d k9" d="M670.9 575.3l5.9 5.9l-5.9 5.9l-5.9-5.9z"/>
<path class="d k6" d="M818.1 742.8l5.9 5.9l-5.9 5.9l-5.9-5.9z"/>
<path class="d k14" d="M589.8 287.3l5.9 5.9l-5.9 5.9l-5.9-5.9z"/>
<path class="d k1" d="M1199.8 1050.0l5.9 5.9l-5.9 5.9l-5.9-5.9z"/>
<path class="d k6" d="M756.2 774.5l5.9 5.9l-5.9 5.9l-5.9-5.9z"/>
<path class="d k4" d="M644.8 856.9l5.9 5.9l-5.9 5.9l-5.9-5.9z"/>
<path class="d k3" d="M850.8 968.5l5.9 5.9l-5.9 5.9l-5.9-5.9z"/>
<path class="d k8" d="M782.5 619.4l5.9 5.9l-5.9 5.9l-5.9-5.9z"/>
<path class="d k1" d="M1143.5 1032.3l5.9 5.9l-5.9 5.9l-5.9-5.9z"/>
<path class="d k12" d="M743.5 415.6l5.9 5.9l-5.9 5.9l-5.9-5.9z"/>
<path class="d k9" d="M460.2 594.3l5.9 5.9l-5.9 5.9l-5.9-5.9z"/>
<path class="d k0" d="M1204.1 1088.3l5.9 5.9l-5.9 5.9l-5.9-5.9z"/>
<path class="d k2" d="M1020.1 995.5l5.9 5.9l-5.9 5.9l-5.9-5.9z"/>
<path class="d k6" d="M915.2 764.9l5.9 5.9l-5.9 5.9l-5.9-5.9z"/>
<path class="d k11" d="M626.8 471.6l5.9 5.9l-5.9 5.9l-5.9-5.9z"/>
<path class="d k2" d="M1080.7 1021.4l5.9 5.9l-5.9 5.9l-5.9-5.9z"/>
<path class="d k2" d="M1092.4 1011.2l5.9 5.9l-5.9 5.9l-5.9-5.9z"/>
<path class="d k5" d="M952.3 819.6l5.9 5.9l-5.9 5.9l-5.9-5.9z"/>
<path class="d k10" d="M655.0 502.7l5.9 5.9l-5.9 5.9l-5.9-5.9z"/>
<path class="d k2" d="M1135.1 1018.0l5.9 5.9l-5.9 5.9l-5.9-5.9z"/>
<path class="d k7" d="M985.6 712.9l5.9 5.9l-5.9 5.9l-5.9-5.9z"/>
<path class="d k8" d="M634.7 658.4l5.9 5.9l-5.9 5.9l-5.9-5.9z"/>
<path class="d k7" d="M702.5 701.0l5.9 5.9l-5.9 5.9l-5.9-5.9z"/>
<path class="d k10" d="M511.0 520.6l5.9 5.9l-5.9 5.9l-5.9-5.9z"/>
<path class="d k1" d="M1163.7 1037.4l5.9 5.9l-5.9 5.9l-5.9-5.9z"/>
<path class="d k0" d="M902.5 1145.6l5.9 5.9l-5.9 5.9l-5.9-5.9z"/>
<path class="d k8" d="M646.0 666.3l5.9 5.9l-5.9 5.9l-5.9-5.9z"/>
<path class="d k3" d="M1065.7 943.3l5.9 5.9l-5.9 5.9l-5.9-5.9z"/>
<path class="d k3" d="M1080.8 935.4l5.9 5.9l-5.9 5.9l-5.9-5.9z"/>
<path class="d k7" d="M698.0 678.7l5.9 5.9l-5.9 5.9l-5.9-5.9z"/>
<path class="d k3" d="M1067.9 956.2l5.9 5.9l-5.9 5.9l-5.9-5.9z"/>
<path class="d k0" d="M1237.5 1097.1l5.9 5.9l-5.9 5.9l-5.9-5.9z"/>
<path class="d k11" d="M603.7 440.0l5.9 5.9l-5.9 5.9l-5.9-5.9z"/>
<path class="d k15" d="M513.5 234.6l5.9 5.9l-5.9 5.9l-5.9-5.9z"/>
<path class="d k2" d="M1187.5 992.9l5.9 5.9l-5.9 5.9l-5.9-5.9z"/>
<path class="d k4" d="M634.8 903.1l5.9 5.9l-5.9 5.9l-5.9-5.9z"/>
<path class="d k2" d="M1068.2 978.5l5.9 5.9l-5.9 5.9l-5.9-5.9z"/>
<path class="d k12" d="M355.2 391.6l5.9 5.9l-5.9 5.9l-5.9-5.9z"/>
<path class="d k10" d="M727.2 503.6l5.9 5.9l-5.9 5.9l-5.9-5.9z"/>
<path class="d k5" d="M787.0 839.8l5.9 5.9l-5.9 5.9l-5.9-5.9z"/>
<path class="d k2" d="M1290.5 982.3l5.9 5.9l-5.9 5.9l-5.9-5.9z"/>
<path class="d k5" d="M788.4 827.6l5.9 5.9l-5.9 5.9l-5.9-5.9z"/>
<path class="d k0" d="M1248.4 1130.5l5.9 5.9l-5.9 5.9l-5.9-5.9z"/>
<path class="d k3" d="M1042.7 955.8l5.9 5.9l-5.9 5.9l-5.9-5.9z"/>
<path class="d k0" d="M618.5 1142.1l5.9 5.9l-5.9 5.9l-5.9-5.9z"/>
<path class="d k5" d="M873.4 836.9l5.9 5.9l-5.9 5.9l-5.9-5.9z"/>
<path class="d k11" d="M692.9 456.4l5.9 5.9l-5.9 5.9l-5.9-5.9z"/>
<path class="d k3" d="M1014.8 945.8l5.9 5.9l-5.9 5.9l-5.9-5.9z"/>
<path class="d k5" d="M927.6 792.0l5.9 5.9l-5.9 5.9l-5.9-5.9z"/>
<path class="d k0" d="M1246.3 1105.4l5.9 5.9l-5.9 5.9l-5.9-5.9z"/>
<path class="d k8" d="M772.3 634.6l5.9 5.9l-5.9 5.9l-5.9-5.9z"/>
<path class="d k4" d="M1024.3 888.5l5.9 5.9l-5.9 5.9l-5.9-5.9z"/>
<path class="d k13" d="M649.8 324.1l5.9 5.9l-5.9 5.9l-5.9-5.9z"/>
<path class="d k9" d="M740.1 558.4l5.9 5.9l-5.9 5.9l-5.9-5.9z"/>
<path class="d k1" d="M1199.0 1064.1l5.9 5.9l-5.9 5.9l-5.9-5.9z"/>
<path class="d k2" d="M1262.3 1015.7l5.9 5.9l-5.9 5.9l-5.9-5.9z"/>
<path class="d k7" d="M753.4 715.2l5.9 5.9l-5.9 5.9l-5.9-5.9z"/>
<path class="d k8" d="M742.4 616.0l5.9 5.9l-5.9 5.9l-5.9-5.9z"/>
<path class="d k2" d="M1161.0 1011.8l5.9 5.9l-5.9 5.9l-5.9-5.9z"/>
<path class="d k11" d="M609.3 477.9l5.9 5.9l-5.9 5.9l-5.9-5.9z"/>
<path class="d k4" d="M1147.4 855.0l5.9 5.9l-5.9 5.9l-5.9-5.9z"/>
<path class="d k0" d="M1132.6 1108.1l5.9 5.9l-5.9 5.9l-5.9-5.9z"/>
<path class="d k0" d="M1234.1 1177.3l5.9 5.9l-5.9 5.9l-5.9-5.9z"/>
<path class="d k0" d="M697.2 1138.3l5.9 5.9l-5.9 5.9l-5.9-5.9z"/>
<path class="d k0" d="M1197.7 1134.6l5.9 5.9l-5.9 5.9l-5.9-5.9z"/>
<path class="d k1" d="M1177.0 1081.5l5.9 5.9l-5.9 5.9l-5.9-5.9z"/>
<path class="d k10" d="M738.5 518.6l5.9 5.9l-5.9 5.9l-5.9-5.9z"/>
<path class="d k5" d="M1129.9 834.1l5.9 5.9l-5.9 5.9l-5.9-5.9z"/>
<path class="d k7" d="M629.0 700.1l5.9 5.9l-5.9 5.9l-5.9-5.9z"/>
<path class="d k0" d="M1216.8 1146.1l5.9 5.9l-5.9 5.9l-5.9-5.9z"/>
<path class="d k2" d="M1178.5 979.8l5.9 5.9l-5.9 5.9l-5.9-5.9z"/>
<path class="d k4" d="M1031.0 859.0l5.9 5.9l-5.9 5.9l-5.9-5.9z"/>
<path class="d k12" d="M555.4 383.4l5.9 5.9l-5.9 5.9l-5.9-5.9z"/>
<path class="d k14" d="M417.5 266.6l5.9 5.9l-5.9 5.9l-5.9-5.9z"/>
<path class="d k0" d="M1185.9 1121.6l5.9 5.9l-5.9 5.9l-5.9-5.9z"/>
<path class="d k4" d="M959.3 871.0l5.9 5.9l-5.9 5.9l-5.9-5.9z"/>
<path class="d k3" d="M1167.8 943.1l5.9 5.9l-5.9 5.9l-5.9-5.9z"/>
<path class="d k3" d="M1033.8 945.8l5.9 5.9l-5.9 5.9l-5.9-5.9z"/>
<path class="d k11" d="M615.5 450.7l5.9 5.9l-5.9 5.9l-5.9-5.9z"/>
<path class="d k0" d="M1151.8 1096.0l5.9 5.9l-5.9 5.9l-5.9-5.9z"/>
<path class="d k7" d="M465.2 684.3l5.9 5.9l-5.9 5.9l-5.9-5.9z"/>
<path class="d k3" d="M1038.6 932.0l5.9 5.9l-5.9 5.9l-5.9-5.9z"/>
<path class="d k8" d="M605.3 655.0l5.9 5.9l-5.9 5.9l-5.9-5.9z"/>
<path class="d k0" d="M1177.9 1095.9l5.9 5.9l-5.9 5.9l-5.9-5.9z"/>
<path class="d k9" d="M678.8 598.5l5.9 5.9l-5.9 5.9l-5.9-5.9z"/>
<path class="d k2" d="M1149.6 1009.2l5.9 5.9l-5.9 5.9l-5.9-5.9z"/>
<path class="d k2" d="M1180.6 1026.4l5.9 5.9l-5.9 5.9l-5.9-5.9z"/>
<path class="d k2" d="M1198.5 992.5l5.9 5.9l-5.9 5.9l-5.9-5.9z"/>
<path class="d k9" d="M758.2 608.7l5.9 5.9l-5.9 5.9l-5.9-5.9z"/>
<path class="d k9" d="M572.0 560.1l5.9 5.9l-5.9 5.9l-5.9-5.9z"/>
<path class="d k6" d="M774.8 748.5l5.9 5.9l-5.9 5.9l-5.9-5.9z"/>
<path class="d k1" d="M1148.7 1036.2l5.9 5.9l-5.9 5.9l-5.9-5.9z"/>
<path class="d k4" d="M1102.3 854.4l5.9 5.9l-5.9 5.9l-5.9-5.9z"/>
<path class="d k6" d="M996.3 735.5l5.9 5.9l-5.9 5.9l-5.9-5.9z"/>
<path class="d k0" d="M1235.5 1157.7l5.9 5.9l-5.9 5.9l-5.9-5.9z"/>
<path class="d k5" d="M1215.2 845.4l5.9 5.9l-5.9 5.9l-5.9-5.9z"/>
<path class="d k9" d="M661.8 576.5l5.9 5.9l-5.9 5.9l-5.9-5.9z"/>
<path class="d k4" d="M934.4 894.5l5.9 5.9l-5.9 5.9l-5.9-5.9z"/>
<path class="d k0" d="M1225.2 1091.5l5.9 5.9l-5.9 5.9l-5.9-5.9z"/>
<path class="d k2" d="M999.7 973.5l5.9 5.9l-5.9 5.9l-5.9-5.9z"/>
<path class="d k13" d="M554.8 336.6l5.9 5.9l-5.9 5.9l-5.9-5.9z"/>
<path class="d k9" d="M849.1 587.2l5.9 5.9l-5.9 5.9l-5.9-5.9z"/>
<path class="d k0" d="M1196.7 1098.3l5.9 5.9l-5.9 5.9l-5.9-5.9z"/>
<path class="d k0" d="M1243.4 1106.6l5.9 5.9l-5.9 5.9l-5.9-5.9z"/>
<path class="d k4" d="M1020.3 907.3l5.9 5.9l-5.9 5.9l-5.9-5.9z"/>
<path class="d k15" d="M715.5 252.9l5.9 5.9l-5.9 5.9l-5.9-5.9z"/>
<path class="d k3" d="M1188.1 959.5l5.9 5.9l-5.9 5.9l-5.9-5.9z"/>
<path class="d k4" d="M1074.0 870.4l5.9 5.9l-5.9 5.9l-5.9-5.9z"/>
<path class="d k1" d="M1186.1 1076.4l5.9 5.9l-5.9 5.9l-5.9-5.9z"/>
<path class="d k0" d="M1172.5 1136.3l5.9 5.9l-5.9 5.9l-5.9-5.9z"/>
<path class="d k8" d="M758.7 617.1l5.9 5.9l-5.9 5.9l-5.9-5.9z"/>
<path class="d k9" d="M733.3 578.2l5.9 5.9l-5.9 5.9l-5.9-5.9z"/>
<path class="d k4" d="M634.0 886.9l5.9 5.9l-5.9 5.9l-5.9-5.9z"/>
<path class="d k6" d="M987.3 731.5l5.9 5.9l-5.9 5.9l-5.9-5.9z"/>
<path class="d k7" d="M596.5 717.6l5.9 5.9l-5.9 5.9l-5.9-5.9z"/>
<path class="d k8" d="M867.8 621.1l5.9 5.9l-5.9 5.9l-5.9-5.9z"/>
<path class="d k6" d="M951.7 783.5l5.9 5.9l-5.9 5.9l-5.9-5.9z"/>
<path class="d k9" d="M691.2 592.8l5.9 5.9l-5.9 5.9l-5.9-5.9z"/>
<path class="d k1" d="M1152.8 1051.2l5.9 5.9l-5.9 5.9l-5.9-5.9z"/>
<path class="d k0" d="M1240.9 1118.2l5.9 5.9l-5.9 5.9l-5.9-5.9z"/>
<path class="d k0" d="M1133.2 1110.3l5.9 5.9l-5.9 5.9l-5.9-5.9z"/>
<path class="d k4" d="M999.5 872.6l5.9 5.9l-5.9 5.9l-5.9-5.9z"/>
<path class="d k0" d="M1145.7 1089.4l5.9 5.9l-5.9 5.9l-5.9-5.9z"/>
<path class="d k2" d="M1164.3 987.4l5.9 5.9l-5.9 5.9l-5.9-5.9z"/>
<path class="d k1" d="M1135.9 1081.1l5.9 5.9l-5.9 5.9l-5.9-5.9z"/>
<path class="d k17" d="M686.8 58.1l5.9 5.9l-5.9 5.9l-5.9-5.9z"/>
<path class="d k2" d="M1147.4 1017.1l5.9 5.9l-5.9 5.9l-5.9-5.9z"/>
<path class="d k2" d="M1059.4 1013.0l5.9 5.9l-5.9 5.9l-5.9-5.9z"/>
<path class="d k3" d="M270.2 950.6l5.9 5.9l-5.9 5.9l-5.9-5.9z"/>
<path class="d k1" d="M1096.4 1037.6l5.9 5.9l-5.9 5.9l-5.9-5.9z"/>
<path class="d k5" d="M988.8 846.2l5.9 5.9l-5.9 5.9l-5.9-5.9z"/>
<path class="d k2" d="M1140.2 993.6l5.9 5.9l-5.9 5.9l-5.9-5.9z"/>
<path class="d k0" d="M1158.6 1120.3l5.9 5.9l-5.9 5.9l-5.9-5.9z"/>
<path class="d k0" d="M1268.7 1157.8l5.9 5.9l-5.9 5.9l-5.9-5.9z"/>
<path class="d k5" d="M1055.4 849.3l5.9 5.9l-5.9 5.9l-5.9-5.9z"/>
<path class="d k0" d="M1246.3 1173.8l5.9 5.9l-5.9 5.9l-5.9-5.9z"/>
<path class="d k6" d="M825.4 787.5l5.9 5.9l-5.9 5.9l-5.9-5.9z"/>
<path class="d k0" d="M1218.3 1123.6l5.9 5.9l-5.9 5.9l-5.9-5.9z"/>
<path class="d k3" d="M1082.4 944.2l5.9 5.9l-5.9 5.9l-5.9-5.9z"/>
<path class="d k12" d="M699.1 392.6l5.9 5.9l-5.9 5.9l-5.9-5.9z"/>
<path class="d k7" d="M1024.2 678.6l5.9 5.9l-5.9 5.9l-5.9-5.9z"/>
<path class="d k10" d="M582.8 516.3l5.9 5.9l-5.9 5.9l-5.9-5.9z"/>
<path class="d k11" d="M547.2 437.3l5.9 5.9l-5.9 5.9l-5.9-5.9z"/>
<path class="d k2" d="M1114.9 982.3l5.9 5.9l-5.9 5.9l-5.9-5.9z"/>
<path class="d k3" d="M1077.0 935.6l5.9 5.9l-5.9 5.9l-5.9-5.9z"/>
<path class="d k11" d="M597.4 466.6l5.9 5.9l-5.9 5.9l-5.9-5.9z"/>
<path class="d k11" d="M494.8 451.6l5.9 5.9l-5.9 5.9l-5.9-5.9z"/>
<path class="d k1" d="M1163.6 1063.6l5.9 5.9l-5.9 5.9l-5.9-5.9z"/>
<path class="d k9" d="M652.2 568.6l5.9 5.9l-5.9 5.9l-5.9-5.9z"/>
<path class="d k4" d="M1006.3 865.8l5.9 5.9l-5.9 5.9l-5.9-5.9z"/>
<path class="d k7" d="M852.5 722.5l5.9 5.9l-5.9 5.9l-5.9-5.9z"/>
<path class="d k0" d="M1195.8 1161.5l5.9 5.9l-5.9 5.9l-5.9-5.9z"/>
<path class="d k5" d="M777.0 841.8l5.9 5.9l-5.9 5.9l-5.9-5.9z"/>
<path class="d k0" d="M1248.9 1119.6l5.9 5.9l-5.9 5.9l-5.9-5.9z"/>
<path class="d k3" d="M1072.5 917.6l5.9 5.9l-5.9 5.9l-5.9-5.9z"/>
<path class="d k1" d="M1152.6 1072.0l5.9 5.9l-5.9 5.9l-5.9-5.9z"/>
<path class="d k0" d="M1249.2 1114.7l5.9 5.9l-5.9 5.9l-5.9-5.9z"/>
<path class="d k12" d="M599.1 389.7l5.9 5.9l-5.9 5.9l-5.9-5.9z"/>
<path class="d k7" d="M850.8 677.0l5.9 5.9l-5.9 5.9l-5.9-5.9z"/>
<path class="d k5" d="M899.4 830.9l5.9 5.9l-5.9 5.9l-5.9-5.9z"/>
<path class="d k7" d="M778.2 714.6l5.9 5.9l-5.9 5.9l-5.9-5.9z"/>
<path class="d k4" d="M1146.9 908.7l5.9 5.9l-5.9 5.9l-5.9-5.9z"/>
<path class="d k9" d="M710.7 575.9l5.9 5.9l-5.9 5.9l-5.9-5.9z"/>
<path class="d k3" d="M1077.0 958.0l5.9 5.9l-5.9 5.9l-5.9-5.9z"/>
<path class="d k6" d="M767.5 784.1l5.9 5.9l-5.9 5.9l-5.9-5.9z"/>
<path class="d k3" d="M656.0 936.1l5.9 5.9l-5.9 5.9l-5.9-5.9z"/>
<path class="d k4" d="M1215.2 882.1l5.9 5.9l-5.9 5.9l-5.9-5.9z"/>
<path class="d k1" d="M1119.2 1079.5l5.9 5.9l-5.9 5.9l-5.9-5.9z"/>
<path class="d k15" d="M521.5 243.9l5.9 5.9l-5.9 5.9l-5.9-5.9z"/>
<path class="d k0" d="M1238.1 1096.9l5.9 5.9l-5.9 5.9l-5.9-5.9z"/>
<path class="d k2" d="M1138.1 981.9l5.9 5.9l-5.9 5.9l-5.9-5.9z"/>
<path class="d k14" d="M443.5 298.3l5.9 5.9l-5.9 5.9l-5.9-5.9z"/>
<path class="d k0" d="M1142.0 1107.0l5.9 5.9l-5.9 5.9l-5.9-5.9z"/>
<path class="d k0" d="M1157.0 1103.2l5.9 5.9l-5.9 5.9l-5.9-5.9z"/>
<path class="d k11" d="M566.9 454.1l5.9 5.9l-5.9 5.9l-5.9-5.9z"/>
<path class="d k3" d="M925.4 927.3l5.9 5.9l-5.9 5.9l-5.9-5.9z"/>
<path class="d k7" d="M958.0 674.9l5.9 5.9l-5.9 5.9l-5.9-5.9z"/>
<path class="d k8" d="M742.4 656.7l5.9 5.9l-5.9 5.9l-5.9-5.9z"/>
<path class="d k2" d="M1110.2 1020.9l5.9 5.9l-5.9 5.9l-5.9-5.9z"/>
<path class="d k6" d="M714.9 766.0l5.9 5.9l-5.9 5.9l-5.9-5.9z"/>
<path class="d k4" d="M995.8 868.2l5.9 5.9l-5.9 5.9l-5.9-5.9z"/>
<path class="d k8" d="M676.5 626.7l5.9 5.9l-5.9 5.9l-5.9-5.9z"/>
<path class="d k2" d="M1095.4 975.9l5.9 5.9l-5.9 5.9l-5.9-5.9z"/>
<path class="d k5" d="M861.6 840.3l5.9 5.9l-5.9 5.9l-5.9-5.9z"/>
<path class="d k6" d="M946.8 774.5l5.9 5.9l-5.9 5.9l-5.9-5.9z"/>
<path class="d k8" d="M899.4 662.3l5.9 5.9l-5.9 5.9l-5.9-5.9z"/>
<path class="d k4" d="M1081.3 853.3l5.9 5.9l-5.9 5.9l-5.9-5.9z"/>
<path class="d k0" d="M1206.4 1145.4l5.9 5.9l-5.9 5.9l-5.9-5.9z"/>
<path class="d k12" d="M631.3 419.7l5.9 5.9l-5.9 5.9l-5.9-5.9z"/>
<path class="d k10" d="M622.3 534.1l5.9 5.9l-5.9 5.9l-5.9-5.9z"/>
<path class="d k3" d="M1150.8 945.4l5.9 5.9l-5.9 5.9l-5.9-5.9z"/>
<path class="d k11" d="M559.0 471.6l5.9 5.9l-5.9 5.9l-5.9-5.9z"/>
<path class="d k2" d="M1090.3 1015.1l5.9 5.9l-5.9 5.9l-5.9-5.9z"/>
<path class="d k2" d="M926.5 970.8l5.9 5.9l-5.9 5.9l-5.9-5.9z"/>
<path class="d k9" d="M838.4 587.2l5.9 5.9l-5.9 5.9l-5.9-5.9z"/>
<path class="d k6" d="M604.8 781.1l5.9 5.9l-5.9 5.9l-5.9-5.9z"/>
<path class="d k3" d="M1190.4 931.2l5.9 5.9l-5.9 5.9l-5.9-5.9z"/>
<path class="d k7" d="M718.3 706.7l5.9 5.9l-5.9 5.9l-5.9-5.9z"/>
<path class="d k9" d="M646.0 606.4l5.9 5.9l-5.9 5.9l-5.9-5.9z"/>
<path class="d k6" d="M922.6 767.1l5.9 5.9l-5.9 5.9l-5.9-5.9z"/>
<path class="d k15" d="M590.2 216.1l5.9 5.9l-5.9 5.9l-5.9-5.9z"/>
<path class="d k6" d="M963.6 754.7l5.9 5.9l-5.9 5.9l-5.9-5.9z"/>
<path class="d k10" d="M609.3 500.4l5.9 5.9l-5.9 5.9l-5.9-5.9z"/>
<path class="d k4" d="M1128.8 908.1l5.9 5.9l-5.9 5.9l-5.9-5.9z"/>
<path class="d k2" d="M1091.2 999.2l5.9 5.9l-5.9 5.9l-5.9-5.9z"/>
<path class="d k10" d="M655.6 508.9l5.9 5.9l-5.9 5.9l-5.9-5.9z"/>
<path class="d k1" d="M1115.5 1035.0l5.9 5.9l-5.9 5.9l-5.9-5.9z"/>
<path class="d k1" d="M1155.1 1085.4l5.9 5.9l-5.9 5.9l-5.9-5.9z"/>
<path class="d k7" d="M699.7 707.3l5.9 5.9l-5.9 5.9l-5.9-5.9z"/>
<path class="d k7" d="M892.6 720.8l5.9 5.9l-5.9 5.9l-5.9-5.9z"/>
<path class="d k3" d="M1015.4 926.1l5.9 5.9l-5.9 5.9l-5.9-5.9z"/>
<path class="d k3" d="M1059.1 945.0l5.9 5.9l-5.9 5.9l-5.9-5.9z"/>
<path class="d k8" d="M615.5 623.3l5.9 5.9l-5.9 5.9l-5.9-5.9z"/>
<path class="d k10" d="M648.3 501.6l5.9 5.9l-5.9 5.9l-5.9-5.9z"/>
<path class="d k6" d="M769.7 767.1l5.9 5.9l-5.9 5.9l-5.9-5.9z"/>
<path class="d k8" d="M846.9 660.6l5.9 5.9l-5.9 5.9l-5.9-5.9z"/>
<path class="d k2" d="M1093.7 986.2l5.9 5.9l-5.9 5.9l-5.9-5.9z"/>
<path class="d k7" d="M941.8 728.2l5.9 5.9l-5.9 5.9l-5.9-5.9z"/>
<path class="d k0" d="M1183.1 1144.6l5.9 5.9l-5.9 5.9l-5.9-5.9z"/>
<path class="d k8" d="M985.5 658.1l5.9 5.9l-5.9 5.9l-5.9-5.9z"/>
<path class="d k8" d="M613.8 643.1l5.9 5.9l-5.9 5.9l-5.9-5.9z"/>
<path class="d k3" d="M1045.6 950.4l5.9 5.9l-5.9 5.9l-5.9-5.9z"/>
<path class="d k0" d="M1248.8 1185.9l5.9 5.9l-5.9 5.9l-5.9-5.9z"/>
<path class="d k4" d="M973.8 868.5l5.9 5.9l-5.9 5.9l-5.9-5.9z"/>
<path class="d k3" d="M1159.9 945.4l5.9 5.9l-5.9 5.9l-5.9-5.9z"/>
<path class="d k11" d="M658.4 441.7l5.9 5.9l-5.9 5.9l-5.9-5.9z"/>
<path class="d k2" d="M755.2 1022.6l5.9 5.9l-5.9 5.9l-5.9-5.9z"/>
<path class="d k1" d="M756.0 1039.1l5.9 5.9l-5.9 5.9l-5.9-5.9z"/>
<path class="d k4" d="M951.1 855.9l5.9 5.9l-5.9 5.9l-5.9-5.9z"/>
<path class="d k0" d="M1216.2 1158.6l5.9 5.9l-5.9 5.9l-5.9-5.9z"/>
<path class="d k6" d="M499.8 735.1l5.9 5.9l-5.9 5.9l-5.9-5.9z"/>
<path class="d k7" d="M897.7 705.6l5.9 5.9l-5.9 5.9l-5.9-5.9z"/>
<path class="d k1" d="M1259.3 1077.8l5.9 5.9l-5.9 5.9l-5.9-5.9z"/>
<path class="d k0" d="M791.8 1126.3l5.9 5.9l-5.9 5.9l-5.9-5.9z"/>
<path class="d k4" d="M949.1 881.5l5.9 5.9l-5.9 5.9l-5.9-5.9z"/>
<path class="d k10" d="M681.0 536.4l5.9 5.9l-5.9 5.9l-5.9-5.9z"/>
<path class="d k5" d="M1024.0 826.4l5.9 5.9l-5.9 5.9l-5.9-5.9z"/>
<path class="d k6" d="M718.9 771.6l5.9 5.9l-5.9 5.9l-5.9-5.9z"/>
<path class="d k0" d="M1247.2 1121.1l5.9 5.9l-5.9 5.9l-5.9-5.9z"/>
<path class="d k8" d="M653.9 629.0l5.9 5.9l-5.9 5.9l-5.9-5.9z"/>
<path class="d k3" d="M1024.1 935.3l5.9 5.9l-5.9 5.9l-5.9-5.9z"/>
<path class="d k8" d="M686.7 647.1l5.9 5.9l-5.9 5.9l-5.9-5.9z"/>
<path class="d k13" d="M622.0 354.2l5.9 5.9l-5.9 5.9l-5.9-5.9z"/>
<path class="d k6" d="M1092.9 775.6l5.9 5.9l-5.9 5.9l-5.9-5.9z"/>
<path class="d k9" d="M867.8 597.9l5.9 5.9l-5.9 5.9l-5.9-5.9z"/>
<path class="d k5" d="M958.4 837.0l5.9 5.9l-5.9 5.9l-5.9-5.9z"/>
<path class="d k3" d="M1217.5 925.6l5.9 5.9l-5.9 5.9l-5.9-5.9z"/>
<path class="d k0" d="M1249.0 1111.2l5.9 5.9l-5.9 5.9l-5.9-5.9z"/>
<path class="d k3" d="M1141.2 959.5l5.9 5.9l-5.9 5.9l-5.9-5.9z"/>
<path class="d k3" d="M986.7 939.2l5.9 5.9l-5.9 5.9l-5.9-5.9z"/>
<path class="d k0" d="M1258.1 1141.8l5.9 5.9l-5.9 5.9l-5.9-5.9z"/>
<path class="d k5" d="M970.9 792.5l5.9 5.9l-5.9 5.9l-5.9-5.9z"/>
<path class="d k1" d="M1230.8 1072.4l5.9 5.9l-5.9 5.9l-5.9-5.9z"/>
<path class="d k6" d="M994.6 774.5l5.9 5.9l-5.9 5.9l-5.9-5.9z"/>
<path class="d k0" d="M1219.5 1101.3l5.9 5.9l-5.9 5.9l-5.9-5.9z"/>
<path class="d k6" d="M678.8 790.3l5.9 5.9l-5.9 5.9l-5.9-5.9z"/>
<path class="d k0" d="M1194.4 1168.3l5.9 5.9l-5.9 5.9l-5.9-5.9z"/>
<path class="d k6" d="M913.0 775.6l5.9 5.9l-5.9 5.9l-5.9-5.9z"/>
<path class="d k0" d="M1230.5 1159.0l5.9 5.9l-5.9 5.9l-5.9-5.9z"/>
<path class="d k6" d="M855.9 785.8l5.9 5.9l-5.9 5.9l-5.9-5.9z"/>
<path class="d k0" d="M1150.8 1128.1l5.9 5.9l-5.9 5.9l-5.9-5.9z"/>
<path class="d k0" d="M946.0 1133.1l5.9 5.9l-5.9 5.9l-5.9-5.9z"/>
<path class="d k5" d="M944.6 825.3l5.9 5.9l-5.9 5.9l-5.9-5.9z"/>
<path class="d k10" d="M648.3 518.5l5.9 5.9l-5.9 5.9l-5.9-5.9z"/>
<path class="d k1" d="M1235.3 1060.7l5.9 5.9l-5.9 5.9l-5.9-5.9z"/>
<path class="d k7" d="M476.0 674.9l5.9 5.9l-5.9 5.9l-5.9-5.9z"/>
<path class="d k5" d="M765.8 808.9l5.9 5.9l-5.9 5.9l-5.9-5.9z"/>
<path class="d k5" d="M933.3 848.8l5.9 5.9l-5.9 5.9l-5.9-5.9z"/>
<path class="d k3" d="M1157.6 964.0l5.9 5.9l-5.9 5.9l-5.9-5.9z"/>
<path class="d k15" d="M582.8 254.1l5.9 5.9l-5.9 5.9l-5.9-5.9z"/>
<path class="d k0" d="M1228.1 1155.8l5.9 5.9l-5.9 5.9l-5.9-5.9z"/>
<path class="d k6" d="M944.6 757.5l5.9 5.9l-5.9 5.9l-5.9-5.9z"/>
<path class="d k0" d="M1253.3 1098.9l5.9 5.9l-5.9 5.9l-5.9-5.9z"/>
<path class="d k11" d="M818.5 473.3l5.9 5.9l-5.9 5.9l-5.9-5.9z"/>
<path class="d k10" d="M624.6 511.7l5.9 5.9l-5.9 5.9l-5.9-5.9z"/>
<path class="d k2" d="M1117.2 977.7l5.9 5.9l-5.9 5.9l-5.9-5.9z"/>
<path class="d k4" d="M658.5 867.3l5.9 5.9l-5.9 5.9l-5.9-5.9z"/>
<path class="d k2" d="M1102.1 1022.4l5.9 5.9l-5.9 5.9l-5.9-5.9z"/>
<path class="d k7" d="M470.5 697.6l5.9 5.9l-5.9 5.9l-5.9-5.9z"/>
<path class="d k13" d="M672.1 362.6l5.9 5.9l-5.9 5.9l-5.9-5.9z"/>
<path class="d k2" d="M1126.1 1015.3l5.9 5.9l-5.9 5.9l-5.9-5.9z"/>
<path class="d k0" d="M1180.1 1100.9l5.9 5.9l-5.9 5.9l-5.9-5.9z"/>
<path class="d k3" d="M1109.7 961.8l5.9 5.9l-5.9 5.9l-5.9-5.9z"/>
<path class="d k8" d="M688.9 661.7l5.9 5.9l-5.9 5.9l-5.9-5.9z"/>
<path class="d k0" d="M1271.0 1166.5l5.9 5.9l-5.9 5.9l-5.9-5.9z"/>
<path class="d k12" d="M378.2 395.1l5.9 5.9l-5.9 5.9l-5.9-5.9z"/>
<path class="d k4" d="M1193.8 855.6l5.9 5.9l-5.9 5.9l-5.9-5.9z"/>
<path class="d k0" d="M1237.8 1138.3l5.9 5.9l-5.9 5.9l-5.9-5.9z"/>
<path class="d k2" d="M1075.5 968.7l5.9 5.9l-5.9 5.9l-5.9-5.9z"/>
<path class="d k2" d="M1210.3 1027.5l5.9 5.9l-5.9 5.9l-5.9-5.9z"/>
<path class="d k8" d="M611.6 621.1l5.9 5.9l-5.9 5.9l-5.9-5.9z"/>
<path class="d k2" d="M911.6 1014.2l5.9 5.9l-5.9 5.9l-5.9-5.9z"/>
<path class="d k1" d="M871.0 1066.3l5.9 5.9l-5.9 5.9l-5.9-5.9z"/>
<path class="d k4" d="M1014.8 864.3l5.9 5.9l-5.9 5.9l-5.9-5.9z"/>
<path class="d k1" d="M1155.6 1038.5l5.9 5.9l-5.9 5.9l-5.9-5.9z"/>
<path class="d k1" d="M692.5 1053.9l5.9 5.9l-5.9 5.9l-5.9-5.9z"/>
<path class="d k3" d="M849.1 944.8l5.9 5.9l-5.9 5.9l-5.9-5.9z"/>
<path class="d k1" d="M1163.1 1061.8l5.9 5.9l-5.9 5.9l-5.9-5.9z"/>
<path class="d k5" d="M679.9 833.2l5.9 5.9l-5.9 5.9l-5.9-5.9z"/>
<path class="d k1" d="M1213.8 1084.5l5.9 5.9l-5.9 5.9l-5.9-5.9z"/>
<path class="d k6" d="M1024.0 783.5l5.9 5.9l-5.9 5.9l-5.9-5.9z"/>
<path class="d k12" d="M596.4 377.4l5.9 5.9l-5.9 5.9l-5.9-5.9z"/>
<path class="d k16" d="M472.0 187.3l5.9 5.9l-5.9 5.9l-5.9-5.9z"/>
<path class="d k6" d="M918.0 786.3l5.9 5.9l-5.9 5.9l-5.9-5.9z"/>
<path class="d k8" d="M813.6 636.3l5.9 5.9l-5.9 5.9l-5.9-5.9z"/>
<path class="d k1" d="M1203.0 1062.4l5.9 5.9l-5.9 5.9l-5.9-5.9z"/>
<path class="d k0" d="M602.5 1164.3l5.9 5.9l-5.9 5.9l-5.9-5.9z"/>
<path class="d k0" d="M1213.9 1192.1l5.9 5.9l-5.9 5.9l-5.9-5.9z"/>
<path class="d k1" d="M1176.8 1062.7l5.9 5.9l-5.9 5.9l-5.9-5.9z"/>
<path class="d k4" d="M1006.3 862.1l5.9 5.9l-5.9 5.9l-5.9-5.9z"/>
<path class="d k5" d="M961.3 827.6l5.9 5.9l-5.9 5.9l-5.9-5.9z"/>
<path class="d k4" d="M1040.7 864.7l5.9 5.9l-5.9 5.9l-5.9-5.9z"/>
<path class="d k0" d="M1268.7 1150.1l5.9 5.9l-5.9 5.9l-5.9-5.9z"/>
<path class="d k3" d="M1046.0 942.1l5.9 5.9l-5.9 5.9l-5.9-5.9z"/>
<path class="d k7" d="M588.5 718.6l5.9 5.9l-5.9 5.9l-5.9-5.9z"/>
<path class="d k1" d="M894.2 1079.3l5.9 5.9l-5.9 5.9l-5.9-5.9z"/>
<path class="d k0" d="M1191.2 1149.8l5.9 5.9l-5.9 5.9l-5.9-5.9z"/>
<path class="d k2" d="M796.0 996.9l5.9 5.9l-5.9 5.9l-5.9-5.9z"/>
<path class="d k4" d="M1063.9 868.9l5.9 5.9l-5.9 5.9l-5.9-5.9z"/>
<path class="d k10" d="M587.3 529.8l5.9 5.9l-5.9 5.9l-5.9-5.9z"/>
<path class="d k4" d="M1035.3 883.2l5.9 5.9l-5.9 5.9l-5.9-5.9z"/>
<path class="d k2" d="M1083.3 1007.0l5.9 5.9l-5.9 5.9l-5.9-5.9z"/>
<path class="d k3" d="M939.5 933.5l5.9 5.9l-5.9 5.9l-5.9-5.9z"/>
<path class="d k7" d="M723.4 693.1l5.9 5.9l-5.9 5.9l-5.9-5.9z"/>
<path class="d k0" d="M1229.1 1136.2l5.9 5.9l-5.9 5.9l-5.9-5.9z"/>
<path class="d k1" d="M1165.5 1049.2l5.9 5.9l-5.9 5.9l-5.9-5.9z"/>
<path class="d k5" d="M640.2 815.6l5.9 5.9l-5.9 5.9l-5.9-5.9z"/>
<path class="d k13" d="M661.8 364.1l5.9 5.9l-5.9 5.9l-5.9-5.9z"/>
<path class="d k0" d="M1205.3 1104.4l5.9 5.9l-5.9 5.9l-5.9-5.9z"/>
<path class="d k3" d="M894.9 954.4l5.9 5.9l-5.9 5.9l-5.9-5.9z"/>
<path class="d k1" d="M1147.5 1029.0l5.9 5.9l-5.9 5.9l-5.9-5.9z"/>
<path class="d k7" d="M901.1 684.1l5.9 5.9l-5.9 5.9l-5.9-5.9z"/>
<path class="d k8" d="M854.2 634.1l5.9 5.9l-5.9 5.9l-5.9-5.9z"/>
<path class="d k3" d="M995.2 961.1l5.9 5.9l-5.9 5.9l-5.9-5.9z"/>
<path class="d k8" d="M704.5 669.6l5.9 5.9l-5.9 5.9l-5.9-5.9z"/>
<path class="d k9" d="M509.8 608.6l5.9 5.9l-5.9 5.9l-5.9-5.9z"/>
<path class="d k1" d="M1072.6 1032.0l5.9 5.9l-5.9 5.9l-5.9-5.9z"/>
<path class="d k10" d="M741.0 494.9l5.9 5.9l-5.9 5.9l-5.9-5.9z"/>
<path class="d k1" d="M664.8 1052.6l5.9 5.9l-5.9 5.9l-5.9-5.9z"/>
<path class="d k3" d="M907.3 918.3l5.9 5.9l-5.9 5.9l-5.9-5.9z"/>
<path class="d k2" d="M1099.5 1012.0l5.9 5.9l-5.9 5.9l-5.9-5.9z"/>
<path class="d k9" d="M674.3 583.2l5.9 5.9l-5.9 5.9l-5.9-5.9z"/>
<path class="d k0" d="M1195.1 1148.1l5.9 5.9l-5.9 5.9l-5.9-5.9z"/>
<path class="d k5" d="M906.2 835.2l5.9 5.9l-5.9 5.9l-5.9-5.9z"/>
<path class="d k7" d="M923.7 681.5l5.9 5.9l-5.9 5.9l-5.9-5.9z"/>
<path class="d k5" d="M1058.4 827.0l5.9 5.9l-5.9 5.9l-5.9-5.9z"/>
<path class="d k9" d="M842.4 604.1l5.9 5.9l-5.9 5.9l-5.9-5.9z"/>
<path class="d k1" d="M1060.8 1065.9l5.9 5.9l-5.9 5.9l-5.9-5.9z"/>
<path class="d k0" d="M1109.9 1115.6l5.9 5.9l-5.9 5.9l-5.9-5.9z"/>
<path class="d k2" d="M1192.8 995.9l5.9 5.9l-5.9 5.9l-5.9-5.9z"/>
<path class="d k7" d="M940.1 716.9l5.9 5.9l-5.9 5.9l-5.9-5.9z"/>
<path class="d k0" d="M1121.1 1095.5l5.9 5.9l-5.9 5.9l-5.9-5.9z"/>
<path class="d k7" d="M471.0 688.1l5.9 5.9l-5.9 5.9l-5.9-5.9z"/>
<path class="d k12" d="M639.2 407.8l5.9 5.9l-5.9 5.9l-5.9-5.9z"/>
<path class="d k1" d="M1123.2 1051.1l5.9 5.9l-5.9 5.9l-5.9-5.9z"/>
<path class="d k6" d="M674.3 734.9l5.9 5.9l-5.9 5.9l-5.9-5.9z"/>
<path class="d k5" d="M925.4 810.6l5.9 5.9l-5.9 5.9l-5.9-5.9z"/>
<path class="d k5" d="M936.7 820.8l5.9 5.9l-5.9 5.9l-5.9-5.9z"/>
<path class="d k1" d="M1167.9 1048.0l5.9 5.9l-5.9 5.9l-5.9-5.9z"/>
<path class="d k4" d="M825.4 855.0l5.9 5.9l-5.9 5.9l-5.9-5.9z"/>
<path class="d k8" d="M746.9 635.8l5.9 5.9l-5.9 5.9l-5.9-5.9z"/>
<path class="d k5" d="M785.5 807.8l5.9 5.9l-5.9 5.9l-5.9-5.9z"/>
<path class="d k10" d="M602.5 519.1l5.9 5.9l-5.9 5.9l-5.9-5.9z"/>
<path class="d k8" d="M534.0 633.6l5.9 5.9l-5.9 5.9l-5.9-5.9z"/>
<path class="d k0" d="M1302.3 1151.9l5.9 5.9l-5.9 5.9l-5.9-5.9z"/>
<path class="d k5" d="M642.2 835.6l5.9 5.9l-5.9 5.9l-5.9-5.9z"/>
</g>
<path d="M134.9 1212.1v24.6M134.9 24.3v-24.6M242.9 1212.1v24.6M242.9 24.3v-24.6M350.8 1212.1v24.6M350.8 24.3v-24.6M458.8 1212.1v24.6M458.8 24.3v-24.6M566.8 1212.1v24.6M566.8 24.3v-24.6M674.7 1212.1v24.6M674.7 24.3v-24.6M782.7 1212.1v24.6M782.7 24.3v-24.6M890.6 1212.1v24.6M890.6 24.3v-24.6M998.6 1212.1v24.6M998.6 24.3v-24.6M1106.6 1212.1v24.6M1106.6 24.3v-24.6M1214.5 1212.1v24.6M1214.5 24.3v-24.6M1322.5 1212.1v24.6M1322.5 24.3v-24.6M134.9 1212.1h-25M1322.5 1212.1h25M134.9 915.1h-25M1322.5 915.1h25M134.9 618.2h-25M1322.5 618.2h25M134.9 321.2h-25M1322.5 321.2h25M134.9 24.3h-25M1322.5 24.3h25" stroke="#000" stroke-width="2.3" fill="none"/>
<path d="M156.5 1212.1v13M156.5 24.3v-13M178.1 1212.1v13M178.1 24.3v-13M199.7 1212.1v13M199.7 24.3v-13M221.3 1212.1v13M221.3 24.3v-13M264.5 1212.1v13M264.5 24.3v-13M286.0 1212.1v13M286.0 24.3v-13M307.6 1212.1v13M307.6 24.3v-13M329.2 1212.1v13M329.2 24.3v-13M372.4 1212.1v13M372.4 24.3v-13M394.0 1212.1v13M394.0 24.3v-13M415.6 1212.1v13M415.6 24.3v-13M437.2 1212.1v13M437.2 24.3v-13M480.4 1212.1v13M480.4 24.3v-13M502.0 1212.1v13M502.0 24.3v-13M523.6 1212.1v13M523.6 24.3v-13M545.2 1212.1v13M545.2 24.3v-13M588.3 1212.1v13M588.3 24.3v-13M609.9 1212.1v13M609.9 24.3v-13M631.5 1212.1v13M631.5 24.3v-13M653.1 1212.1v13M653.1 24.3v-13M696.3 1212.1v13M696.3 24.3v-13M717.9 1212.1v13M717.9 24.3v-13M739.5 1212.1v13M739.5 24.3v-13M761.1 1212.1v13M761.1 24.3v-13M804.3 1212.1v13M804.3 24.3v-13M825.9 1212.1v13M825.9 24.3v-13M847.5 1212.1v13M847.5 24.3v-13M869.1 1212.1v13M869.1 24.3v-13M912.2 1212.1v13M912.2 24.3v-13M933.8 1212.1v13M933.8 24.3v-13M955.4 1212.1v13M955.4 24.3v-13M977.0 1212.1v13M977.0 24.3v-13M1020.2 1212.1v13M1020.2 24.3v-13M1041.8 1212.1v13M1041.8 24.3v-13M1063.4 1212.1v13M1063.4 24.3v-13M1085.0 1212.1v13M1085.0 24.3v-13M1128.2 1212.1v13M1128.2 24.3v-13M1149.8 1212.1v13M1149.8 24.3v-13M1171.4 1212.1v13M1171.4 24.3v-13M1192.9 1212.1v13M1192.9 24.3v-13M1236.1 1212.1v13M1236.1 24.3v-13M1257.7 1212.1v13M1257.7 24.3v-13M1279.3 1212.1v13M1279.3 24.3v-13M1300.9 1212.1v13M1300.9 24.3v-13M134.9 1152.7h-13M1322.5 1152.7h13M134.9 1093.3h-13M1322.5 1093.3h13M134.9 1033.9h-13M1322.5 1033.9h13M134.9 974.5h-13M1322.5 974.5h13M134.9 855.8h-13M1322.5 855.8h13M134.9 796.4h-13M1322.5 796.4h13M134.9 737.0h-13M1322.5 737.0h13M134.9 677.6h-13M1322.5 677.6h13M134.9 558.8h-13M1322.5 558.8h13M134.9 499.4h-13M1322.5 499.4h13M134.9 440.0h-13M1322.5 440.0h13M134.9 380.6h-13M1322.5 380.6h13M134.9 261.9h-13M1322.5 261.9h13M134.9 202.5h-13M1322.5 202.5h13M134.9 143.1h-13M1322.5 143.1h13M134.9 83.7h-13M1322.5 83.7h13" stroke="#000" stroke-width="2" fill="none"/>
<rect x="134.9" y="24.3" width="1187.6" height="1187.8" fill="none" stroke="#000" stroke-width="4.8"/>
<path d="M349.8 365.0L1322.7 1143.8" stroke="#0f0" stroke-opacity="0.72" stroke-width="19" stroke-linecap="round" fill="none"/>
<path d="M349.8 365.0L1322.7 1143.8" stroke="#999" stroke-width="3.8" stroke-linecap="round" fill="none"/>
<text class="tl" x="134.9" y="1265.2" text-anchor="middle">25</text>
<text class="tl" x="242.9" y="1265.2" text-anchor="middle">30</text>
<text class="tl" x="350.8" y="1265.2" text-anchor="middle">35</text>
<text class="tl" x="458.8" y="1265.2" text-anchor="middle">40</text>
<text class="tl" x="566.8" y="1265.2" text-anchor="middle">45</text>
<text class="tl" x="674.7" y="1265.2" text-anchor="middle">50</text>
<text class="tl" x="782.7" y="1265.2" text-anchor="middle">55</text>
<text class="tl" x="890.6" y="1265.2" text-anchor="middle">60</text>
<text class="tl" x="998.6" y="1265.2" text-anchor="middle">65</text>
<text class="tl" x="1106.6" y="1265.2" text-anchor="middle">70</text>
<text class="tl" x="1214.5" y="1265.2" text-anchor="middle">75</text>
<text class="tl" x="1322.5" y="1265.2" text-anchor="middle">80</text>
<text class="tl" x="106.2" y="1224.0" text-anchor="end">0</text>
<text class="tl" x="106.2" y="927.0" text-anchor="end">5</text>
<text class="tl" x="106.2" y="630.1" text-anchor="end">10</text>
<text class="tl" x="106.2" y="333.1" text-anchor="end">15</text>
<text class="tl" x="106.2" y="36.2" text-anchor="end">20</text>
<text class="b" x="606" y="1313.4" font-size="40" letter-spacing="4" fill="#000">SiO<tspan font-size="23" dy="14.8">2</tspan><tspan dy="-14.8"> (wt%)</tspan></text>
<text class="b" transform="translate(31 740) rotate(-90)" font-size="40" letter-spacing="4" fill="#000">FeO<tspan font-size="23" dy="14.2">T</tspan><tspan dy="-14.2"> (wt%)</tspan></text>
<rect x="890.5" y="23.6" width="431.8" height="297.9" fill="#fff" stroke="#000" stroke-width="2.8"/>
<text class="b" x="941.5" y="60.3" font-size="33" fill="#231f20">Granulite-facies rock:</text>
<circle cx="956.1" cy="108.2" r="9.4" fill="none" stroke="#000" stroke-width="2.7"/>
<text class="b" x="980.5" y="118" font-size="33" fill="#231f20">Archean</text>
<path d="M956.1 154l10.2 10.2l-10.2 10.2l-10.2-10.2z" fill="none" stroke="#f0f" stroke-width="2.4"/>
<text class="b" x="978.5" y="172.5" font-size="33" fill="#231f20">Post-Archean</text>
<text class="b" x="1005.5" y="232.4" font-size="33" letter-spacing="2.9" fill="#000">FeO<tspan font-size="18" dy="11.3">T</tspan><tspan dy="-11.3"> (wt%)</tspan></text>
<rect x="905.00" y="255.7" width="20.32" height="17.6" fill="#2400d8"/>
<rect x="924.83" y="255.7" width="20.32" height="17.6" fill="#2400d8"/>
<rect x="944.65" y="255.7" width="20.32" height="17.6" fill="#181cf7"/>
<rect x="964.48" y="255.7" width="20.32" height="17.6" fill="#2857ff"/>
<rect x="984.30" y="255.7" width="20.32" height="17.6" fill="#3d87ff"/>
<rect x="1004.12" y="255.7" width="20.32" height="17.6" fill="#56b0ff"/>
<rect x="1023.95" y="255.7" width="20.32" height="17.6" fill="#75d3ff"/>
<rect x="1043.78" y="255.7" width="20.32" height="17.6" fill="#99eaff"/>
<rect x="1063.60" y="255.7" width="20.32" height="17.6" fill="#bcf9ff"/>
<rect x="1083.42" y="255.7" width="20.32" height="17.6" fill="#eaffff"/>
<rect x="1103.25" y="255.7" width="20.32" height="17.6" fill="#ffffea"/>
<rect x="1123.08" y="255.7" width="20.32" height="17.6" fill="#fff1bc"/>
<rect x="1142.90" y="255.7" width="20.32" height="17.6" fill="#ffd699"/>
<rect x="1162.72" y="255.7" width="20.32" height="17.6" fill="#ffac75"/>
<rect x="1182.55" y="255.7" width="20.32" height="17.6" fill="#ff7856"/>
<rect x="1202.38" y="255.7" width="20.32" height="17.6" fill="#ff3d3d"/>
<rect x="1222.20" y="255.7" width="20.32" height="17.6" fill="#f72735"/>
<rect x="1242.03" y="255.7" width="20.32" height="17.6" fill="#d8152f"/>
<rect x="1261.85" y="255.7" width="20.32" height="17.6" fill="#a50021"/>
<rect x="1281.67" y="255.7" width="20.32" height="17.6" fill="#a50021"/>
<path d="M1301.5 255.7L1308.0 264.5L1301.5 273.3z" fill="#a50021" stroke="#000" stroke-width="2.5" stroke-linejoin="miter"/>
<rect x="905.0" y="255.7" width="396.5" height="17.6" fill="none" stroke="#000" stroke-width="2.5"/>
<path d="M905.00 255.7V285.3M924.83 273.3v6.3M944.65 273.3v6.3M964.48 273.3v6.3M984.30 273.3v6.3M1004.12 255.7V285.3M1023.95 273.3v6.3M1043.78 273.3v6.3M1063.60 273.3v6.3M1083.42 273.3v6.3M1103.25 255.7V285.3M1123.08 273.3v6.3M1142.90 273.3v6.3M1162.72 273.3v6.3M1182.55 273.3v6.3M1202.38 255.7V285.3M1222.20 273.3v6.3M1242.03 273.3v6.3M1261.85 273.3v6.3M1281.67 273.3v6.3M1301.50 255.7V285.3" stroke="#000" stroke-width="1.6" fill="none"/>
<text class="tl" x="905.0" y="312.3" text-anchor="middle">0</text>
<text class="tl" x="1004.1" y="312.3" text-anchor="middle">5</text>
<text class="tl" x="1103.2" y="312.3" text-anchor="middle">10</text>
<text class="tl" x="1202.4" y="312.3" text-anchor="middle">15</text>
<text class="tl" x="1301.5" y="312.3" text-anchor="middle">20</text>
</svg></body></html>
